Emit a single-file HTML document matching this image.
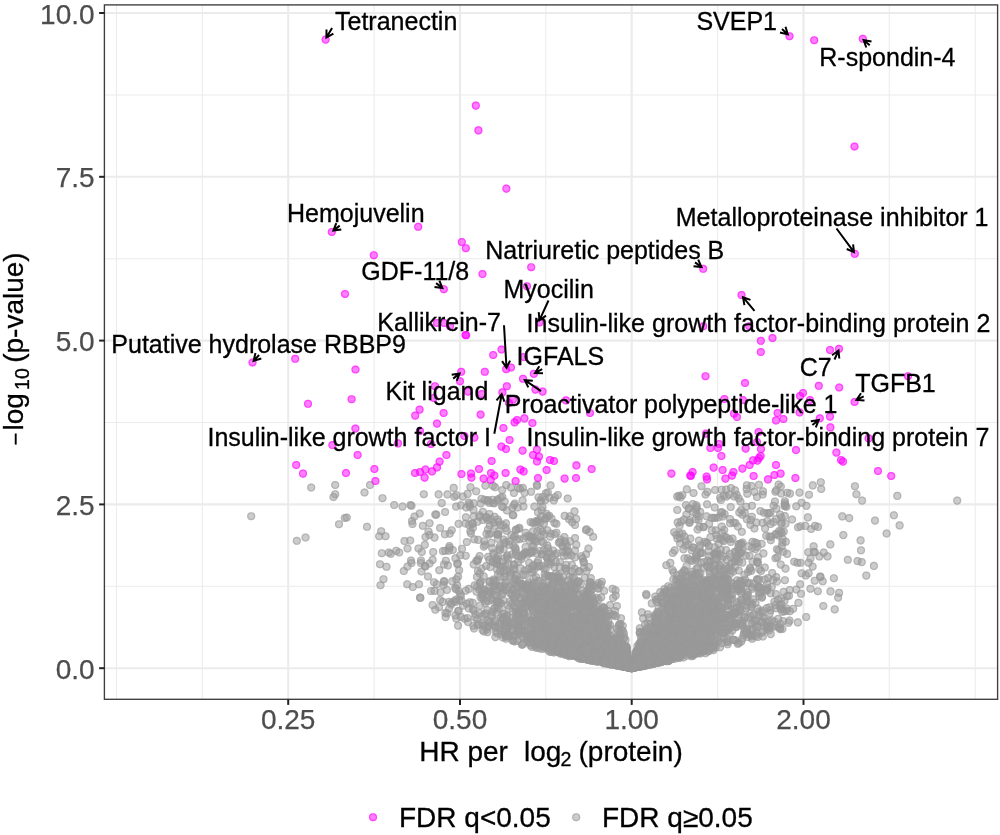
<!DOCTYPE html>
<html><head><meta charset="utf-8"><title>Volcano plot</title>
<style>
html,body{margin:0;padding:0;background:#fff;}
svg{display:block;font-family:"Liberation Sans",sans-serif;}
.tk{font-size:28px;fill:#4d4d4d;stroke:#4d4d4d;stroke-width:.25;}
.tt{font-size:28px;fill:#000;stroke:#000;stroke-width:.3;}
.lb{font-size:25px;fill:#000;stroke:#000;stroke-width:.3;}
.g{fill:#999999;stroke:#999999;}
.m{fill:#ff00ff;stroke:#ff00ff;}
.ar{stroke:#000;stroke-width:2;fill:none;stroke-linecap:butt;stroke-linejoin:miter;}
</style></head><body>
<svg width="1000" height="835" viewBox="0 0 1000 835">
<rect x="0" y="0" width="1000" height="835" fill="#fff"/>
<defs>
<g id="p"><circle r="4.05" fill-opacity=".5" stroke="none"/><circle r="3.45" fill="none" stroke-width="1.2" stroke-opacity=".5"/></g>
<clipPath id="cp"><rect x="104.4" y="4.9" width="893.2" height="694.4"/></clipPath></defs>
<g clip-path="url(#cp)">
<g stroke="#ebebeb" stroke-width="1.05">
<line x1="116.5" x2="116.5" y1="4.9" y2="699.3"/>
<line x1="202.3" x2="202.3" y1="4.9" y2="699.3"/>
<line x1="374.1" x2="374.1" y1="4.9" y2="699.3"/>
<line x1="545.8" x2="545.8" y1="4.9" y2="699.3"/>
<line x1="717.6" x2="717.6" y1="4.9" y2="699.3"/>
<line x1="889.3" x2="889.3" y1="4.9" y2="699.3"/>
<line x1="975.2" x2="975.2" y1="4.9" y2="699.3"/>
<line x1="104.4" x2="997.6" y1="586.3" y2="586.3"/>
<line x1="104.4" x2="997.6" y1="422.5" y2="422.5"/>
<line x1="104.4" x2="997.6" y1="258.7" y2="258.7"/>
<line x1="104.4" x2="997.6" y1="94.9" y2="94.9"/>
</g><g stroke="#ebebeb" stroke-width="2.1">
<line x1="288.2" x2="288.2" y1="4.9" y2="699.3"/>
<line x1="460.0" x2="460.0" y1="4.9" y2="699.3"/>
<line x1="631.7" x2="631.7" y1="4.9" y2="699.3"/>
<line x1="803.5" x2="803.5" y1="4.9" y2="699.3"/>
<line x1="104.4" x2="997.6" y1="668.2" y2="668.2"/>
<line x1="104.4" x2="997.6" y1="504.4" y2="504.4"/>
<line x1="104.4" x2="997.6" y1="340.6" y2="340.6"/>
<line x1="104.4" x2="997.6" y1="176.8" y2="176.8"/>
<line x1="104.4" x2="997.6" y1="13.0" y2="13.0"/>
</g>
<g class="g">
<use href="#p" x="541.6" y="554.0"/><use href="#p" x="623.4" y="661.5"/><use href="#p" x="673.7" y="655.6"/><use href="#p" x="541.3" y="612.6"/><use href="#p" x="662.8" y="621.5"/><use href="#p" x="715.1" y="628.8"/><use href="#p" x="657.7" y="660.5"/><use href="#p" x="694.6" y="652.6"/><use href="#p" x="574.8" y="642.5"/><use href="#p" x="612.8" y="653.0"/><use href="#p" x="697.8" y="647.6"/><use href="#p" x="612.1" y="650.4"/><use href="#p" x="578.9" y="618.3"/><use href="#p" x="700.6" y="598.6"/><use href="#p" x="541.6" y="631.7"/><use href="#p" x="720.3" y="638.6"/><use href="#p" x="545.7" y="518.3"/><use href="#p" x="532.7" y="597.1"/><use href="#p" x="541.6" y="510.2"/><use href="#p" x="598.6" y="643.5"/><use href="#p" x="747.2" y="601.7"/><use href="#p" x="579.5" y="634.5"/><use href="#p" x="558.1" y="581.5"/><use href="#p" x="614.4" y="639.8"/><use href="#p" x="659.7" y="647.4"/><use href="#p" x="558.3" y="641.4"/><use href="#p" x="603.4" y="661.1"/><use href="#p" x="637.9" y="663.6"/><use href="#p" x="547.5" y="516.5"/><use href="#p" x="680.0" y="538.1"/><use href="#p" x="646.1" y="663.9"/><use href="#p" x="539.9" y="618.3"/><use href="#p" x="531.2" y="617.1"/><use href="#p" x="616.7" y="655.8"/><use href="#p" x="676.4" y="534.9"/><use href="#p" x="599.1" y="660.8"/><use href="#p" x="696.4" y="639.0"/><use href="#p" x="636.6" y="656.5"/><use href="#p" x="724.9" y="577.4"/><use href="#p" x="555.1" y="554.8"/><use href="#p" x="638.0" y="666.1"/><use href="#p" x="554.1" y="600.4"/><use href="#p" x="484.0" y="589.4"/><use href="#p" x="462.8" y="496.6"/><use href="#p" x="723.0" y="591.7"/><use href="#p" x="597.4" y="642.4"/><use href="#p" x="726.1" y="583.7"/><use href="#p" x="516.7" y="586.2"/><use href="#p" x="624.5" y="666.1"/><use href="#p" x="495.2" y="626.2"/><use href="#p" x="557.4" y="598.2"/><use href="#p" x="559.6" y="649.0"/><use href="#p" x="419.0" y="584.3"/><use href="#p" x="605.6" y="643.2"/><use href="#p" x="641.5" y="664.0"/><use href="#p" x="575.4" y="588.7"/><use href="#p" x="714.9" y="571.5"/><use href="#p" x="702.0" y="629.5"/><use href="#p" x="517.1" y="640.8"/><use href="#p" x="688.6" y="623.4"/><use href="#p" x="553.2" y="593.4"/><use href="#p" x="719.6" y="607.5"/><use href="#p" x="704.0" y="628.5"/><use href="#p" x="439.1" y="607.2"/><use href="#p" x="702.9" y="650.3"/><use href="#p" x="672.1" y="654.8"/><use href="#p" x="720.9" y="512.4"/><use href="#p" x="592.5" y="624.3"/><use href="#p" x="643.5" y="631.8"/><use href="#p" x="814.9" y="525.9"/><use href="#p" x="601.6" y="655.3"/><use href="#p" x="740.3" y="610.2"/><use href="#p" x="691.9" y="639.0"/><use href="#p" x="489.1" y="621.2"/><use href="#p" x="843.3" y="535.1"/><use href="#p" x="580.0" y="615.6"/><use href="#p" x="744.5" y="605.3"/><use href="#p" x="645.6" y="663.2"/><use href="#p" x="652.9" y="636.2"/><use href="#p" x="609.1" y="661.5"/><use href="#p" x="657.6" y="638.6"/><use href="#p" x="690.1" y="560.0"/><use href="#p" x="613.4" y="650.5"/><use href="#p" x="737.7" y="643.8"/><use href="#p" x="463.0" y="605.7"/><use href="#p" x="681.6" y="624.4"/><use href="#p" x="674.0" y="596.2"/><use href="#p" x="542.7" y="583.3"/><use href="#p" x="470.9" y="533.3"/><use href="#p" x="574.9" y="616.4"/><use href="#p" x="708.5" y="592.0"/><use href="#p" x="536.6" y="521.4"/><use href="#p" x="681.2" y="630.7"/><use href="#p" x="687.3" y="613.8"/><use href="#p" x="641.5" y="665.6"/><use href="#p" x="666.3" y="659.2"/><use href="#p" x="550.2" y="648.6"/><use href="#p" x="647.5" y="659.6"/><use href="#p" x="573.3" y="637.4"/><use href="#p" x="572.2" y="522.3"/><use href="#p" x="644.1" y="660.5"/><use href="#p" x="624.9" y="653.1"/><use href="#p" x="714.0" y="643.1"/><use href="#p" x="661.5" y="661.9"/><use href="#p" x="722.0" y="623.6"/><use href="#p" x="421.5" y="571.5"/><use href="#p" x="707.5" y="582.1"/><use href="#p" x="684.3" y="634.2"/><use href="#p" x="701.6" y="611.4"/><use href="#p" x="686.7" y="630.5"/><use href="#p" x="521.9" y="644.7"/><use href="#p" x="698.8" y="516.5"/><use href="#p" x="668.6" y="660.8"/><use href="#p" x="545.4" y="624.3"/><use href="#p" x="624.0" y="657.2"/><use href="#p" x="578.6" y="618.6"/><use href="#p" x="474.2" y="539.3"/><use href="#p" x="660.3" y="651.5"/><use href="#p" x="534.0" y="624.5"/><use href="#p" x="676.7" y="621.1"/><use href="#p" x="717.2" y="554.1"/><use href="#p" x="479.7" y="573.4"/><use href="#p" x="633.7" y="665.9"/><use href="#p" x="663.4" y="651.6"/><use href="#p" x="781.3" y="517.6"/><use href="#p" x="652.2" y="660.3"/><use href="#p" x="715.4" y="605.1"/><use href="#p" x="677.9" y="642.7"/><use href="#p" x="714.2" y="586.8"/><use href="#p" x="684.5" y="558.3"/><use href="#p" x="693.2" y="653.7"/><use href="#p" x="707.6" y="580.4"/><use href="#p" x="672.9" y="652.1"/><use href="#p" x="641.2" y="663.8"/><use href="#p" x="645.0" y="633.1"/><use href="#p" x="583.6" y="628.0"/><use href="#p" x="591.3" y="620.9"/><use href="#p" x="655.1" y="643.9"/><use href="#p" x="589.5" y="610.6"/><use href="#p" x="494.4" y="608.3"/><use href="#p" x="780.8" y="486.5"/><use href="#p" x="681.3" y="604.2"/><use href="#p" x="646.1" y="657.5"/><use href="#p" x="552.6" y="596.5"/><use href="#p" x="856.4" y="494.2"/><use href="#p" x="823.3" y="606.0"/><use href="#p" x="531.4" y="606.3"/><use href="#p" x="680.1" y="628.6"/><use href="#p" x="765.4" y="590.1"/><use href="#p" x="677.1" y="579.3"/><use href="#p" x="779.7" y="606.0"/><use href="#p" x="758.9" y="592.9"/><use href="#p" x="630.4" y="667.0"/><use href="#p" x="607.5" y="660.7"/><use href="#p" x="618.0" y="636.0"/><use href="#p" x="576.5" y="631.5"/><use href="#p" x="772.0" y="620.2"/><use href="#p" x="685.9" y="541.3"/><use href="#p" x="657.2" y="647.6"/><use href="#p" x="685.9" y="631.2"/><use href="#p" x="686.7" y="636.8"/><use href="#p" x="572.2" y="616.7"/><use href="#p" x="684.3" y="625.1"/><use href="#p" x="465.8" y="590.7"/><use href="#p" x="718.9" y="640.9"/><use href="#p" x="494.3" y="503.3"/><use href="#p" x="654.5" y="660.4"/><use href="#p" x="683.7" y="592.1"/><use href="#p" x="608.5" y="661.4"/><use href="#p" x="557.8" y="591.1"/><use href="#p" x="629.5" y="663.3"/><use href="#p" x="625.5" y="663.4"/><use href="#p" x="532.6" y="633.9"/><use href="#p" x="550.6" y="553.6"/><use href="#p" x="686.2" y="621.6"/><use href="#p" x="670.3" y="562.9"/><use href="#p" x="684.7" y="650.3"/><use href="#p" x="505.6" y="566.0"/><use href="#p" x="721.8" y="526.6"/><use href="#p" x="598.0" y="647.8"/><use href="#p" x="642.1" y="661.6"/><use href="#p" x="533.8" y="611.1"/><use href="#p" x="611.5" y="655.1"/><use href="#p" x="641.0" y="644.2"/><use href="#p" x="619.5" y="665.0"/><use href="#p" x="665.9" y="638.2"/><use href="#p" x="613.2" y="660.7"/><use href="#p" x="620.1" y="639.2"/><use href="#p" x="857.5" y="561.1"/><use href="#p" x="663.1" y="646.3"/><use href="#p" x="676.0" y="608.8"/><use href="#p" x="647.9" y="661.9"/><use href="#p" x="654.9" y="653.1"/><use href="#p" x="696.7" y="647.7"/><use href="#p" x="532.2" y="572.4"/><use href="#p" x="596.8" y="597.7"/><use href="#p" x="589.6" y="612.3"/><use href="#p" x="645.3" y="658.5"/><use href="#p" x="710.1" y="562.1"/><use href="#p" x="513.4" y="546.2"/><use href="#p" x="656.5" y="615.7"/><use href="#p" x="683.1" y="651.8"/><use href="#p" x="626.4" y="662.2"/><use href="#p" x="808.3" y="552.2"/><use href="#p" x="692.0" y="642.1"/><use href="#p" x="481.5" y="568.6"/><use href="#p" x="496.6" y="561.4"/><use href="#p" x="670.8" y="634.8"/><use href="#p" x="529.2" y="598.2"/><use href="#p" x="629.7" y="667.3"/><use href="#p" x="571.8" y="622.5"/><use href="#p" x="604.9" y="653.2"/><use href="#p" x="692.6" y="641.9"/><use href="#p" x="553.8" y="500.4"/><use href="#p" x="775.4" y="491.7"/><use href="#p" x="632.5" y="667.5"/><use href="#p" x="686.2" y="631.9"/><use href="#p" x="519.7" y="609.5"/><use href="#p" x="576.4" y="604.4"/><use href="#p" x="648.1" y="663.0"/><use href="#p" x="741.8" y="531.8"/><use href="#p" x="597.5" y="646.9"/><use href="#p" x="577.8" y="652.9"/><use href="#p" x="678.1" y="625.9"/><use href="#p" x="604.4" y="661.8"/><use href="#p" x="586.8" y="655.9"/><use href="#p" x="584.6" y="653.5"/><use href="#p" x="563.1" y="610.2"/><use href="#p" x="566.3" y="570.5"/><use href="#p" x="536.0" y="577.0"/><use href="#p" x="563.7" y="647.2"/><use href="#p" x="778.7" y="627.4"/><use href="#p" x="562.7" y="612.5"/><use href="#p" x="606.5" y="658.5"/><use href="#p" x="672.3" y="630.4"/><use href="#p" x="616.8" y="660.4"/><use href="#p" x="580.6" y="656.8"/><use href="#p" x="747.6" y="592.5"/><use href="#p" x="636.7" y="665.9"/><use href="#p" x="640.6" y="663.7"/><use href="#p" x="532.2" y="608.8"/><use href="#p" x="432.6" y="559.9"/><use href="#p" x="579.2" y="624.0"/><use href="#p" x="551.7" y="636.4"/><use href="#p" x="631.5" y="668.1"/><use href="#p" x="468.7" y="502.6"/><use href="#p" x="659.3" y="649.2"/><use href="#p" x="644.9" y="665.0"/><use href="#p" x="559.9" y="615.2"/><use href="#p" x="547.7" y="588.6"/><use href="#p" x="556.1" y="591.8"/><use href="#p" x="634.8" y="664.3"/><use href="#p" x="683.9" y="617.3"/><use href="#p" x="553.8" y="648.5"/><use href="#p" x="472.9" y="527.8"/><use href="#p" x="645.4" y="665.7"/><use href="#p" x="670.0" y="623.5"/><use href="#p" x="543.7" y="627.4"/><use href="#p" x="660.0" y="628.9"/><use href="#p" x="546.4" y="513.7"/><use href="#p" x="637.8" y="666.2"/><use href="#p" x="581.3" y="556.2"/><use href="#p" x="692.2" y="605.8"/><use href="#p" x="521.3" y="624.9"/><use href="#p" x="643.9" y="656.6"/><use href="#p" x="733.6" y="622.2"/><use href="#p" x="540.4" y="550.7"/><use href="#p" x="557.9" y="651.7"/><use href="#p" x="296.8" y="540.8"/><use href="#p" x="589.7" y="606.5"/><use href="#p" x="672.0" y="596.2"/><use href="#p" x="614.5" y="663.3"/><use href="#p" x="527.2" y="637.9"/><use href="#p" x="584.7" y="656.2"/><use href="#p" x="797.8" y="622.4"/><use href="#p" x="580.2" y="627.9"/><use href="#p" x="651.9" y="644.6"/><use href="#p" x="547.4" y="575.8"/><use href="#p" x="633.2" y="666.9"/><use href="#p" x="511.6" y="593.4"/><use href="#p" x="489.1" y="534.6"/><use href="#p" x="598.5" y="645.9"/><use href="#p" x="654.5" y="616.8"/><use href="#p" x="732.4" y="630.4"/><use href="#p" x="608.2" y="644.1"/><use href="#p" x="643.4" y="659.5"/><use href="#p" x="605.2" y="661.6"/><use href="#p" x="562.0" y="653.8"/><use href="#p" x="631.7" y="668.2"/><use href="#p" x="578.7" y="581.2"/><use href="#p" x="814.9" y="552.2"/><use href="#p" x="567.2" y="647.3"/><use href="#p" x="586.9" y="627.6"/><use href="#p" x="598.8" y="635.8"/><use href="#p" x="671.3" y="620.4"/><use href="#p" x="674.8" y="645.1"/><use href="#p" x="618.3" y="665.2"/><use href="#p" x="604.5" y="621.3"/><use href="#p" x="531.6" y="590.4"/><use href="#p" x="672.1" y="640.5"/><use href="#p" x="652.1" y="651.8"/><use href="#p" x="626.5" y="663.5"/><use href="#p" x="553.1" y="607.7"/><use href="#p" x="658.7" y="632.0"/><use href="#p" x="539.5" y="642.9"/><use href="#p" x="548.7" y="616.0"/><use href="#p" x="586.9" y="644.4"/><use href="#p" x="698.5" y="651.9"/><use href="#p" x="565.7" y="613.1"/><use href="#p" x="714.3" y="619.6"/><use href="#p" x="576.3" y="627.7"/><use href="#p" x="457.8" y="563.4"/><use href="#p" x="633.7" y="661.0"/><use href="#p" x="714.1" y="554.2"/><use href="#p" x="630.8" y="666.1"/><use href="#p" x="625.6" y="664.5"/><use href="#p" x="622.4" y="662.3"/><use href="#p" x="542.4" y="531.5"/><use href="#p" x="419.7" y="513.5"/><use href="#p" x="743.6" y="634.9"/><use href="#p" x="672.8" y="652.8"/><use href="#p" x="713.5" y="607.0"/><use href="#p" x="449.0" y="601.7"/><use href="#p" x="772.2" y="627.4"/><use href="#p" x="623.6" y="638.8"/><use href="#p" x="621.5" y="664.6"/><use href="#p" x="484.2" y="614.4"/><use href="#p" x="796.3" y="589.5"/><use href="#p" x="769.4" y="536.5"/><use href="#p" x="662.9" y="653.3"/><use href="#p" x="529.9" y="642.8"/><use href="#p" x="626.3" y="660.9"/><use href="#p" x="530.5" y="620.8"/><use href="#p" x="541.2" y="628.4"/><use href="#p" x="691.5" y="629.7"/><use href="#p" x="626.2" y="665.8"/><use href="#p" x="562.6" y="649.0"/><use href="#p" x="561.1" y="593.7"/><use href="#p" x="559.2" y="618.8"/><use href="#p" x="506.4" y="623.8"/><use href="#p" x="711.0" y="612.3"/><use href="#p" x="820.5" y="576.9"/><use href="#p" x="451.3" y="604.6"/><use href="#p" x="610.4" y="664.3"/><use href="#p" x="636.7" y="664.0"/><use href="#p" x="658.8" y="641.5"/><use href="#p" x="685.5" y="643.8"/><use href="#p" x="550.9" y="533.5"/><use href="#p" x="776.2" y="534.2"/><use href="#p" x="674.8" y="632.2"/><use href="#p" x="638.4" y="657.7"/><use href="#p" x="683.0" y="617.5"/><use href="#p" x="646.2" y="649.1"/><use href="#p" x="668.4" y="610.0"/><use href="#p" x="582.6" y="653.1"/><use href="#p" x="713.8" y="629.1"/><use href="#p" x="541.1" y="541.5"/><use href="#p" x="662.6" y="654.9"/><use href="#p" x="610.3" y="661.7"/><use href="#p" x="642.1" y="657.0"/><use href="#p" x="692.7" y="577.7"/><use href="#p" x="599.1" y="623.6"/><use href="#p" x="481.5" y="498.7"/><use href="#p" x="541.1" y="588.0"/><use href="#p" x="668.3" y="649.0"/><use href="#p" x="526.6" y="536.3"/><use href="#p" x="650.6" y="654.9"/><use href="#p" x="593.7" y="652.1"/><use href="#p" x="639.0" y="661.7"/><use href="#p" x="534.5" y="587.6"/><use href="#p" x="623.7" y="664.0"/><use href="#p" x="747.1" y="629.2"/><use href="#p" x="813.8" y="551.8"/><use href="#p" x="629.7" y="666.1"/><use href="#p" x="638.6" y="661.2"/><use href="#p" x="495.4" y="637.1"/><use href="#p" x="684.9" y="605.0"/><use href="#p" x="691.6" y="627.7"/><use href="#p" x="745.1" y="611.0"/><use href="#p" x="541.7" y="610.3"/><use href="#p" x="629.7" y="661.2"/><use href="#p" x="576.6" y="594.1"/><use href="#p" x="696.0" y="584.5"/><use href="#p" x="653.7" y="663.8"/><use href="#p" x="700.4" y="573.0"/><use href="#p" x="489.4" y="592.0"/><use href="#p" x="550.6" y="485.4"/><use href="#p" x="568.2" y="612.6"/><use href="#p" x="637.6" y="666.6"/><use href="#p" x="557.8" y="645.0"/><use href="#p" x="689.7" y="604.6"/><use href="#p" x="619.9" y="639.0"/><use href="#p" x="679.4" y="640.6"/><use href="#p" x="590.0" y="659.3"/><use href="#p" x="676.8" y="586.7"/><use href="#p" x="607.5" y="643.0"/><use href="#p" x="493.5" y="522.6"/><use href="#p" x="544.8" y="605.8"/><use href="#p" x="714.4" y="644.7"/><use href="#p" x="704.0" y="590.3"/><use href="#p" x="571.2" y="619.4"/><use href="#p" x="670.7" y="648.6"/><use href="#p" x="785.5" y="568.6"/><use href="#p" x="616.9" y="645.1"/><use href="#p" x="631.4" y="668.1"/><use href="#p" x="714.6" y="553.9"/><use href="#p" x="628.8" y="666.4"/><use href="#p" x="566.6" y="648.4"/><use href="#p" x="635.7" y="661.3"/><use href="#p" x="596.9" y="616.0"/><use href="#p" x="727.7" y="603.4"/><use href="#p" x="548.8" y="627.8"/><use href="#p" x="613.0" y="643.8"/><use href="#p" x="693.7" y="631.0"/><use href="#p" x="672.7" y="635.3"/><use href="#p" x="703.5" y="526.7"/><use href="#p" x="552.8" y="633.1"/><use href="#p" x="736.3" y="623.1"/><use href="#p" x="621.5" y="644.4"/><use href="#p" x="619.6" y="663.5"/><use href="#p" x="572.5" y="654.0"/><use href="#p" x="651.3" y="662.7"/><use href="#p" x="460.9" y="505.3"/><use href="#p" x="632.1" y="668.0"/><use href="#p" x="563.6" y="614.7"/><use href="#p" x="557.2" y="593.9"/><use href="#p" x="494.8" y="585.8"/><use href="#p" x="631.6" y="668.0"/><use href="#p" x="615.3" y="659.6"/><use href="#p" x="751.9" y="586.9"/><use href="#p" x="672.6" y="626.8"/><use href="#p" x="636.3" y="666.6"/><use href="#p" x="582.6" y="656.2"/><use href="#p" x="608.2" y="636.7"/><use href="#p" x="612.9" y="652.0"/><use href="#p" x="580.9" y="654.7"/><use href="#p" x="613.5" y="663.5"/><use href="#p" x="620.7" y="656.2"/><use href="#p" x="613.2" y="656.0"/><use href="#p" x="747.3" y="583.2"/><use href="#p" x="664.1" y="634.5"/><use href="#p" x="671.1" y="597.6"/><use href="#p" x="615.0" y="658.3"/><use href="#p" x="578.4" y="628.2"/><use href="#p" x="532.6" y="634.5"/><use href="#p" x="775.6" y="534.1"/><use href="#p" x="640.6" y="659.1"/><use href="#p" x="622.3" y="658.8"/><use href="#p" x="613.4" y="614.5"/><use href="#p" x="595.7" y="619.5"/><use href="#p" x="673.3" y="603.3"/><use href="#p" x="534.6" y="629.4"/><use href="#p" x="622.5" y="662.6"/><use href="#p" x="593.3" y="602.2"/><use href="#p" x="618.7" y="625.8"/><use href="#p" x="624.9" y="663.3"/><use href="#p" x="645.1" y="659.3"/><use href="#p" x="502.8" y="566.6"/><use href="#p" x="799.5" y="492.6"/><use href="#p" x="574.0" y="577.6"/><use href="#p" x="641.7" y="655.0"/><use href="#p" x="602.6" y="652.9"/><use href="#p" x="633.1" y="667.8"/><use href="#p" x="557.3" y="647.3"/><use href="#p" x="622.2" y="647.7"/><use href="#p" x="344.8" y="518.0"/><use href="#p" x="610.0" y="635.3"/><use href="#p" x="727.0" y="630.5"/><use href="#p" x="873.9" y="565.9"/><use href="#p" x="686.0" y="505.1"/><use href="#p" x="638.6" y="663.7"/><use href="#p" x="690.8" y="624.3"/><use href="#p" x="557.4" y="642.5"/><use href="#p" x="651.8" y="603.4"/><use href="#p" x="556.8" y="601.0"/><use href="#p" x="626.6" y="665.8"/><use href="#p" x="543.5" y="618.8"/><use href="#p" x="585.9" y="651.5"/><use href="#p" x="808.6" y="562.8"/><use href="#p" x="707.0" y="543.0"/><use href="#p" x="735.9" y="551.7"/><use href="#p" x="627.9" y="665.9"/><use href="#p" x="682.4" y="623.1"/><use href="#p" x="423.8" y="494.2"/><use href="#p" x="460.3" y="555.3"/><use href="#p" x="767.5" y="627.5"/><use href="#p" x="590.9" y="632.6"/><use href="#p" x="599.2" y="656.4"/><use href="#p" x="672.0" y="647.2"/><use href="#p" x="590.5" y="659.1"/><use href="#p" x="620.1" y="657.7"/><use href="#p" x="642.9" y="660.8"/><use href="#p" x="639.2" y="652.2"/><use href="#p" x="606.7" y="660.6"/><use href="#p" x="575.0" y="550.5"/><use href="#p" x="640.1" y="659.3"/><use href="#p" x="588.1" y="639.2"/><use href="#p" x="669.7" y="652.4"/><use href="#p" x="504.0" y="613.5"/><use href="#p" x="724.6" y="536.7"/><use href="#p" x="560.8" y="539.5"/><use href="#p" x="580.5" y="611.1"/><use href="#p" x="591.3" y="612.0"/><use href="#p" x="671.7" y="647.8"/><use href="#p" x="707.6" y="601.7"/><use href="#p" x="644.3" y="657.2"/><use href="#p" x="580.5" y="631.7"/><use href="#p" x="607.7" y="644.3"/><use href="#p" x="591.8" y="637.1"/><use href="#p" x="536.4" y="538.6"/><use href="#p" x="649.8" y="662.4"/><use href="#p" x="517.3" y="630.3"/><use href="#p" x="714.4" y="645.2"/><use href="#p" x="592.0" y="642.4"/><use href="#p" x="559.2" y="641.5"/><use href="#p" x="547.9" y="639.2"/><use href="#p" x="655.7" y="661.7"/><use href="#p" x="520.1" y="488.7"/><use href="#p" x="637.4" y="664.1"/><use href="#p" x="594.7" y="642.5"/><use href="#p" x="634.9" y="658.9"/><use href="#p" x="657.7" y="652.3"/><use href="#p" x="625.3" y="655.3"/><use href="#p" x="622.9" y="662.6"/><use href="#p" x="700.4" y="610.2"/><use href="#p" x="637.9" y="664.3"/><use href="#p" x="716.6" y="622.9"/><use href="#p" x="615.6" y="657.0"/><use href="#p" x="705.8" y="632.4"/><use href="#p" x="634.2" y="667.4"/><use href="#p" x="541.3" y="516.3"/><use href="#p" x="554.4" y="616.9"/><use href="#p" x="800.1" y="584.3"/><use href="#p" x="648.9" y="654.2"/><use href="#p" x="490.3" y="567.1"/><use href="#p" x="723.8" y="586.6"/><use href="#p" x="644.1" y="651.0"/><use href="#p" x="677.1" y="604.4"/><use href="#p" x="545.2" y="500.1"/><use href="#p" x="305.5" y="537.5"/><use href="#p" x="819.5" y="556.4"/><use href="#p" x="691.8" y="625.8"/><use href="#p" x="838.1" y="597.6"/><use href="#p" x="623.5" y="661.9"/><use href="#p" x="705.6" y="630.2"/><use href="#p" x="693.3" y="587.7"/><use href="#p" x="582.8" y="651.8"/><use href="#p" x="615.7" y="658.0"/><use href="#p" x="566.0" y="568.7"/><use href="#p" x="692.9" y="504.0"/><use href="#p" x="700.7" y="553.0"/><use href="#p" x="685.6" y="600.1"/><use href="#p" x="628.5" y="667.4"/><use href="#p" x="594.0" y="656.7"/><use href="#p" x="697.0" y="621.2"/><use href="#p" x="511.6" y="636.5"/><use href="#p" x="676.5" y="625.9"/><use href="#p" x="592.2" y="599.0"/><use href="#p" x="679.0" y="651.3"/><use href="#p" x="553.0" y="593.5"/><use href="#p" x="499.5" y="587.1"/><use href="#p" x="636.7" y="664.3"/><use href="#p" x="693.6" y="596.2"/><use href="#p" x="568.3" y="639.1"/><use href="#p" x="631.5" y="668.2"/><use href="#p" x="579.0" y="658.4"/><use href="#p" x="727.0" y="641.6"/><use href="#p" x="674.8" y="658.8"/><use href="#p" x="595.3" y="623.7"/><use href="#p" x="544.5" y="592.8"/><use href="#p" x="591.3" y="643.5"/><use href="#p" x="703.4" y="650.7"/><use href="#p" x="457.2" y="564.1"/><use href="#p" x="766.2" y="535.8"/><use href="#p" x="677.1" y="620.5"/><use href="#p" x="544.9" y="647.5"/><use href="#p" x="570.3" y="605.1"/><use href="#p" x="516.5" y="626.0"/><use href="#p" x="616.9" y="649.6"/><use href="#p" x="627.4" y="664.3"/><use href="#p" x="678.1" y="637.6"/><use href="#p" x="663.7" y="659.3"/><use href="#p" x="597.6" y="645.0"/><use href="#p" x="513.7" y="537.5"/><use href="#p" x="444.0" y="581.8"/><use href="#p" x="513.0" y="640.3"/><use href="#p" x="667.6" y="633.4"/><use href="#p" x="721.5" y="489.7"/><use href="#p" x="581.4" y="658.9"/><use href="#p" x="466.8" y="603.8"/><use href="#p" x="549.5" y="608.0"/><use href="#p" x="610.0" y="625.0"/><use href="#p" x="728.4" y="598.2"/><use href="#p" x="701.3" y="637.6"/><use href="#p" x="747.0" y="600.5"/><use href="#p" x="722.3" y="623.7"/><use href="#p" x="637.0" y="666.6"/><use href="#p" x="620.3" y="639.0"/><use href="#p" x="677.7" y="522.4"/><use href="#p" x="570.8" y="602.3"/><use href="#p" x="559.1" y="600.8"/><use href="#p" x="551.4" y="590.6"/><use href="#p" x="536.8" y="626.2"/><use href="#p" x="557.8" y="495.1"/><use href="#p" x="569.5" y="648.0"/><use href="#p" x="579.6" y="632.2"/><use href="#p" x="485.4" y="485.6"/><use href="#p" x="548.3" y="603.0"/><use href="#p" x="601.8" y="581.7"/><use href="#p" x="476.2" y="491.3"/><use href="#p" x="679.1" y="614.8"/><use href="#p" x="663.7" y="641.6"/><use href="#p" x="710.2" y="589.3"/><use href="#p" x="687.9" y="592.3"/><use href="#p" x="651.2" y="648.2"/><use href="#p" x="762.7" y="494.5"/><use href="#p" x="563.5" y="585.7"/><use href="#p" x="585.1" y="655.5"/><use href="#p" x="590.7" y="627.4"/><use href="#p" x="678.9" y="615.6"/><use href="#p" x="543.1" y="633.6"/><use href="#p" x="457.0" y="585.3"/><use href="#p" x="666.0" y="661.1"/><use href="#p" x="630.7" y="666.8"/><use href="#p" x="677.7" y="616.4"/><use href="#p" x="555.2" y="598.7"/><use href="#p" x="443.6" y="585.1"/><use href="#p" x="586.4" y="623.5"/><use href="#p" x="609.7" y="647.9"/><use href="#p" x="586.3" y="635.7"/><use href="#p" x="728.2" y="579.8"/><use href="#p" x="522.6" y="500.4"/><use href="#p" x="572.5" y="605.3"/><use href="#p" x="579.8" y="654.9"/><use href="#p" x="680.4" y="641.3"/><use href="#p" x="675.2" y="628.3"/><use href="#p" x="600.1" y="633.6"/><use href="#p" x="592.4" y="645.8"/><use href="#p" x="738.4" y="617.5"/><use href="#p" x="706.3" y="542.9"/><use href="#p" x="558.2" y="577.5"/><use href="#p" x="749.6" y="634.9"/><use href="#p" x="702.5" y="607.0"/><use href="#p" x="367.0" y="526.8"/><use href="#p" x="672.5" y="607.5"/><use href="#p" x="572.0" y="601.1"/><use href="#p" x="617.4" y="664.1"/><use href="#p" x="800.5" y="562.8"/><use href="#p" x="634.7" y="665.3"/><use href="#p" x="742.5" y="622.2"/><use href="#p" x="469.1" y="524.9"/><use href="#p" x="600.7" y="637.9"/><use href="#p" x="667.2" y="655.6"/><use href="#p" x="593.9" y="629.1"/><use href="#p" x="542.8" y="554.5"/><use href="#p" x="626.9" y="652.5"/><use href="#p" x="509.8" y="635.4"/><use href="#p" x="590.6" y="649.6"/><use href="#p" x="528.3" y="590.4"/><use href="#p" x="727.3" y="588.3"/><use href="#p" x="703.7" y="527.1"/><use href="#p" x="723.9" y="569.7"/><use href="#p" x="620.7" y="663.4"/><use href="#p" x="703.7" y="646.3"/><use href="#p" x="539.6" y="566.1"/><use href="#p" x="678.4" y="629.8"/><use href="#p" x="576.3" y="625.9"/><use href="#p" x="514.2" y="564.5"/><use href="#p" x="651.1" y="657.2"/><use href="#p" x="654.8" y="635.4"/><use href="#p" x="549.3" y="576.2"/><use href="#p" x="632.7" y="666.0"/><use href="#p" x="650.6" y="626.7"/><use href="#p" x="637.9" y="666.1"/><use href="#p" x="584.9" y="595.2"/><use href="#p" x="624.1" y="658.5"/><use href="#p" x="487.4" y="632.2"/><use href="#p" x="668.4" y="623.7"/><use href="#p" x="606.6" y="654.8"/><use href="#p" x="645.5" y="632.7"/><use href="#p" x="659.2" y="641.8"/><use href="#p" x="576.3" y="544.7"/><use href="#p" x="584.7" y="653.1"/><use href="#p" x="669.8" y="625.3"/><use href="#p" x="671.5" y="638.7"/><use href="#p" x="717.8" y="625.6"/><use href="#p" x="531.0" y="637.2"/><use href="#p" x="668.6" y="619.7"/><use href="#p" x="563.8" y="633.2"/><use href="#p" x="708.5" y="590.0"/><use href="#p" x="594.5" y="633.6"/><use href="#p" x="589.2" y="596.4"/><use href="#p" x="637.3" y="659.0"/><use href="#p" x="524.0" y="614.1"/><use href="#p" x="577.4" y="634.6"/><use href="#p" x="553.5" y="646.4"/><use href="#p" x="686.6" y="630.8"/><use href="#p" x="596.5" y="656.7"/><use href="#p" x="519.4" y="527.9"/><use href="#p" x="637.1" y="665.6"/><use href="#p" x="653.0" y="649.2"/><use href="#p" x="553.9" y="637.6"/><use href="#p" x="567.2" y="585.4"/><use href="#p" x="588.4" y="548.6"/><use href="#p" x="546.4" y="648.0"/><use href="#p" x="470.5" y="487.2"/><use href="#p" x="661.5" y="633.3"/><use href="#p" x="682.4" y="533.6"/><use href="#p" x="706.8" y="647.3"/><use href="#p" x="647.8" y="660.2"/><use href="#p" x="611.7" y="645.7"/><use href="#p" x="512.2" y="554.3"/><use href="#p" x="649.1" y="649.4"/><use href="#p" x="667.3" y="639.9"/><use href="#p" x="531.7" y="623.9"/><use href="#p" x="451.1" y="603.0"/><use href="#p" x="661.4" y="645.8"/><use href="#p" x="708.2" y="584.5"/><use href="#p" x="591.6" y="616.8"/><use href="#p" x="603.1" y="662.7"/><use href="#p" x="488.1" y="556.8"/><use href="#p" x="671.2" y="628.4"/><use href="#p" x="626.3" y="665.1"/><use href="#p" x="578.3" y="617.6"/><use href="#p" x="660.3" y="592.0"/><use href="#p" x="567.5" y="591.4"/><use href="#p" x="660.6" y="661.9"/><use href="#p" x="627.6" y="659.5"/><use href="#p" x="606.4" y="652.7"/><use href="#p" x="683.1" y="593.4"/><use href="#p" x="483.8" y="546.6"/><use href="#p" x="672.6" y="639.6"/><use href="#p" x="706.0" y="598.1"/><use href="#p" x="830.3" y="544.4"/><use href="#p" x="650.1" y="656.3"/><use href="#p" x="620.6" y="660.2"/><use href="#p" x="566.9" y="644.5"/><use href="#p" x="638.6" y="663.8"/><use href="#p" x="602.4" y="659.1"/><use href="#p" x="477.2" y="625.0"/><use href="#p" x="596.7" y="648.9"/><use href="#p" x="634.2" y="665.6"/><use href="#p" x="687.5" y="630.0"/><use href="#p" x="482.9" y="511.9"/><use href="#p" x="434.5" y="590.9"/><use href="#p" x="689.4" y="622.8"/><use href="#p" x="583.7" y="657.4"/><use href="#p" x="515.4" y="602.3"/><use href="#p" x="625.5" y="665.9"/><use href="#p" x="628.1" y="667.6"/><use href="#p" x="628.0" y="656.5"/><use href="#p" x="501.0" y="603.4"/><use href="#p" x="751.7" y="636.5"/><use href="#p" x="595.1" y="611.6"/><use href="#p" x="577.4" y="633.2"/><use href="#p" x="540.9" y="623.2"/><use href="#p" x="724.6" y="514.0"/><use href="#p" x="618.8" y="661.5"/><use href="#p" x="581.5" y="636.5"/><use href="#p" x="600.2" y="611.2"/><use href="#p" x="507.7" y="636.4"/><use href="#p" x="548.5" y="650.6"/><use href="#p" x="645.9" y="630.7"/><use href="#p" x="682.8" y="646.4"/><use href="#p" x="519.2" y="539.2"/><use href="#p" x="709.2" y="590.5"/><use href="#p" x="568.7" y="601.1"/><use href="#p" x="646.8" y="661.8"/><use href="#p" x="694.9" y="591.3"/><use href="#p" x="755.6" y="626.8"/><use href="#p" x="690.3" y="538.6"/><use href="#p" x="602.5" y="652.9"/><use href="#p" x="619.6" y="664.4"/><use href="#p" x="503.3" y="629.2"/><use href="#p" x="689.1" y="599.7"/><use href="#p" x="615.9" y="616.2"/><use href="#p" x="615.6" y="660.8"/><use href="#p" x="650.9" y="652.2"/><use href="#p" x="702.6" y="630.7"/><use href="#p" x="579.2" y="649.6"/><use href="#p" x="493.5" y="579.6"/><use href="#p" x="564.1" y="610.0"/><use href="#p" x="643.9" y="650.5"/><use href="#p" x="735.5" y="523.0"/><use href="#p" x="553.6" y="615.4"/><use href="#p" x="667.6" y="623.4"/><use href="#p" x="493.2" y="561.9"/><use href="#p" x="527.5" y="621.4"/><use href="#p" x="425.5" y="537.0"/><use href="#p" x="627.6" y="666.5"/><use href="#p" x="636.9" y="666.1"/><use href="#p" x="611.1" y="644.9"/><use href="#p" x="684.7" y="637.1"/><use href="#p" x="653.1" y="662.6"/><use href="#p" x="658.1" y="620.3"/><use href="#p" x="687.1" y="595.9"/><use href="#p" x="669.1" y="639.5"/><use href="#p" x="557.8" y="589.3"/><use href="#p" x="635.2" y="658.7"/><use href="#p" x="668.6" y="627.3"/><use href="#p" x="643.1" y="665.5"/><use href="#p" x="780.7" y="608.9"/><use href="#p" x="565.1" y="610.5"/><use href="#p" x="681.2" y="521.6"/><use href="#p" x="654.4" y="642.5"/><use href="#p" x="480.6" y="597.6"/><use href="#p" x="706.9" y="580.8"/><use href="#p" x="656.0" y="635.9"/><use href="#p" x="603.5" y="662.6"/><use href="#p" x="530.6" y="522.0"/><use href="#p" x="675.0" y="600.5"/><use href="#p" x="649.6" y="651.8"/><use href="#p" x="617.4" y="664.2"/><use href="#p" x="567.6" y="550.7"/><use href="#p" x="751.5" y="486.1"/><use href="#p" x="486.5" y="533.8"/><use href="#p" x="626.1" y="647.8"/><use href="#p" x="549.8" y="596.0"/><use href="#p" x="709.8" y="570.4"/><use href="#p" x="570.8" y="607.0"/><use href="#p" x="696.8" y="593.8"/><use href="#p" x="648.7" y="644.4"/><use href="#p" x="686.1" y="594.1"/><use href="#p" x="691.6" y="648.6"/><use href="#p" x="492.1" y="615.8"/><use href="#p" x="618.1" y="643.6"/><use href="#p" x="665.1" y="644.0"/><use href="#p" x="766.8" y="608.1"/><use href="#p" x="504.2" y="577.2"/><use href="#p" x="713.2" y="608.0"/><use href="#p" x="527.5" y="554.8"/><use href="#p" x="522.9" y="554.9"/><use href="#p" x="643.5" y="663.8"/><use href="#p" x="669.0" y="643.8"/><use href="#p" x="570.7" y="612.8"/><use href="#p" x="711.1" y="614.8"/><use href="#p" x="633.0" y="665.5"/><use href="#p" x="789.7" y="590.0"/><use href="#p" x="723.6" y="541.2"/><use href="#p" x="622.5" y="665.5"/><use href="#p" x="875.0" y="520.6"/><use href="#p" x="569.2" y="632.1"/><use href="#p" x="514.8" y="503.5"/><use href="#p" x="537.4" y="530.8"/><use href="#p" x="566.3" y="627.1"/><use href="#p" x="663.2" y="630.0"/><use href="#p" x="636.0" y="666.0"/><use href="#p" x="522.3" y="619.9"/><use href="#p" x="691.3" y="653.5"/><use href="#p" x="677.3" y="616.6"/><use href="#p" x="636.7" y="661.5"/><use href="#p" x="621.0" y="657.2"/><use href="#p" x="700.3" y="621.0"/><use href="#p" x="665.5" y="591.4"/><use href="#p" x="598.1" y="635.3"/><use href="#p" x="565.4" y="551.9"/><use href="#p" x="630.5" y="668.0"/><use href="#p" x="730.6" y="557.2"/><use href="#p" x="561.9" y="647.1"/><use href="#p" x="577.1" y="626.3"/><use href="#p" x="613.6" y="659.1"/><use href="#p" x="390.8" y="553.8"/><use href="#p" x="623.5" y="665.1"/><use href="#p" x="633.9" y="666.1"/><use href="#p" x="644.2" y="664.7"/><use href="#p" x="641.2" y="659.8"/><use href="#p" x="541.9" y="590.4"/><use href="#p" x="591.1" y="622.7"/><use href="#p" x="701.8" y="613.0"/><use href="#p" x="680.0" y="655.6"/><use href="#p" x="590.4" y="619.1"/><use href="#p" x="563.2" y="577.0"/><use href="#p" x="708.3" y="606.9"/><use href="#p" x="477.5" y="560.9"/><use href="#p" x="589.6" y="531.9"/><use href="#p" x="593.5" y="653.7"/><use href="#p" x="530.3" y="643.0"/><use href="#p" x="711.8" y="588.8"/><use href="#p" x="543.8" y="605.1"/><use href="#p" x="662.0" y="635.2"/><use href="#p" x="622.4" y="643.8"/><use href="#p" x="566.8" y="652.0"/><use href="#p" x="757.2" y="562.3"/><use href="#p" x="583.5" y="561.8"/><use href="#p" x="588.3" y="627.2"/><use href="#p" x="563.6" y="605.3"/><use href="#p" x="586.8" y="651.9"/><use href="#p" x="653.1" y="645.1"/><use href="#p" x="632.2" y="666.9"/><use href="#p" x="686.5" y="616.1"/><use href="#p" x="733.7" y="583.7"/><use href="#p" x="640.0" y="665.4"/><use href="#p" x="518.1" y="628.7"/><use href="#p" x="569.7" y="632.9"/><use href="#p" x="762.0" y="610.5"/><use href="#p" x="752.1" y="604.2"/><use href="#p" x="592.0" y="643.5"/><use href="#p" x="699.3" y="652.9"/><use href="#p" x="642.3" y="655.5"/><use href="#p" x="668.8" y="641.8"/><use href="#p" x="468.9" y="608.5"/><use href="#p" x="661.4" y="626.5"/><use href="#p" x="557.0" y="597.2"/><use href="#p" x="782.6" y="538.9"/><use href="#p" x="606.1" y="637.1"/><use href="#p" x="516.9" y="613.5"/><use href="#p" x="692.7" y="635.4"/><use href="#p" x="603.5" y="658.1"/><use href="#p" x="516.3" y="612.6"/><use href="#p" x="598.8" y="660.6"/><use href="#p" x="693.6" y="611.6"/><use href="#p" x="673.3" y="625.8"/><use href="#p" x="587.1" y="590.4"/><use href="#p" x="525.6" y="532.8"/><use href="#p" x="608.7" y="639.9"/><use href="#p" x="681.8" y="642.3"/><use href="#p" x="709.8" y="634.5"/><use href="#p" x="639.9" y="663.8"/><use href="#p" x="780.1" y="514.6"/><use href="#p" x="774.3" y="601.7"/><use href="#p" x="586.1" y="652.9"/><use href="#p" x="706.0" y="585.9"/><use href="#p" x="729.8" y="553.8"/><use href="#p" x="625.0" y="661.7"/><use href="#p" x="653.6" y="651.9"/><use href="#p" x="730.8" y="586.2"/><use href="#p" x="536.9" y="484.8"/><use href="#p" x="691.4" y="614.1"/><use href="#p" x="519.6" y="609.6"/><use href="#p" x="488.9" y="594.3"/><use href="#p" x="612.5" y="653.0"/><use href="#p" x="645.4" y="664.3"/><use href="#p" x="637.2" y="663.4"/><use href="#p" x="691.2" y="598.6"/><use href="#p" x="728.0" y="600.1"/><use href="#p" x="717.0" y="575.8"/><use href="#p" x="537.5" y="620.0"/><use href="#p" x="662.2" y="639.5"/><use href="#p" x="637.4" y="646.1"/><use href="#p" x="632.7" y="668.0"/><use href="#p" x="681.7" y="652.9"/><use href="#p" x="752.5" y="541.8"/><use href="#p" x="630.5" y="667.9"/><use href="#p" x="642.2" y="665.5"/><use href="#p" x="727.3" y="588.5"/><use href="#p" x="477.0" y="586.6"/><use href="#p" x="598.5" y="613.7"/><use href="#p" x="610.0" y="664.2"/><use href="#p" x="675.2" y="596.1"/><use href="#p" x="678.1" y="622.6"/><use href="#p" x="489.7" y="581.6"/><use href="#p" x="670.8" y="627.1"/><use href="#p" x="657.8" y="616.8"/><use href="#p" x="579.9" y="609.2"/><use href="#p" x="682.7" y="573.4"/><use href="#p" x="627.4" y="665.5"/><use href="#p" x="604.8" y="647.4"/><use href="#p" x="559.2" y="581.2"/><use href="#p" x="694.6" y="619.2"/><use href="#p" x="669.8" y="638.0"/><use href="#p" x="659.5" y="649.3"/><use href="#p" x="609.1" y="654.7"/><use href="#p" x="597.8" y="659.7"/><use href="#p" x="459.2" y="599.9"/><use href="#p" x="449.8" y="533.6"/><use href="#p" x="693.0" y="636.3"/><use href="#p" x="658.1" y="655.3"/><use href="#p" x="679.1" y="597.7"/><use href="#p" x="473.6" y="610.6"/><use href="#p" x="579.5" y="571.4"/><use href="#p" x="532.7" y="590.7"/><use href="#p" x="659.4" y="638.3"/><use href="#p" x="787.1" y="492.7"/><use href="#p" x="630.4" y="665.1"/><use href="#p" x="517.7" y="614.1"/><use href="#p" x="741.0" y="543.6"/><use href="#p" x="750.2" y="567.8"/><use href="#p" x="693.0" y="653.2"/><use href="#p" x="656.0" y="622.2"/><use href="#p" x="589.6" y="649.7"/><use href="#p" x="528.5" y="598.7"/><use href="#p" x="637.6" y="664.2"/><use href="#p" x="606.4" y="648.2"/><use href="#p" x="736.7" y="626.8"/><use href="#p" x="580.9" y="630.9"/><use href="#p" x="651.9" y="635.4"/><use href="#p" x="658.7" y="653.0"/><use href="#p" x="767.6" y="587.7"/><use href="#p" x="640.6" y="660.4"/><use href="#p" x="553.9" y="652.4"/><use href="#p" x="477.9" y="571.1"/><use href="#p" x="555.7" y="561.9"/><use href="#p" x="680.7" y="639.2"/><use href="#p" x="762.0" y="597.6"/><use href="#p" x="489.5" y="586.6"/><use href="#p" x="649.4" y="657.6"/><use href="#p" x="633.4" y="665.1"/><use href="#p" x="497.3" y="563.6"/><use href="#p" x="730.4" y="627.4"/><use href="#p" x="680.5" y="606.9"/><use href="#p" x="575.8" y="653.5"/><use href="#p" x="643.9" y="659.9"/><use href="#p" x="752.5" y="623.1"/><use href="#p" x="625.5" y="640.1"/><use href="#p" x="607.5" y="663.0"/><use href="#p" x="563.4" y="619.5"/><use href="#p" x="600.4" y="657.9"/><use href="#p" x="717.1" y="551.4"/><use href="#p" x="626.9" y="648.8"/><use href="#p" x="510.0" y="601.7"/><use href="#p" x="498.2" y="592.5"/><use href="#p" x="572.9" y="645.4"/><use href="#p" x="496.7" y="601.3"/><use href="#p" x="467.5" y="618.0"/><use href="#p" x="506.0" y="541.9"/><use href="#p" x="649.0" y="660.6"/><use href="#p" x="592.5" y="585.3"/><use href="#p" x="569.4" y="596.5"/><use href="#p" x="567.2" y="615.0"/><use href="#p" x="645.1" y="624.3"/><use href="#p" x="572.0" y="644.8"/><use href="#p" x="604.1" y="590.9"/><use href="#p" x="562.6" y="644.6"/><use href="#p" x="339.0" y="524.2"/><use href="#p" x="649.0" y="655.2"/><use href="#p" x="624.5" y="666.9"/><use href="#p" x="646.2" y="662.2"/><use href="#p" x="622.0" y="662.6"/><use href="#p" x="720.2" y="606.7"/><use href="#p" x="699.1" y="621.8"/><use href="#p" x="664.9" y="636.2"/><use href="#p" x="708.8" y="617.5"/><use href="#p" x="598.6" y="588.5"/><use href="#p" x="692.4" y="592.0"/><use href="#p" x="585.1" y="634.9"/><use href="#p" x="545.0" y="616.0"/><use href="#p" x="690.4" y="619.5"/><use href="#p" x="364.5" y="492.5"/><use href="#p" x="596.9" y="585.5"/><use href="#p" x="746.9" y="485.2"/><use href="#p" x="660.3" y="647.0"/><use href="#p" x="688.1" y="644.4"/><use href="#p" x="560.5" y="652.2"/><use href="#p" x="727.1" y="631.0"/><use href="#p" x="476.5" y="591.7"/><use href="#p" x="646.7" y="657.6"/><use href="#p" x="529.1" y="636.4"/><use href="#p" x="561.6" y="596.8"/><use href="#p" x="655.2" y="623.0"/><use href="#p" x="602.5" y="647.8"/><use href="#p" x="579.3" y="655.8"/><use href="#p" x="538.0" y="609.2"/><use href="#p" x="583.2" y="615.0"/><use href="#p" x="721.6" y="584.7"/><use href="#p" x="624.3" y="660.2"/><use href="#p" x="580.7" y="598.8"/><use href="#p" x="712.7" y="598.9"/><use href="#p" x="491.3" y="542.8"/><use href="#p" x="518.2" y="487.9"/><use href="#p" x="695.1" y="574.9"/><use href="#p" x="539.9" y="589.2"/><use href="#p" x="599.2" y="660.7"/><use href="#p" x="562.9" y="552.0"/><use href="#p" x="762.6" y="522.8"/><use href="#p" x="594.1" y="649.9"/><use href="#p" x="584.7" y="627.1"/><use href="#p" x="574.6" y="652.2"/><use href="#p" x="502.9" y="637.5"/><use href="#p" x="698.8" y="647.3"/><use href="#p" x="605.6" y="655.8"/><use href="#p" x="646.4" y="629.1"/><use href="#p" x="658.1" y="633.3"/><use href="#p" x="686.3" y="610.5"/><use href="#p" x="589.8" y="643.8"/><use href="#p" x="682.0" y="624.6"/><use href="#p" x="549.4" y="637.3"/><use href="#p" x="575.9" y="631.0"/><use href="#p" x="661.6" y="650.8"/><use href="#p" x="662.6" y="655.1"/><use href="#p" x="630.3" y="664.3"/><use href="#p" x="630.7" y="666.0"/><use href="#p" x="697.6" y="529.5"/><use href="#p" x="560.6" y="634.4"/><use href="#p" x="585.4" y="622.6"/><use href="#p" x="715.7" y="553.6"/><use href="#p" x="597.6" y="660.9"/><use href="#p" x="646.3" y="658.0"/><use href="#p" x="709.3" y="611.8"/><use href="#p" x="622.9" y="645.7"/><use href="#p" x="535.7" y="602.3"/><use href="#p" x="550.1" y="602.3"/><use href="#p" x="576.2" y="518.9"/><use href="#p" x="730.7" y="619.4"/><use href="#p" x="726.4" y="615.1"/><use href="#p" x="630.2" y="665.1"/><use href="#p" x="496.9" y="595.2"/><use href="#p" x="616.1" y="656.2"/><use href="#p" x="713.4" y="603.2"/><use href="#p" x="714.4" y="564.7"/><use href="#p" x="660.6" y="647.0"/><use href="#p" x="643.3" y="664.0"/><use href="#p" x="506.4" y="581.0"/><use href="#p" x="719.1" y="630.5"/><use href="#p" x="565.1" y="653.8"/><use href="#p" x="499.8" y="624.3"/><use href="#p" x="592.1" y="643.4"/><use href="#p" x="602.7" y="647.6"/><use href="#p" x="768.6" y="627.6"/><use href="#p" x="704.4" y="634.2"/><use href="#p" x="568.3" y="597.1"/><use href="#p" x="613.4" y="651.1"/><use href="#p" x="701.0" y="562.9"/><use href="#p" x="610.2" y="651.4"/><use href="#p" x="783.3" y="551.8"/><use href="#p" x="648.9" y="656.7"/><use href="#p" x="630.6" y="666.2"/><use href="#p" x="590.8" y="623.1"/><use href="#p" x="624.1" y="666.3"/><use href="#p" x="510.7" y="622.4"/><use href="#p" x="738.4" y="589.9"/><use href="#p" x="606.3" y="661.8"/><use href="#p" x="563.2" y="650.6"/><use href="#p" x="604.7" y="652.5"/><use href="#p" x="510.7" y="618.2"/><use href="#p" x="700.3" y="552.4"/><use href="#p" x="549.2" y="614.1"/><use href="#p" x="490.9" y="592.5"/><use href="#p" x="644.2" y="664.8"/><use href="#p" x="691.8" y="647.0"/><use href="#p" x="629.9" y="667.1"/><use href="#p" x="597.4" y="638.2"/><use href="#p" x="746.2" y="596.6"/><use href="#p" x="646.8" y="653.2"/><use href="#p" x="646.0" y="663.1"/><use href="#p" x="720.1" y="497.8"/><use href="#p" x="600.3" y="638.0"/><use href="#p" x="556.5" y="606.6"/><use href="#p" x="567.1" y="592.4"/><use href="#p" x="619.4" y="661.2"/><use href="#p" x="560.6" y="599.7"/><use href="#p" x="600.8" y="627.9"/><use href="#p" x="714.1" y="578.1"/><use href="#p" x="584.6" y="612.6"/><use href="#p" x="499.8" y="550.0"/><use href="#p" x="583.5" y="643.6"/><use href="#p" x="613.8" y="658.4"/><use href="#p" x="529.1" y="641.8"/><use href="#p" x="568.4" y="634.9"/><use href="#p" x="591.2" y="590.3"/><use href="#p" x="658.5" y="648.5"/><use href="#p" x="737.0" y="624.5"/><use href="#p" x="761.8" y="596.8"/><use href="#p" x="573.4" y="602.0"/><use href="#p" x="679.6" y="616.7"/><use href="#p" x="727.2" y="592.1"/><use href="#p" x="673.3" y="635.4"/><use href="#p" x="517.4" y="620.0"/><use href="#p" x="703.7" y="567.8"/><use href="#p" x="648.7" y="663.4"/><use href="#p" x="680.7" y="636.8"/><use href="#p" x="603.7" y="650.4"/><use href="#p" x="547.8" y="492.5"/><use href="#p" x="380.0" y="564.2"/><use href="#p" x="575.6" y="627.3"/><use href="#p" x="602.9" y="608.1"/><use href="#p" x="751.0" y="635.0"/><use href="#p" x="381.2" y="531.2"/><use href="#p" x="613.7" y="649.8"/><use href="#p" x="746.6" y="489.1"/><use href="#p" x="636.7" y="653.7"/><use href="#p" x="512.0" y="585.3"/><use href="#p" x="615.9" y="652.2"/><use href="#p" x="637.0" y="661.8"/><use href="#p" x="649.1" y="662.0"/><use href="#p" x="455.8" y="589.1"/><use href="#p" x="691.2" y="631.4"/><use href="#p" x="479.7" y="516.9"/><use href="#p" x="645.8" y="652.2"/><use href="#p" x="644.3" y="651.9"/><use href="#p" x="588.2" y="625.3"/><use href="#p" x="581.3" y="658.7"/><use href="#p" x="602.7" y="634.3"/><use href="#p" x="656.3" y="641.3"/><use href="#p" x="722.0" y="622.9"/><use href="#p" x="737.1" y="580.4"/><use href="#p" x="472.5" y="523.2"/><use href="#p" x="684.6" y="641.6"/><use href="#p" x="557.1" y="642.3"/><use href="#p" x="568.5" y="618.0"/><use href="#p" x="744.8" y="512.9"/><use href="#p" x="655.5" y="634.8"/><use href="#p" x="700.1" y="629.9"/><use href="#p" x="617.7" y="647.9"/><use href="#p" x="651.6" y="662.8"/><use href="#p" x="638.1" y="665.0"/><use href="#p" x="514.6" y="578.7"/><use href="#p" x="548.0" y="602.3"/><use href="#p" x="671.7" y="601.5"/><use href="#p" x="587.5" y="603.6"/><use href="#p" x="512.6" y="640.7"/><use href="#p" x="495.8" y="631.5"/><use href="#p" x="523.5" y="614.2"/><use href="#p" x="590.0" y="619.8"/><use href="#p" x="684.1" y="632.0"/><use href="#p" x="689.7" y="613.5"/><use href="#p" x="584.1" y="613.7"/><use href="#p" x="620.5" y="657.0"/><use href="#p" x="720.2" y="576.3"/><use href="#p" x="547.0" y="587.9"/><use href="#p" x="504.4" y="543.4"/><use href="#p" x="516.1" y="611.2"/><use href="#p" x="671.1" y="602.7"/><use href="#p" x="599.8" y="647.2"/><use href="#p" x="486.1" y="516.9"/><use href="#p" x="609.4" y="662.7"/><use href="#p" x="770.4" y="512.8"/><use href="#p" x="675.2" y="639.1"/><use href="#p" x="653.7" y="658.9"/><use href="#p" x="767.1" y="590.7"/><use href="#p" x="655.6" y="635.6"/><use href="#p" x="506.2" y="485.1"/><use href="#p" x="705.3" y="583.4"/><use href="#p" x="726.9" y="593.5"/><use href="#p" x="702.0" y="650.4"/><use href="#p" x="531.6" y="552.9"/><use href="#p" x="668.2" y="642.3"/><use href="#p" x="544.7" y="574.2"/><use href="#p" x="633.8" y="667.2"/><use href="#p" x="672.8" y="651.1"/><use href="#p" x="499.8" y="546.3"/><use href="#p" x="686.6" y="626.1"/><use href="#p" x="680.9" y="647.4"/><use href="#p" x="662.3" y="602.2"/><use href="#p" x="564.9" y="628.4"/><use href="#p" x="692.9" y="632.2"/><use href="#p" x="713.5" y="568.4"/><use href="#p" x="698.2" y="594.9"/><use href="#p" x="736.1" y="640.6"/><use href="#p" x="674.3" y="609.2"/><use href="#p" x="335.2" y="485.0"/><use href="#p" x="586.7" y="592.9"/><use href="#p" x="598.1" y="661.9"/><use href="#p" x="598.9" y="648.0"/><use href="#p" x="727.1" y="586.6"/><use href="#p" x="698.2" y="642.7"/><use href="#p" x="588.6" y="589.7"/><use href="#p" x="460.2" y="594.1"/><use href="#p" x="507.2" y="615.7"/><use href="#p" x="574.7" y="568.8"/><use href="#p" x="610.6" y="648.3"/><use href="#p" x="396.2" y="550.8"/><use href="#p" x="607.1" y="652.6"/><use href="#p" x="742.4" y="514.7"/><use href="#p" x="776.2" y="577.0"/><use href="#p" x="484.9" y="625.7"/><use href="#p" x="682.5" y="650.3"/><use href="#p" x="568.7" y="649.7"/><use href="#p" x="671.5" y="644.6"/><use href="#p" x="655.4" y="648.6"/><use href="#p" x="590.1" y="653.3"/><use href="#p" x="633.7" y="663.1"/><use href="#p" x="661.4" y="639.8"/><use href="#p" x="562.8" y="646.4"/><use href="#p" x="581.9" y="603.6"/><use href="#p" x="625.6" y="667.0"/><use href="#p" x="684.1" y="647.2"/><use href="#p" x="587.7" y="641.8"/><use href="#p" x="335.2" y="494.2"/><use href="#p" x="683.9" y="649.5"/><use href="#p" x="696.6" y="653.4"/><use href="#p" x="769.5" y="620.9"/><use href="#p" x="752.2" y="588.8"/><use href="#p" x="746.9" y="633.7"/><use href="#p" x="632.0" y="667.7"/><use href="#p" x="780.7" y="564.6"/><use href="#p" x="621.3" y="666.3"/><use href="#p" x="683.5" y="606.9"/><use href="#p" x="665.2" y="638.0"/><use href="#p" x="771.2" y="536.8"/><use href="#p" x="445.3" y="550.8"/><use href="#p" x="743.9" y="586.7"/><use href="#p" x="690.7" y="582.5"/><use href="#p" x="557.1" y="629.6"/><use href="#p" x="617.0" y="645.6"/><use href="#p" x="636.9" y="657.9"/><use href="#p" x="588.1" y="615.4"/><use href="#p" x="784.8" y="503.4"/><use href="#p" x="672.3" y="636.7"/><use href="#p" x="541.7" y="619.1"/><use href="#p" x="506.4" y="616.0"/><use href="#p" x="676.5" y="651.8"/><use href="#p" x="604.6" y="660.3"/><use href="#p" x="708.9" y="545.9"/><use href="#p" x="646.3" y="657.8"/><use href="#p" x="617.8" y="631.9"/><use href="#p" x="654.0" y="645.2"/><use href="#p" x="653.7" y="660.9"/><use href="#p" x="718.3" y="620.3"/><use href="#p" x="483.4" y="598.5"/><use href="#p" x="537.7" y="616.1"/><use href="#p" x="563.3" y="631.2"/><use href="#p" x="638.4" y="664.1"/><use href="#p" x="692.7" y="547.4"/><use href="#p" x="569.9" y="576.4"/><use href="#p" x="414.5" y="516.5"/><use href="#p" x="634.1" y="662.9"/><use href="#p" x="506.0" y="589.6"/><use href="#p" x="630.6" y="665.1"/><use href="#p" x="735.2" y="623.5"/><use href="#p" x="514.0" y="505.1"/><use href="#p" x="581.8" y="651.2"/><use href="#p" x="683.7" y="592.1"/><use href="#p" x="723.0" y="595.2"/><use href="#p" x="620.5" y="661.2"/><use href="#p" x="428.0" y="576.5"/><use href="#p" x="674.8" y="648.7"/><use href="#p" x="620.7" y="661.8"/><use href="#p" x="613.5" y="664.6"/><use href="#p" x="574.8" y="640.5"/><use href="#p" x="739.1" y="544.3"/><use href="#p" x="553.5" y="601.5"/><use href="#p" x="715.0" y="615.8"/><use href="#p" x="558.6" y="599.6"/><use href="#p" x="516.0" y="552.5"/><use href="#p" x="449.1" y="608.7"/><use href="#p" x="647.3" y="659.5"/><use href="#p" x="613.0" y="658.9"/><use href="#p" x="617.2" y="665.6"/><use href="#p" x="729.5" y="567.2"/><use href="#p" x="628.4" y="667.2"/><use href="#p" x="649.9" y="654.9"/><use href="#p" x="647.2" y="662.4"/><use href="#p" x="693.2" y="624.3"/><use href="#p" x="670.5" y="607.0"/><use href="#p" x="726.4" y="568.6"/><use href="#p" x="595.4" y="638.2"/><use href="#p" x="739.3" y="611.0"/><use href="#p" x="813.6" y="546.3"/><use href="#p" x="718.1" y="627.2"/><use href="#p" x="786.7" y="608.5"/><use href="#p" x="627.4" y="661.9"/><use href="#p" x="654.9" y="662.3"/><use href="#p" x="658.9" y="658.6"/><use href="#p" x="618.1" y="653.4"/><use href="#p" x="692.1" y="578.7"/><use href="#p" x="611.1" y="649.2"/><use href="#p" x="648.7" y="656.6"/><use href="#p" x="608.7" y="661.0"/><use href="#p" x="444.1" y="581.0"/><use href="#p" x="705.2" y="619.2"/><use href="#p" x="700.4" y="593.8"/><use href="#p" x="696.4" y="568.7"/><use href="#p" x="740.5" y="589.5"/><use href="#p" x="526.0" y="552.2"/><use href="#p" x="531.5" y="620.3"/><use href="#p" x="598.0" y="647.7"/><use href="#p" x="700.3" y="635.5"/><use href="#p" x="616.5" y="660.3"/><use href="#p" x="563.6" y="642.0"/><use href="#p" x="699.0" y="577.4"/><use href="#p" x="540.1" y="644.1"/><use href="#p" x="680.6" y="613.4"/><use href="#p" x="637.3" y="666.7"/><use href="#p" x="576.5" y="620.9"/><use href="#p" x="756.5" y="522.6"/><use href="#p" x="495.1" y="627.6"/><use href="#p" x="632.0" y="667.9"/><use href="#p" x="572.5" y="577.3"/><use href="#p" x="697.0" y="573.1"/><use href="#p" x="628.4" y="667.5"/><use href="#p" x="604.3" y="659.3"/><use href="#p" x="667.5" y="604.5"/><use href="#p" x="630.3" y="666.6"/><use href="#p" x="663.1" y="652.7"/><use href="#p" x="581.4" y="644.6"/><use href="#p" x="670.4" y="630.7"/><use href="#p" x="662.1" y="627.4"/><use href="#p" x="635.2" y="664.7"/><use href="#p" x="537.0" y="486.0"/><use href="#p" x="741.3" y="641.6"/><use href="#p" x="538.6" y="596.6"/><use href="#p" x="548.4" y="634.4"/><use href="#p" x="716.1" y="622.5"/><use href="#p" x="686.3" y="576.2"/><use href="#p" x="756.8" y="543.4"/><use href="#p" x="737.4" y="588.9"/><use href="#p" x="658.2" y="661.1"/><use href="#p" x="683.3" y="645.3"/><use href="#p" x="587.4" y="656.7"/><use href="#p" x="609.4" y="648.1"/><use href="#p" x="458.8" y="591.1"/><use href="#p" x="755.1" y="542.6"/><use href="#p" x="611.2" y="643.9"/><use href="#p" x="484.6" y="499.9"/><use href="#p" x="535.1" y="625.7"/><use href="#p" x="604.5" y="658.6"/><use href="#p" x="555.3" y="623.8"/><use href="#p" x="624.2" y="662.0"/><use href="#p" x="706.9" y="600.5"/><use href="#p" x="721.9" y="643.1"/><use href="#p" x="597.6" y="635.7"/><use href="#p" x="782.3" y="542.5"/><use href="#p" x="694.7" y="650.4"/><use href="#p" x="411.5" y="563.0"/><use href="#p" x="635.1" y="666.4"/><use href="#p" x="571.6" y="632.7"/><use href="#p" x="728.2" y="627.6"/><use href="#p" x="553.1" y="550.5"/><use href="#p" x="676.1" y="579.9"/><use href="#p" x="581.5" y="642.0"/><use href="#p" x="536.5" y="647.9"/><use href="#p" x="522.5" y="636.3"/><use href="#p" x="586.4" y="598.0"/><use href="#p" x="552.8" y="599.4"/><use href="#p" x="589.5" y="642.9"/><use href="#p" x="622.4" y="662.4"/><use href="#p" x="957.2" y="500.6"/><use href="#p" x="645.8" y="662.6"/><use href="#p" x="589.0" y="605.3"/><use href="#p" x="646.5" y="662.1"/><use href="#p" x="616.6" y="658.2"/><use href="#p" x="660.9" y="648.4"/><use href="#p" x="660.7" y="644.1"/><use href="#p" x="565.0" y="630.1"/><use href="#p" x="579.6" y="643.1"/><use href="#p" x="609.5" y="651.9"/><use href="#p" x="560.6" y="582.8"/><use href="#p" x="571.8" y="592.5"/><use href="#p" x="596.3" y="657.8"/><use href="#p" x="527.1" y="606.8"/><use href="#p" x="638.2" y="666.7"/><use href="#p" x="512.2" y="603.4"/><use href="#p" x="629.1" y="665.6"/><use href="#p" x="710.0" y="561.6"/><use href="#p" x="734.2" y="625.0"/><use href="#p" x="570.1" y="648.3"/><use href="#p" x="668.7" y="656.0"/><use href="#p" x="725.1" y="578.8"/><use href="#p" x="699.0" y="639.5"/><use href="#p" x="611.3" y="661.0"/><use href="#p" x="646.9" y="657.5"/><use href="#p" x="623.2" y="659.0"/><use href="#p" x="498.7" y="521.8"/><use href="#p" x="648.8" y="659.1"/><use href="#p" x="801.6" y="573.3"/><use href="#p" x="814.7" y="580.7"/><use href="#p" x="524.7" y="608.2"/><use href="#p" x="668.9" y="648.2"/><use href="#p" x="680.8" y="650.8"/><use href="#p" x="593.9" y="633.0"/><use href="#p" x="691.3" y="635.3"/><use href="#p" x="685.4" y="634.8"/><use href="#p" x="548.4" y="602.2"/><use href="#p" x="776.4" y="490.1"/><use href="#p" x="473.4" y="509.8"/><use href="#p" x="624.0" y="664.7"/><use href="#p" x="562.3" y="545.7"/><use href="#p" x="586.2" y="646.0"/><use href="#p" x="633.3" y="666.4"/><use href="#p" x="544.1" y="614.1"/><use href="#p" x="616.9" y="606.1"/><use href="#p" x="634.1" y="666.9"/><use href="#p" x="741.0" y="588.7"/><use href="#p" x="751.5" y="623.8"/><use href="#p" x="545.3" y="576.7"/><use href="#p" x="638.1" y="664.7"/><use href="#p" x="404.5" y="541.0"/><use href="#p" x="806.4" y="505.8"/><use href="#p" x="686.7" y="637.7"/><use href="#p" x="606.7" y="633.6"/><use href="#p" x="568.4" y="636.8"/><use href="#p" x="572.9" y="619.9"/><use href="#p" x="548.7" y="601.8"/><use href="#p" x="641.5" y="663.8"/><use href="#p" x="536.9" y="553.5"/><use href="#p" x="434.5" y="537.6"/><use href="#p" x="554.3" y="649.3"/><use href="#p" x="531.8" y="598.8"/><use href="#p" x="584.8" y="628.7"/><use href="#p" x="777.3" y="557.2"/><use href="#p" x="566.5" y="624.5"/><use href="#p" x="649.9" y="635.6"/><use href="#p" x="685.5" y="595.0"/><use href="#p" x="690.9" y="624.1"/><use href="#p" x="572.1" y="629.4"/><use href="#p" x="527.1" y="601.4"/><use href="#p" x="604.5" y="649.8"/><use href="#p" x="616.2" y="655.5"/><use href="#p" x="556.9" y="602.5"/><use href="#p" x="668.3" y="659.3"/><use href="#p" x="421.8" y="552.0"/><use href="#p" x="559.5" y="566.9"/><use href="#p" x="626.3" y="666.6"/><use href="#p" x="552.6" y="629.7"/><use href="#p" x="646.3" y="647.4"/><use href="#p" x="706.8" y="648.2"/><use href="#p" x="693.0" y="655.7"/><use href="#p" x="630.0" y="664.9"/><use href="#p" x="653.1" y="662.1"/><use href="#p" x="656.1" y="637.5"/><use href="#p" x="555.3" y="646.8"/><use href="#p" x="621.1" y="663.8"/><use href="#p" x="553.1" y="603.5"/><use href="#p" x="532.9" y="537.4"/><use href="#p" x="514.1" y="568.8"/><use href="#p" x="752.2" y="548.1"/><use href="#p" x="604.2" y="640.2"/><use href="#p" x="678.9" y="657.9"/><use href="#p" x="649.2" y="664.1"/><use href="#p" x="575.8" y="632.2"/><use href="#p" x="731.0" y="589.4"/><use href="#p" x="601.3" y="644.6"/><use href="#p" x="682.2" y="641.4"/><use href="#p" x="817.8" y="591.2"/><use href="#p" x="731.4" y="609.8"/><use href="#p" x="679.8" y="581.2"/><use href="#p" x="605.1" y="660.0"/><use href="#p" x="613.5" y="660.7"/><use href="#p" x="601.6" y="655.3"/><use href="#p" x="659.5" y="658.7"/><use href="#p" x="760.4" y="592.9"/><use href="#p" x="683.4" y="599.7"/><use href="#p" x="707.3" y="566.5"/><use href="#p" x="609.3" y="664.0"/><use href="#p" x="700.2" y="511.8"/><use href="#p" x="544.8" y="612.9"/><use href="#p" x="757.3" y="627.1"/><use href="#p" x="672.8" y="553.0"/><use href="#p" x="602.1" y="653.7"/><use href="#p" x="589.5" y="583.3"/><use href="#p" x="585.4" y="646.4"/><use href="#p" x="622.8" y="665.8"/><use href="#p" x="567.7" y="498.5"/><use href="#p" x="412.5" y="524.0"/><use href="#p" x="554.2" y="566.9"/><use href="#p" x="521.1" y="600.0"/><use href="#p" x="555.8" y="646.3"/><use href="#p" x="582.3" y="625.3"/><use href="#p" x="569.4" y="623.5"/><use href="#p" x="647.0" y="648.3"/><use href="#p" x="589.3" y="643.9"/><use href="#p" x="708.5" y="644.5"/><use href="#p" x="562.2" y="651.8"/><use href="#p" x="670.6" y="636.9"/><use href="#p" x="622.9" y="657.9"/><use href="#p" x="601.6" y="644.3"/><use href="#p" x="666.1" y="630.1"/><use href="#p" x="589.2" y="586.0"/><use href="#p" x="581.2" y="627.5"/><use href="#p" x="539.0" y="599.5"/><use href="#p" x="616.1" y="653.8"/><use href="#p" x="601.3" y="649.4"/><use href="#p" x="649.2" y="649.7"/><use href="#p" x="600.2" y="635.3"/><use href="#p" x="703.1" y="602.9"/><use href="#p" x="655.5" y="639.4"/><use href="#p" x="686.9" y="607.3"/><use href="#p" x="674.3" y="652.5"/><use href="#p" x="641.3" y="655.3"/><use href="#p" x="623.0" y="645.3"/><use href="#p" x="562.6" y="630.5"/><use href="#p" x="517.4" y="581.1"/><use href="#p" x="648.8" y="641.6"/><use href="#p" x="628.6" y="667.0"/><use href="#p" x="674.8" y="632.0"/><use href="#p" x="655.9" y="628.3"/><use href="#p" x="499.8" y="565.8"/><use href="#p" x="646.4" y="655.3"/><use href="#p" x="724.9" y="623.0"/><use href="#p" x="531.1" y="603.4"/><use href="#p" x="764.1" y="618.2"/><use href="#p" x="706.6" y="516.3"/><use href="#p" x="601.5" y="655.5"/><use href="#p" x="649.8" y="662.0"/><use href="#p" x="723.1" y="556.4"/><use href="#p" x="584.1" y="606.5"/><use href="#p" x="679.7" y="533.6"/><use href="#p" x="588.5" y="645.4"/><use href="#p" x="502.2" y="490.1"/><use href="#p" x="696.8" y="652.1"/><use href="#p" x="727.2" y="579.1"/><use href="#p" x="635.1" y="656.8"/><use href="#p" x="649.1" y="661.3"/><use href="#p" x="667.5" y="652.9"/><use href="#p" x="591.9" y="649.4"/><use href="#p" x="634.0" y="665.0"/><use href="#p" x="692.5" y="632.8"/><use href="#p" x="507.3" y="634.2"/><use href="#p" x="518.3" y="620.6"/><use href="#p" x="587.9" y="626.8"/><use href="#p" x="713.2" y="625.6"/><use href="#p" x="573.3" y="633.6"/><use href="#p" x="532.0" y="591.1"/><use href="#p" x="691.8" y="575.1"/><use href="#p" x="581.2" y="603.1"/><use href="#p" x="386.5" y="566.8"/><use href="#p" x="512.7" y="514.9"/><use href="#p" x="558.3" y="625.6"/><use href="#p" x="566.4" y="600.2"/><use href="#p" x="650.7" y="649.6"/><use href="#p" x="595.0" y="633.7"/><use href="#p" x="676.3" y="611.3"/><use href="#p" x="696.2" y="509.6"/><use href="#p" x="689.1" y="592.4"/><use href="#p" x="741.4" y="544.4"/><use href="#p" x="566.2" y="606.9"/><use href="#p" x="549.9" y="595.4"/><use href="#p" x="575.3" y="655.7"/><use href="#p" x="573.5" y="646.2"/><use href="#p" x="680.0" y="629.1"/><use href="#p" x="767.2" y="521.0"/><use href="#p" x="736.8" y="612.3"/><use href="#p" x="637.6" y="665.5"/><use href="#p" x="576.5" y="643.0"/><use href="#p" x="605.1" y="649.4"/><use href="#p" x="681.6" y="619.6"/><use href="#p" x="556.4" y="620.0"/><use href="#p" x="642.3" y="662.6"/><use href="#p" x="603.8" y="647.6"/><use href="#p" x="608.7" y="654.4"/><use href="#p" x="567.3" y="647.9"/><use href="#p" x="609.3" y="644.7"/><use href="#p" x="251.2" y="516.2"/><use href="#p" x="721.5" y="611.5"/><use href="#p" x="585.7" y="608.9"/><use href="#p" x="591.8" y="642.4"/><use href="#p" x="385.5" y="536.2"/><use href="#p" x="445.4" y="612.9"/><use href="#p" x="671.0" y="657.9"/><use href="#p" x="633.3" y="666.6"/><use href="#p" x="591.2" y="610.9"/><use href="#p" x="584.6" y="603.8"/><use href="#p" x="594.4" y="603.9"/><use href="#p" x="602.8" y="616.6"/><use href="#p" x="574.1" y="592.6"/><use href="#p" x="632.0" y="668.1"/><use href="#p" x="680.1" y="603.3"/><use href="#p" x="783.0" y="621.1"/><use href="#p" x="513.7" y="597.9"/><use href="#p" x="576.6" y="647.1"/><use href="#p" x="537.1" y="601.0"/><use href="#p" x="648.8" y="653.2"/><use href="#p" x="541.9" y="605.0"/><use href="#p" x="676.5" y="608.1"/><use href="#p" x="695.8" y="648.3"/><use href="#p" x="654.7" y="659.2"/><use href="#p" x="599.8" y="636.9"/><use href="#p" x="576.7" y="636.4"/><use href="#p" x="512.1" y="595.4"/><use href="#p" x="579.8" y="648.1"/><use href="#p" x="673.1" y="657.9"/><use href="#p" x="822.7" y="581.3"/><use href="#p" x="552.7" y="582.7"/><use href="#p" x="468.0" y="622.1"/><use href="#p" x="652.1" y="654.1"/><use href="#p" x="630.0" y="665.2"/><use href="#p" x="440.1" y="600.0"/><use href="#p" x="654.3" y="659.3"/><use href="#p" x="659.6" y="613.4"/><use href="#p" x="644.4" y="657.5"/><use href="#p" x="691.3" y="590.4"/><use href="#p" x="805.4" y="525.9"/><use href="#p" x="707.4" y="491.9"/><use href="#p" x="627.2" y="665.3"/><use href="#p" x="549.3" y="576.5"/><use href="#p" x="635.3" y="663.8"/><use href="#p" x="604.1" y="622.1"/><use href="#p" x="579.6" y="594.8"/><use href="#p" x="564.9" y="541.4"/><use href="#p" x="644.4" y="662.0"/><use href="#p" x="839.1" y="592.9"/><use href="#p" x="681.7" y="617.9"/><use href="#p" x="607.8" y="659.9"/><use href="#p" x="654.1" y="653.2"/><use href="#p" x="528.8" y="568.6"/><use href="#p" x="633.6" y="667.2"/><use href="#p" x="482.1" y="595.1"/><use href="#p" x="717.0" y="538.8"/><use href="#p" x="582.4" y="611.7"/><use href="#p" x="601.8" y="654.0"/><use href="#p" x="639.6" y="661.6"/><use href="#p" x="688.0" y="633.0"/><use href="#p" x="638.2" y="661.1"/><use href="#p" x="458.1" y="576.6"/><use href="#p" x="711.7" y="638.3"/><use href="#p" x="651.8" y="646.8"/><use href="#p" x="567.3" y="638.4"/><use href="#p" x="618.2" y="664.7"/><use href="#p" x="661.4" y="626.9"/><use href="#p" x="380.5" y="585.2"/><use href="#p" x="664.9" y="643.4"/><use href="#p" x="474.7" y="585.3"/><use href="#p" x="460.9" y="616.9"/><use href="#p" x="719.9" y="565.5"/><use href="#p" x="669.8" y="620.7"/><use href="#p" x="671.3" y="646.6"/><use href="#p" x="691.9" y="608.8"/><use href="#p" x="539.3" y="625.0"/><use href="#p" x="668.4" y="646.1"/><use href="#p" x="629.3" y="667.6"/><use href="#p" x="611.4" y="663.4"/><use href="#p" x="683.9" y="616.2"/><use href="#p" x="725.7" y="615.4"/><use href="#p" x="586.3" y="623.3"/><use href="#p" x="523.1" y="584.8"/><use href="#p" x="465.6" y="523.5"/><use href="#p" x="682.3" y="639.4"/><use href="#p" x="632.5" y="668.0"/><use href="#p" x="657.3" y="654.5"/><use href="#p" x="589.4" y="643.5"/><use href="#p" x="370.0" y="485.0"/><use href="#p" x="588.4" y="655.6"/><use href="#p" x="721.0" y="500.0"/><use href="#p" x="503.6" y="614.2"/><use href="#p" x="562.2" y="645.7"/><use href="#p" x="580.8" y="622.0"/><use href="#p" x="579.6" y="648.7"/><use href="#p" x="666.1" y="607.6"/><use href="#p" x="685.6" y="645.6"/><use href="#p" x="651.4" y="658.0"/><use href="#p" x="566.1" y="591.8"/><use href="#p" x="738.5" y="554.1"/><use href="#p" x="524.3" y="607.3"/><use href="#p" x="615.6" y="656.7"/><use href="#p" x="547.9" y="646.2"/><use href="#p" x="531.7" y="637.8"/><use href="#p" x="583.2" y="593.6"/><use href="#p" x="605.5" y="655.0"/><use href="#p" x="579.3" y="647.2"/><use href="#p" x="575.1" y="590.0"/><use href="#p" x="571.8" y="591.2"/><use href="#p" x="548.6" y="611.1"/><use href="#p" x="412.0" y="521.0"/><use href="#p" x="500.8" y="634.3"/><use href="#p" x="627.7" y="664.6"/><use href="#p" x="571.4" y="606.0"/><use href="#p" x="723.8" y="638.9"/><use href="#p" x="607.4" y="663.6"/><use href="#p" x="728.6" y="591.3"/><use href="#p" x="620.4" y="624.1"/><use href="#p" x="520.8" y="568.4"/><use href="#p" x="667.3" y="660.8"/><use href="#p" x="626.4" y="656.9"/><use href="#p" x="624.4" y="666.1"/><use href="#p" x="741.5" y="552.3"/><use href="#p" x="643.2" y="664.6"/><use href="#p" x="695.4" y="646.0"/><use href="#p" x="641.5" y="659.0"/><use href="#p" x="669.3" y="629.2"/><use href="#p" x="584.0" y="567.8"/><use href="#p" x="786.4" y="506.7"/><use href="#p" x="487.9" y="529.5"/><use href="#p" x="628.9" y="666.8"/><use href="#p" x="622.4" y="660.3"/><use href="#p" x="502.3" y="496.8"/><use href="#p" x="489.3" y="502.9"/><use href="#p" x="655.1" y="651.5"/><use href="#p" x="631.3" y="667.2"/><use href="#p" x="684.6" y="588.4"/><use href="#p" x="563.6" y="600.8"/><use href="#p" x="750.3" y="616.1"/><use href="#p" x="639.7" y="665.7"/><use href="#p" x="552.7" y="585.5"/><use href="#p" x="566.6" y="623.4"/><use href="#p" x="627.1" y="666.9"/><use href="#p" x="834.7" y="609.4"/><use href="#p" x="648.6" y="657.6"/><use href="#p" x="682.0" y="633.1"/><use href="#p" x="537.5" y="599.9"/><use href="#p" x="724.4" y="589.6"/><use href="#p" x="446.9" y="589.9"/><use href="#p" x="589.3" y="657.1"/><use href="#p" x="621.8" y="666.5"/><use href="#p" x="545.8" y="639.8"/><use href="#p" x="690.9" y="654.6"/><use href="#p" x="721.7" y="618.2"/><use href="#p" x="494.8" y="608.1"/><use href="#p" x="617.7" y="663.9"/><use href="#p" x="504.7" y="501.5"/><use href="#p" x="641.1" y="666.5"/><use href="#p" x="661.7" y="623.8"/><use href="#p" x="635.9" y="663.3"/><use href="#p" x="780.9" y="531.0"/><use href="#p" x="605.6" y="661.5"/><use href="#p" x="630.5" y="667.2"/><use href="#p" x="754.6" y="491.9"/><use href="#p" x="619.0" y="652.1"/><use href="#p" x="590.0" y="637.4"/><use href="#p" x="692.0" y="654.6"/><use href="#p" x="681.7" y="595.3"/><use href="#p" x="673.3" y="579.5"/><use href="#p" x="696.1" y="558.8"/><use href="#p" x="582.6" y="651.4"/><use href="#p" x="705.6" y="602.8"/><use href="#p" x="633.7" y="665.9"/><use href="#p" x="346.8" y="517.5"/><use href="#p" x="645.1" y="654.3"/><use href="#p" x="701.1" y="620.3"/><use href="#p" x="582.2" y="616.4"/><use href="#p" x="683.3" y="629.6"/><use href="#p" x="519.7" y="592.5"/><use href="#p" x="730.1" y="519.1"/><use href="#p" x="609.8" y="641.5"/><use href="#p" x="633.3" y="667.5"/><use href="#p" x="613.7" y="664.3"/><use href="#p" x="704.6" y="642.5"/><use href="#p" x="683.1" y="595.9"/><use href="#p" x="591.3" y="651.7"/><use href="#p" x="620.3" y="641.7"/><use href="#p" x="624.9" y="658.8"/><use href="#p" x="627.2" y="667.0"/><use href="#p" x="664.3" y="593.7"/><use href="#p" x="588.4" y="656.7"/><use href="#p" x="538.1" y="634.4"/><use href="#p" x="617.0" y="662.2"/><use href="#p" x="553.9" y="639.9"/><use href="#p" x="630.0" y="667.1"/><use href="#p" x="637.6" y="666.7"/><use href="#p" x="656.0" y="618.8"/><use href="#p" x="761.9" y="612.6"/><use href="#p" x="532.4" y="639.8"/><use href="#p" x="592.3" y="644.9"/><use href="#p" x="514.5" y="598.8"/><use href="#p" x="628.9" y="667.5"/><use href="#p" x="606.9" y="654.6"/><use href="#p" x="637.6" y="663.6"/><use href="#p" x="649.1" y="632.3"/><use href="#p" x="688.8" y="508.7"/><use href="#p" x="641.3" y="663.5"/><use href="#p" x="631.9" y="668.0"/><use href="#p" x="569.9" y="654.7"/><use href="#p" x="549.6" y="629.0"/><use href="#p" x="623.7" y="648.6"/><use href="#p" x="591.8" y="659.5"/><use href="#p" x="532.7" y="522.9"/><use href="#p" x="686.4" y="627.0"/><use href="#p" x="689.0" y="600.7"/><use href="#p" x="574.3" y="628.4"/><use href="#p" x="619.3" y="659.4"/><use href="#p" x="622.8" y="664.7"/><use href="#p" x="525.3" y="587.7"/><use href="#p" x="606.3" y="652.8"/><use href="#p" x="648.3" y="663.5"/><use href="#p" x="568.2" y="580.6"/><use href="#p" x="695.0" y="629.9"/><use href="#p" x="585.8" y="598.8"/><use href="#p" x="543.5" y="587.3"/><use href="#p" x="660.1" y="661.6"/><use href="#p" x="687.5" y="620.6"/><use href="#p" x="663.9" y="651.5"/><use href="#p" x="591.2" y="655.9"/><use href="#p" x="583.7" y="631.3"/><use href="#p" x="551.7" y="633.4"/><use href="#p" x="481.0" y="581.3"/><use href="#p" x="677.0" y="621.6"/><use href="#p" x="640.4" y="662.3"/><use href="#p" x="549.6" y="632.5"/><use href="#p" x="747.9" y="637.0"/><use href="#p" x="698.0" y="649.5"/><use href="#p" x="670.6" y="642.3"/><use href="#p" x="780.2" y="629.2"/><use href="#p" x="610.2" y="653.8"/><use href="#p" x="603.1" y="646.3"/><use href="#p" x="715.7" y="530.3"/><use href="#p" x="693.2" y="646.1"/><use href="#p" x="571.7" y="597.8"/><use href="#p" x="687.0" y="655.6"/><use href="#p" x="717.4" y="602.2"/><use href="#p" x="655.7" y="662.5"/><use href="#p" x="785.8" y="541.7"/><use href="#p" x="668.8" y="599.5"/><use href="#p" x="515.8" y="555.1"/><use href="#p" x="628.6" y="665.7"/><use href="#p" x="562.2" y="620.6"/><use href="#p" x="609.9" y="654.9"/><use href="#p" x="632.6" y="667.8"/><use href="#p" x="561.7" y="646.7"/><use href="#p" x="668.9" y="652.7"/><use href="#p" x="538.0" y="512.3"/><use href="#p" x="655.1" y="653.3"/><use href="#p" x="493.2" y="585.6"/><use href="#p" x="718.5" y="598.8"/><use href="#p" x="655.7" y="641.2"/><use href="#p" x="702.4" y="620.5"/><use href="#p" x="861.0" y="550.3"/><use href="#p" x="553.9" y="618.2"/><use href="#p" x="551.3" y="612.9"/><use href="#p" x="823.7" y="552.6"/><use href="#p" x="461.6" y="600.9"/><use href="#p" x="609.3" y="655.0"/><use href="#p" x="596.7" y="647.8"/><use href="#p" x="669.3" y="654.9"/><use href="#p" x="719.5" y="619.3"/><use href="#p" x="449.5" y="547.9"/><use href="#p" x="649.1" y="657.5"/><use href="#p" x="638.9" y="664.3"/><use href="#p" x="545.7" y="569.1"/><use href="#p" x="597.7" y="647.9"/><use href="#p" x="588.0" y="607.6"/><use href="#p" x="458.3" y="610.7"/><use href="#p" x="632.7" y="667.1"/><use href="#p" x="537.6" y="566.6"/><use href="#p" x="554.4" y="609.5"/><use href="#p" x="522.5" y="587.4"/><use href="#p" x="712.6" y="645.9"/><use href="#p" x="618.0" y="663.4"/><use href="#p" x="569.0" y="656.2"/><use href="#p" x="587.6" y="659.1"/><use href="#p" x="550.0" y="607.8"/><use href="#p" x="559.1" y="629.7"/><use href="#p" x="753.3" y="615.2"/><use href="#p" x="617.2" y="657.1"/><use href="#p" x="692.9" y="511.9"/><use href="#p" x="604.0" y="629.0"/><use href="#p" x="536.8" y="609.0"/><use href="#p" x="507.5" y="555.3"/><use href="#p" x="640.5" y="662.0"/><use href="#p" x="596.4" y="609.9"/><use href="#p" x="721.1" y="596.4"/><use href="#p" x="626.9" y="664.6"/><use href="#p" x="706.6" y="633.6"/><use href="#p" x="738.7" y="550.0"/><use href="#p" x="583.5" y="625.2"/><use href="#p" x="562.2" y="580.5"/><use href="#p" x="531.5" y="604.0"/><use href="#p" x="688.8" y="593.5"/><use href="#p" x="596.4" y="619.2"/><use href="#p" x="565.1" y="599.7"/><use href="#p" x="410.2" y="540.5"/><use href="#p" x="710.6" y="605.8"/><use href="#p" x="625.0" y="666.9"/><use href="#p" x="775.5" y="558.2"/><use href="#p" x="576.2" y="619.8"/><use href="#p" x="492.9" y="503.0"/><use href="#p" x="537.2" y="646.8"/><use href="#p" x="678.3" y="626.7"/><use href="#p" x="756.1" y="620.2"/><use href="#p" x="633.6" y="662.6"/><use href="#p" x="551.8" y="597.4"/><use href="#p" x="682.1" y="624.6"/><use href="#p" x="708.1" y="641.6"/><use href="#p" x="540.8" y="616.3"/><use href="#p" x="604.0" y="658.3"/><use href="#p" x="639.7" y="660.3"/><use href="#p" x="613.5" y="645.3"/><use href="#p" x="684.5" y="571.1"/><use href="#p" x="512.3" y="507.7"/><use href="#p" x="620.6" y="654.1"/><use href="#p" x="593.9" y="609.0"/><use href="#p" x="598.5" y="636.5"/><use href="#p" x="663.2" y="655.8"/><use href="#p" x="556.4" y="523.8"/><use href="#p" x="676.2" y="621.0"/><use href="#p" x="570.8" y="634.2"/><use href="#p" x="595.1" y="655.5"/><use href="#p" x="606.7" y="643.2"/><use href="#p" x="703.4" y="624.1"/><use href="#p" x="614.9" y="656.8"/><use href="#p" x="576.5" y="604.9"/><use href="#p" x="569.2" y="652.0"/><use href="#p" x="547.3" y="545.3"/><use href="#p" x="683.3" y="604.4"/><use href="#p" x="726.4" y="496.6"/><use href="#p" x="545.5" y="609.1"/><use href="#p" x="724.3" y="578.2"/><use href="#p" x="518.8" y="634.8"/><use href="#p" x="625.2" y="661.8"/><use href="#p" x="725.6" y="598.3"/><use href="#p" x="697.5" y="613.5"/><use href="#p" x="668.0" y="616.4"/><use href="#p" x="698.9" y="540.5"/><use href="#p" x="792.1" y="519.5"/><use href="#p" x="633.0" y="664.1"/><use href="#p" x="646.2" y="646.2"/><use href="#p" x="522.8" y="487.9"/><use href="#p" x="678.8" y="621.8"/><use href="#p" x="517.4" y="593.7"/><use href="#p" x="562.1" y="617.9"/><use href="#p" x="702.8" y="607.9"/><use href="#p" x="660.4" y="650.9"/><use href="#p" x="523.4" y="506.5"/><use href="#p" x="616.9" y="628.5"/><use href="#p" x="604.8" y="643.1"/><use href="#p" x="681.8" y="649.7"/><use href="#p" x="577.1" y="628.2"/><use href="#p" x="596.2" y="641.5"/><use href="#p" x="664.5" y="652.0"/><use href="#p" x="700.7" y="638.6"/><use href="#p" x="746.5" y="594.7"/><use href="#p" x="672.1" y="598.7"/><use href="#p" x="644.7" y="656.5"/><use href="#p" x="625.8" y="662.5"/><use href="#p" x="592.9" y="656.6"/><use href="#p" x="620.1" y="655.3"/><use href="#p" x="711.7" y="636.4"/><use href="#p" x="766.9" y="589.6"/><use href="#p" x="770.8" y="540.2"/><use href="#p" x="574.6" y="634.1"/><use href="#p" x="676.6" y="618.1"/><use href="#p" x="588.9" y="634.0"/><use href="#p" x="588.2" y="625.9"/><use href="#p" x="723.6" y="629.3"/><use href="#p" x="660.8" y="635.3"/><use href="#p" x="590.5" y="657.1"/><use href="#p" x="642.4" y="665.5"/><use href="#p" x="540.7" y="640.0"/><use href="#p" x="584.3" y="633.2"/><use href="#p" x="646.9" y="659.5"/><use href="#p" x="527.1" y="639.7"/><use href="#p" x="600.3" y="636.2"/><use href="#p" x="716.2" y="633.9"/><use href="#p" x="540.5" y="500.3"/><use href="#p" x="538.5" y="497.3"/><use href="#p" x="689.4" y="609.4"/><use href="#p" x="619.4" y="624.2"/><use href="#p" x="741.2" y="510.0"/><use href="#p" x="643.0" y="663.0"/><use href="#p" x="607.9" y="653.1"/><use href="#p" x="658.1" y="640.4"/><use href="#p" x="600.5" y="655.8"/><use href="#p" x="663.8" y="640.3"/><use href="#p" x="755.3" y="549.2"/><use href="#p" x="568.6" y="608.2"/><use href="#p" x="613.8" y="663.0"/><use href="#p" x="660.6" y="600.2"/><use href="#p" x="643.1" y="618.3"/><use href="#p" x="597.9" y="640.6"/><use href="#p" x="665.8" y="610.9"/><use href="#p" x="637.3" y="662.4"/><use href="#p" x="502.7" y="593.2"/><use href="#p" x="436.8" y="584.3"/><use href="#p" x="678.2" y="626.3"/><use href="#p" x="554.4" y="523.0"/><use href="#p" x="671.1" y="659.2"/><use href="#p" x="526.4" y="636.6"/><use href="#p" x="752.0" y="505.7"/><use href="#p" x="614.8" y="660.6"/><use href="#p" x="708.7" y="551.1"/><use href="#p" x="498.7" y="601.9"/><use href="#p" x="534.8" y="627.3"/><use href="#p" x="609.1" y="643.5"/><use href="#p" x="640.9" y="665.7"/><use href="#p" x="551.3" y="562.4"/><use href="#p" x="565.2" y="625.5"/><use href="#p" x="543.9" y="601.4"/><use href="#p" x="493.4" y="580.9"/><use href="#p" x="718.4" y="568.3"/><use href="#p" x="606.0" y="663.3"/><use href="#p" x="604.9" y="644.6"/><use href="#p" x="665.4" y="627.1"/><use href="#p" x="784.9" y="501.2"/><use href="#p" x="677.4" y="606.2"/><use href="#p" x="510.0" y="593.3"/><use href="#p" x="679.6" y="636.6"/><use href="#p" x="686.5" y="639.6"/><use href="#p" x="491.1" y="598.7"/><use href="#p" x="504.2" y="625.2"/><use href="#p" x="594.0" y="655.6"/><use href="#p" x="705.1" y="583.1"/><use href="#p" x="711.8" y="530.4"/><use href="#p" x="570.9" y="649.8"/><use href="#p" x="570.7" y="621.9"/><use href="#p" x="621.0" y="657.5"/><use href="#p" x="685.1" y="575.4"/><use href="#p" x="521.3" y="613.9"/><use href="#p" x="624.3" y="666.4"/><use href="#p" x="595.9" y="661.5"/><use href="#p" x="583.7" y="641.3"/><use href="#p" x="584.5" y="656.5"/><use href="#p" x="558.8" y="542.7"/><use href="#p" x="622.8" y="662.3"/><use href="#p" x="544.6" y="593.4"/><use href="#p" x="702.6" y="584.7"/><use href="#p" x="557.1" y="622.0"/><use href="#p" x="544.7" y="639.0"/><use href="#p" x="595.3" y="657.1"/><use href="#p" x="595.8" y="625.9"/><use href="#p" x="680.5" y="639.3"/><use href="#p" x="717.5" y="591.7"/><use href="#p" x="531.7" y="637.7"/><use href="#p" x="734.8" y="561.5"/><use href="#p" x="646.3" y="660.8"/><use href="#p" x="505.7" y="635.7"/><use href="#p" x="737.0" y="555.7"/><use href="#p" x="492.7" y="562.1"/><use href="#p" x="578.7" y="571.2"/><use href="#p" x="639.1" y="666.7"/><use href="#p" x="547.8" y="594.3"/><use href="#p" x="654.4" y="637.8"/><use href="#p" x="655.2" y="653.2"/><use href="#p" x="714.5" y="547.3"/><use href="#p" x="636.1" y="658.2"/><use href="#p" x="696.2" y="591.7"/><use href="#p" x="675.5" y="640.7"/><use href="#p" x="711.3" y="646.2"/><use href="#p" x="609.7" y="663.2"/><use href="#p" x="639.9" y="664.2"/><use href="#p" x="616.1" y="658.8"/><use href="#p" x="691.8" y="628.6"/><use href="#p" x="613.4" y="653.4"/><use href="#p" x="589.9" y="641.4"/><use href="#p" x="593.5" y="637.2"/><use href="#p" x="668.5" y="641.9"/><use href="#p" x="668.9" y="654.5"/><use href="#p" x="580.8" y="642.3"/><use href="#p" x="586.5" y="634.2"/><use href="#p" x="614.6" y="654.0"/><use href="#p" x="469.8" y="506.6"/><use href="#p" x="528.0" y="591.4"/><use href="#p" x="762.7" y="616.7"/><use href="#p" x="487.3" y="500.9"/><use href="#p" x="614.1" y="656.2"/><use href="#p" x="718.8" y="601.7"/><use href="#p" x="584.7" y="656.0"/><use href="#p" x="440.1" y="528.0"/><use href="#p" x="740.6" y="624.4"/><use href="#p" x="640.5" y="661.3"/><use href="#p" x="696.3" y="606.2"/><use href="#p" x="645.6" y="663.7"/><use href="#p" x="636.0" y="666.9"/><use href="#p" x="653.2" y="634.1"/><use href="#p" x="554.1" y="605.9"/><use href="#p" x="677.2" y="496.6"/><use href="#p" x="566.0" y="603.2"/><use href="#p" x="652.4" y="662.4"/><use href="#p" x="429.5" y="563.5"/><use href="#p" x="580.4" y="618.3"/><use href="#p" x="611.1" y="640.3"/><use href="#p" x="789.5" y="620.6"/><use href="#p" x="489.3" y="581.6"/><use href="#p" x="624.0" y="659.0"/><use href="#p" x="667.7" y="610.4"/><use href="#p" x="624.2" y="660.5"/><use href="#p" x="626.7" y="655.8"/><use href="#p" x="640.9" y="664.2"/><use href="#p" x="564.8" y="568.5"/><use href="#p" x="590.0" y="582.1"/><use href="#p" x="574.7" y="655.1"/><use href="#p" x="641.7" y="664.7"/><use href="#p" x="628.2" y="664.3"/><use href="#p" x="700.6" y="621.1"/><use href="#p" x="669.1" y="649.9"/><use href="#p" x="503.4" y="600.2"/><use href="#p" x="642.8" y="663.1"/><use href="#p" x="539.4" y="619.1"/><use href="#p" x="657.4" y="641.4"/><use href="#p" x="684.7" y="606.9"/><use href="#p" x="479.6" y="556.1"/><use href="#p" x="556.9" y="553.4"/><use href="#p" x="690.6" y="602.9"/><use href="#p" x="633.2" y="667.1"/><use href="#p" x="453.7" y="487.9"/><use href="#p" x="537.3" y="633.6"/><use href="#p" x="652.0" y="648.6"/><use href="#p" x="505.1" y="573.2"/><use href="#p" x="724.5" y="618.7"/><use href="#p" x="616.4" y="658.7"/><use href="#p" x="696.3" y="505.4"/><use href="#p" x="632.6" y="667.9"/><use href="#p" x="542.8" y="608.5"/><use href="#p" x="658.8" y="654.4"/><use href="#p" x="590.4" y="660.2"/><use href="#p" x="717.3" y="580.0"/><use href="#p" x="642.3" y="660.4"/><use href="#p" x="787.1" y="596.1"/><use href="#p" x="583.9" y="620.7"/><use href="#p" x="706.3" y="631.7"/><use href="#p" x="533.8" y="564.9"/><use href="#p" x="686.5" y="640.2"/><use href="#p" x="698.1" y="600.0"/><use href="#p" x="477.0" y="576.9"/><use href="#p" x="624.8" y="646.7"/><use href="#p" x="579.3" y="631.5"/><use href="#p" x="646.2" y="594.0"/><use href="#p" x="787.1" y="553.9"/><use href="#p" x="526.0" y="597.7"/><use href="#p" x="631.1" y="666.5"/><use href="#p" x="649.6" y="640.9"/><use href="#p" x="625.9" y="662.1"/><use href="#p" x="452.2" y="581.4"/><use href="#p" x="666.0" y="640.0"/><use href="#p" x="642.9" y="657.5"/><use href="#p" x="545.9" y="493.2"/><use href="#p" x="666.0" y="657.3"/><use href="#p" x="627.0" y="666.2"/><use href="#p" x="627.3" y="666.3"/><use href="#p" x="681.8" y="573.2"/><use href="#p" x="557.7" y="637.8"/><use href="#p" x="639.3" y="647.8"/><use href="#p" x="677.2" y="613.7"/><use href="#p" x="767.1" y="629.0"/><use href="#p" x="515.0" y="584.1"/><use href="#p" x="551.8" y="627.0"/><use href="#p" x="601.1" y="639.2"/><use href="#p" x="566.1" y="598.6"/><use href="#p" x="592.3" y="656.5"/><use href="#p" x="705.7" y="636.6"/><use href="#p" x="607.4" y="628.9"/><use href="#p" x="569.7" y="655.5"/><use href="#p" x="509.3" y="544.8"/><use href="#p" x="618.2" y="657.7"/><use href="#p" x="512.6" y="611.2"/><use href="#p" x="705.4" y="609.3"/><use href="#p" x="633.3" y="665.1"/><use href="#p" x="686.8" y="581.6"/><use href="#p" x="617.5" y="655.8"/><use href="#p" x="571.8" y="636.3"/><use href="#p" x="564.4" y="537.1"/><use href="#p" x="582.3" y="622.0"/><use href="#p" x="680.3" y="636.4"/><use href="#p" x="716.4" y="613.5"/><use href="#p" x="646.4" y="653.7"/><use href="#p" x="718.1" y="621.4"/><use href="#p" x="503.2" y="507.1"/><use href="#p" x="624.3" y="663.5"/><use href="#p" x="548.4" y="552.8"/><use href="#p" x="575.0" y="525.0"/><use href="#p" x="763.0" y="491.3"/><use href="#p" x="587.7" y="659.7"/><use href="#p" x="637.5" y="664.7"/><use href="#p" x="605.3" y="635.3"/><use href="#p" x="776.1" y="519.1"/><use href="#p" x="552.1" y="576.0"/><use href="#p" x="543.2" y="632.7"/><use href="#p" x="647.8" y="657.2"/><use href="#p" x="608.1" y="646.5"/><use href="#p" x="610.6" y="635.8"/><use href="#p" x="559.6" y="645.0"/><use href="#p" x="521.6" y="600.5"/><use href="#p" x="689.6" y="645.1"/><use href="#p" x="615.5" y="590.4"/><use href="#p" x="633.6" y="667.5"/><use href="#p" x="725.0" y="606.8"/><use href="#p" x="589.1" y="638.5"/><use href="#p" x="683.3" y="657.4"/><use href="#p" x="667.7" y="604.1"/><use href="#p" x="670.4" y="631.9"/><use href="#p" x="604.2" y="659.2"/><use href="#p" x="629.9" y="666.2"/><use href="#p" x="676.2" y="630.8"/><use href="#p" x="480.0" y="583.0"/><use href="#p" x="565.0" y="601.8"/><use href="#p" x="631.9" y="667.8"/><use href="#p" x="751.4" y="630.6"/><use href="#p" x="442.9" y="551.1"/><use href="#p" x="600.5" y="658.8"/><use href="#p" x="689.3" y="590.9"/><use href="#p" x="649.2" y="657.7"/><use href="#p" x="742.4" y="638.4"/><use href="#p" x="590.0" y="608.3"/><use href="#p" x="722.3" y="590.3"/><use href="#p" x="706.3" y="599.6"/><use href="#p" x="541.3" y="632.2"/><use href="#p" x="661.8" y="628.6"/><use href="#p" x="621.5" y="664.0"/><use href="#p" x="685.8" y="635.7"/><use href="#p" x="589.4" y="647.2"/><use href="#p" x="546.7" y="557.1"/><use href="#p" x="617.0" y="659.8"/><use href="#p" x="631.1" y="667.6"/><use href="#p" x="673.7" y="631.0"/><use href="#p" x="678.5" y="645.6"/><use href="#p" x="536.7" y="612.8"/><use href="#p" x="722.1" y="586.8"/><use href="#p" x="467.6" y="493.9"/><use href="#p" x="576.0" y="653.9"/><use href="#p" x="557.0" y="640.1"/><use href="#p" x="695.5" y="595.3"/><use href="#p" x="706.4" y="637.1"/><use href="#p" x="645.5" y="657.0"/><use href="#p" x="714.6" y="619.7"/><use href="#p" x="657.9" y="598.7"/><use href="#p" x="669.7" y="613.5"/><use href="#p" x="554.1" y="599.6"/><use href="#p" x="610.8" y="655.1"/><use href="#p" x="683.3" y="652.1"/><use href="#p" x="808.6" y="573.3"/><use href="#p" x="537.4" y="618.6"/><use href="#p" x="486.4" y="517.9"/><use href="#p" x="697.1" y="557.4"/><use href="#p" x="548.3" y="581.7"/><use href="#p" x="630.8" y="667.8"/><use href="#p" x="565.4" y="586.7"/><use href="#p" x="593.2" y="536.8"/><use href="#p" x="547.5" y="620.9"/><use href="#p" x="543.9" y="627.1"/><use href="#p" x="737.6" y="584.0"/><use href="#p" x="561.6" y="645.7"/><use href="#p" x="760.4" y="511.0"/><use href="#p" x="632.5" y="667.6"/><use href="#p" x="704.9" y="638.0"/><use href="#p" x="524.1" y="553.4"/><use href="#p" x="578.7" y="653.7"/><use href="#p" x="497.5" y="606.4"/><use href="#p" x="623.5" y="665.2"/><use href="#p" x="584.8" y="654.9"/><use href="#p" x="576.0" y="622.1"/><use href="#p" x="698.6" y="519.8"/><use href="#p" x="635.6" y="665.3"/><use href="#p" x="640.7" y="665.2"/><use href="#p" x="627.6" y="665.8"/><use href="#p" x="648.6" y="662.4"/><use href="#p" x="709.0" y="587.5"/><use href="#p" x="567.6" y="654.4"/><use href="#p" x="584.2" y="648.3"/><use href="#p" x="555.5" y="607.5"/><use href="#p" x="671.5" y="604.3"/><use href="#p" x="582.7" y="590.7"/><use href="#p" x="537.1" y="600.8"/><use href="#p" x="714.2" y="583.3"/><use href="#p" x="559.8" y="649.2"/><use href="#p" x="536.9" y="644.3"/><use href="#p" x="631.7" y="668.2"/><use href="#p" x="647.1" y="664.3"/><use href="#p" x="709.4" y="627.1"/><use href="#p" x="573.5" y="584.4"/><use href="#p" x="744.4" y="617.4"/><use href="#p" x="596.8" y="636.3"/><use href="#p" x="617.7" y="661.5"/><use href="#p" x="784.9" y="516.1"/><use href="#p" x="494.5" y="585.8"/><use href="#p" x="584.9" y="617.2"/><use href="#p" x="677.9" y="641.2"/><use href="#p" x="687.3" y="613.4"/><use href="#p" x="582.4" y="648.0"/><use href="#p" x="617.5" y="661.4"/><use href="#p" x="620.5" y="665.2"/><use href="#p" x="651.0" y="655.2"/><use href="#p" x="608.6" y="657.1"/><use href="#p" x="637.8" y="662.5"/><use href="#p" x="438.6" y="494.4"/><use href="#p" x="668.1" y="657.7"/><use href="#p" x="564.9" y="627.1"/><use href="#p" x="579.1" y="653.3"/><use href="#p" x="742.4" y="550.7"/><use href="#p" x="784.3" y="611.3"/><use href="#p" x="612.3" y="660.1"/><use href="#p" x="575.3" y="647.5"/><use href="#p" x="673.3" y="634.1"/><use href="#p" x="712.6" y="588.6"/><use href="#p" x="728.1" y="616.5"/><use href="#p" x="619.7" y="660.8"/><use href="#p" x="710.4" y="609.5"/><use href="#p" x="565.7" y="588.0"/><use href="#p" x="560.0" y="647.4"/><use href="#p" x="573.7" y="620.5"/><use href="#p" x="560.6" y="624.4"/><use href="#p" x="536.1" y="635.7"/><use href="#p" x="496.7" y="601.5"/><use href="#p" x="562.6" y="625.4"/><use href="#p" x="488.2" y="500.1"/><use href="#p" x="394.2" y="505.0"/><use href="#p" x="751.2" y="570.9"/><use href="#p" x="534.4" y="506.5"/><use href="#p" x="642.5" y="659.1"/><use href="#p" x="723.8" y="592.0"/><use href="#p" x="723.7" y="632.1"/><use href="#p" x="615.1" y="646.6"/><use href="#p" x="599.0" y="635.2"/><use href="#p" x="588.2" y="637.1"/><use href="#p" x="775.7" y="625.8"/><use href="#p" x="670.3" y="656.5"/><use href="#p" x="508.6" y="609.0"/><use href="#p" x="540.7" y="615.8"/><use href="#p" x="552.2" y="612.3"/><use href="#p" x="659.3" y="657.8"/><use href="#p" x="622.0" y="660.8"/><use href="#p" x="674.4" y="624.4"/><use href="#p" x="553.8" y="583.1"/><use href="#p" x="638.9" y="667.0"/><use href="#p" x="783.6" y="591.8"/><use href="#p" x="666.9" y="643.6"/><use href="#p" x="587.2" y="643.9"/><use href="#p" x="710.5" y="633.4"/><use href="#p" x="459.1" y="570.2"/><use href="#p" x="420.4" y="597.9"/><use href="#p" x="576.6" y="619.9"/><use href="#p" x="668.8" y="646.0"/><use href="#p" x="861.7" y="562.1"/><use href="#p" x="673.8" y="650.4"/><use href="#p" x="647.3" y="657.7"/><use href="#p" x="745.9" y="631.4"/><use href="#p" x="666.9" y="650.9"/><use href="#p" x="786.5" y="610.7"/><use href="#p" x="500.3" y="630.5"/><use href="#p" x="747.9" y="618.0"/><use href="#p" x="638.9" y="659.7"/><use href="#p" x="533.3" y="594.2"/><use href="#p" x="712.7" y="625.6"/><use href="#p" x="547.8" y="606.6"/><use href="#p" x="510.8" y="573.8"/><use href="#p" x="619.2" y="659.0"/><use href="#p" x="586.1" y="554.2"/><use href="#p" x="695.9" y="575.2"/><use href="#p" x="691.4" y="574.2"/><use href="#p" x="681.8" y="638.9"/><use href="#p" x="756.6" y="633.5"/><use href="#p" x="632.3" y="667.1"/><use href="#p" x="628.0" y="664.8"/><use href="#p" x="439.3" y="570.2"/><use href="#p" x="617.8" y="643.5"/><use href="#p" x="637.5" y="653.7"/><use href="#p" x="532.6" y="621.1"/><use href="#p" x="758.8" y="586.8"/><use href="#p" x="684.1" y="624.8"/><use href="#p" x="720.0" y="647.3"/><use href="#p" x="702.4" y="585.6"/><use href="#p" x="600.5" y="652.3"/><use href="#p" x="564.0" y="649.5"/><use href="#p" x="578.6" y="619.8"/><use href="#p" x="893.9" y="515.3"/><use href="#p" x="661.9" y="650.3"/><use href="#p" x="683.4" y="549.3"/><use href="#p" x="613.0" y="659.7"/><use href="#p" x="686.7" y="622.3"/><use href="#p" x="661.2" y="655.4"/><use href="#p" x="625.6" y="661.3"/><use href="#p" x="590.6" y="644.5"/><use href="#p" x="502.2" y="587.7"/><use href="#p" x="536.9" y="633.5"/><use href="#p" x="519.5" y="580.6"/><use href="#p" x="696.7" y="507.3"/><use href="#p" x="703.8" y="591.2"/><use href="#p" x="562.0" y="611.5"/><use href="#p" x="507.0" y="629.2"/><use href="#p" x="574.3" y="655.5"/><use href="#p" x="719.6" y="612.5"/><use href="#p" x="748.0" y="595.1"/><use href="#p" x="642.5" y="666.2"/><use href="#p" x="617.4" y="665.4"/><use href="#p" x="691.9" y="650.8"/><use href="#p" x="611.0" y="663.5"/><use href="#p" x="581.3" y="632.8"/><use href="#p" x="646.2" y="657.1"/><use href="#p" x="666.0" y="660.4"/><use href="#p" x="597.8" y="649.5"/><use href="#p" x="682.9" y="613.5"/><use href="#p" x="727.9" y="605.8"/><use href="#p" x="619.5" y="645.6"/><use href="#p" x="660.8" y="648.0"/><use href="#p" x="577.9" y="647.3"/><use href="#p" x="674.7" y="642.3"/><use href="#p" x="652.2" y="659.5"/><use href="#p" x="658.8" y="655.7"/><use href="#p" x="670.4" y="611.9"/><use href="#p" x="672.9" y="608.1"/><use href="#p" x="598.3" y="634.6"/><use href="#p" x="529.6" y="540.5"/><use href="#p" x="589.9" y="641.7"/><use href="#p" x="674.5" y="616.3"/><use href="#p" x="568.4" y="607.1"/><use href="#p" x="663.6" y="647.7"/><use href="#p" x="624.0" y="651.4"/><use href="#p" x="611.8" y="646.3"/><use href="#p" x="601.4" y="654.0"/><use href="#p" x="658.0" y="656.3"/><use href="#p" x="656.4" y="655.3"/><use href="#p" x="709.2" y="523.7"/><use href="#p" x="549.9" y="585.3"/><use href="#p" x="668.2" y="598.4"/><use href="#p" x="571.4" y="652.4"/><use href="#p" x="681.3" y="655.9"/><use href="#p" x="641.7" y="665.4"/><use href="#p" x="529.1" y="562.8"/><use href="#p" x="649.7" y="660.6"/><use href="#p" x="636.7" y="666.5"/><use href="#p" x="531.1" y="629.0"/><use href="#p" x="513.3" y="515.3"/><use href="#p" x="486.2" y="601.0"/><use href="#p" x="689.7" y="603.5"/><use href="#p" x="646.2" y="643.1"/><use href="#p" x="696.4" y="554.7"/><use href="#p" x="584.4" y="656.2"/><use href="#p" x="594.3" y="658.6"/><use href="#p" x="716.3" y="593.4"/><use href="#p" x="641.6" y="666.0"/><use href="#p" x="547.6" y="562.4"/><use href="#p" x="682.8" y="579.8"/><use href="#p" x="547.2" y="628.3"/><use href="#p" x="679.0" y="657.6"/><use href="#p" x="611.8" y="657.7"/><use href="#p" x="724.9" y="596.6"/><use href="#p" x="588.9" y="567.1"/><use href="#p" x="503.6" y="539.6"/><use href="#p" x="517.3" y="615.2"/><use href="#p" x="619.4" y="663.9"/><use href="#p" x="726.6" y="537.6"/><use href="#p" x="522.7" y="603.6"/><use href="#p" x="582.7" y="558.4"/><use href="#p" x="586.6" y="618.2"/><use href="#p" x="695.0" y="647.3"/><use href="#p" x="721.8" y="596.8"/><use href="#p" x="504.2" y="590.3"/><use href="#p" x="537.8" y="642.5"/><use href="#p" x="485.7" y="613.3"/><use href="#p" x="500.1" y="623.8"/><use href="#p" x="636.8" y="666.7"/><use href="#p" x="722.4" y="609.7"/><use href="#p" x="637.8" y="654.5"/><use href="#p" x="571.0" y="590.2"/><use href="#p" x="432.6" y="605.1"/><use href="#p" x="412.8" y="587.0"/><use href="#p" x="539.9" y="642.8"/><use href="#p" x="662.0" y="638.1"/><use href="#p" x="673.4" y="649.7"/><use href="#p" x="717.8" y="632.2"/><use href="#p" x="560.0" y="562.0"/><use href="#p" x="644.9" y="661.7"/><use href="#p" x="656.9" y="662.9"/><use href="#p" x="622.9" y="657.0"/><use href="#p" x="614.9" y="652.5"/><use href="#p" x="575.0" y="538.0"/><use href="#p" x="708.1" y="614.1"/><use href="#p" x="528.5" y="582.5"/><use href="#p" x="810.5" y="558.5"/><use href="#p" x="522.1" y="631.3"/><use href="#p" x="537.1" y="520.7"/><use href="#p" x="634.3" y="666.4"/><use href="#p" x="615.9" y="665.1"/><use href="#p" x="503.9" y="570.4"/><use href="#p" x="625.4" y="665.8"/><use href="#p" x="574.2" y="605.7"/><use href="#p" x="656.3" y="650.4"/><use href="#p" x="623.8" y="633.5"/><use href="#p" x="695.9" y="629.2"/><use href="#p" x="621.0" y="618.2"/><use href="#p" x="581.8" y="606.8"/><use href="#p" x="633.4" y="665.5"/><use href="#p" x="594.9" y="659.2"/><use href="#p" x="580.4" y="634.5"/><use href="#p" x="627.1" y="665.5"/><use href="#p" x="633.8" y="666.8"/><use href="#p" x="696.0" y="646.2"/><use href="#p" x="592.9" y="647.6"/><use href="#p" x="821.2" y="489.0"/><use href="#p" x="702.4" y="622.7"/><use href="#p" x="696.5" y="595.8"/><use href="#p" x="574.0" y="652.5"/><use href="#p" x="689.6" y="631.5"/><use href="#p" x="681.1" y="583.0"/><use href="#p" x="504.2" y="585.8"/><use href="#p" x="722.2" y="532.9"/><use href="#p" x="585.4" y="650.1"/><use href="#p" x="558.3" y="613.0"/><use href="#p" x="685.0" y="616.6"/><use href="#p" x="648.8" y="652.7"/><use href="#p" x="719.8" y="587.1"/><use href="#p" x="708.3" y="605.4"/><use href="#p" x="820.8" y="482.2"/><use href="#p" x="686.6" y="607.5"/><use href="#p" x="598.6" y="643.0"/><use href="#p" x="778.1" y="599.6"/><use href="#p" x="500.2" y="524.7"/><use href="#p" x="637.7" y="665.5"/><use href="#p" x="685.8" y="616.8"/><use href="#p" x="636.1" y="664.7"/><use href="#p" x="714.1" y="627.3"/><use href="#p" x="698.9" y="594.0"/><use href="#p" x="663.0" y="635.3"/><use href="#p" x="503.0" y="617.5"/><use href="#p" x="698.2" y="618.6"/><use href="#p" x="597.0" y="637.4"/><use href="#p" x="778.6" y="550.3"/><use href="#p" x="672.2" y="657.4"/><use href="#p" x="530.8" y="602.7"/><use href="#p" x="746.8" y="519.2"/><use href="#p" x="752.6" y="561.6"/><use href="#p" x="650.2" y="643.3"/><use href="#p" x="614.2" y="663.6"/><use href="#p" x="680.6" y="632.8"/><use href="#p" x="684.2" y="600.1"/><use href="#p" x="770.1" y="626.7"/><use href="#p" x="635.2" y="666.8"/><use href="#p" x="597.4" y="659.0"/><use href="#p" x="750.4" y="524.8"/><use href="#p" x="605.7" y="648.6"/><use href="#p" x="497.4" y="609.7"/><use href="#p" x="567.0" y="626.0"/><use href="#p" x="568.9" y="629.4"/><use href="#p" x="539.5" y="640.5"/><use href="#p" x="627.9" y="666.8"/><use href="#p" x="719.5" y="631.4"/><use href="#p" x="598.7" y="612.9"/><use href="#p" x="525.5" y="574.9"/><use href="#p" x="615.5" y="660.8"/><use href="#p" x="645.5" y="643.7"/><use href="#p" x="655.2" y="614.7"/><use href="#p" x="685.2" y="614.5"/><use href="#p" x="514.7" y="641.5"/><use href="#p" x="585.5" y="599.7"/><use href="#p" x="602.0" y="620.3"/><use href="#p" x="494.1" y="622.3"/><use href="#p" x="617.5" y="654.1"/><use href="#p" x="659.9" y="652.4"/><use href="#p" x="682.5" y="607.7"/><use href="#p" x="612.4" y="647.5"/><use href="#p" x="766.4" y="625.2"/><use href="#p" x="646.9" y="658.7"/><use href="#p" x="700.5" y="630.6"/><use href="#p" x="633.2" y="666.9"/><use href="#p" x="590.0" y="627.0"/><use href="#p" x="639.1" y="664.5"/><use href="#p" x="594.3" y="656.1"/><use href="#p" x="696.7" y="629.3"/><use href="#p" x="643.8" y="656.6"/><use href="#p" x="379.2" y="536.2"/><use href="#p" x="572.6" y="618.1"/><use href="#p" x="561.3" y="590.5"/><use href="#p" x="629.5" y="662.2"/><use href="#p" x="478.8" y="624.3"/><use href="#p" x="696.2" y="622.2"/><use href="#p" x="613.6" y="650.5"/><use href="#p" x="596.8" y="657.2"/><use href="#p" x="631.2" y="668.0"/><use href="#p" x="713.0" y="613.9"/><use href="#p" x="564.5" y="597.7"/><use href="#p" x="658.8" y="642.8"/><use href="#p" x="663.2" y="645.3"/><use href="#p" x="489.4" y="514.1"/><use href="#p" x="515.7" y="574.9"/><use href="#p" x="677.2" y="586.5"/><use href="#p" x="521.4" y="559.2"/><use href="#p" x="629.5" y="666.6"/><use href="#p" x="680.1" y="543.4"/><use href="#p" x="502.4" y="618.6"/><use href="#p" x="610.0" y="605.0"/><use href="#p" x="574.5" y="622.9"/><use href="#p" x="656.5" y="634.7"/><use href="#p" x="500.8" y="617.6"/><use href="#p" x="513.9" y="493.0"/><use href="#p" x="618.4" y="656.4"/><use href="#p" x="614.5" y="662.8"/><use href="#p" x="503.1" y="525.2"/><use href="#p" x="643.2" y="650.3"/><use href="#p" x="486.1" y="566.0"/><use href="#p" x="713.7" y="620.0"/><use href="#p" x="498.0" y="538.8"/><use href="#p" x="649.0" y="663.9"/><use href="#p" x="610.9" y="659.9"/><use href="#p" x="597.7" y="655.3"/><use href="#p" x="478.2" y="539.9"/><use href="#p" x="662.0" y="602.6"/><use href="#p" x="626.3" y="647.4"/><use href="#p" x="548.2" y="602.2"/><use href="#p" x="646.4" y="660.2"/><use href="#p" x="383.5" y="579.2"/><use href="#p" x="612.9" y="639.0"/><use href="#p" x="618.1" y="652.2"/><use href="#p" x="595.1" y="624.7"/><use href="#p" x="566.7" y="599.0"/><use href="#p" x="766.9" y="584.1"/><use href="#p" x="776.1" y="608.3"/><use href="#p" x="568.6" y="642.9"/><use href="#p" x="570.0" y="516.4"/><use href="#p" x="489.8" y="525.3"/><use href="#p" x="604.5" y="645.7"/><use href="#p" x="643.3" y="660.7"/><use href="#p" x="685.7" y="619.5"/><use href="#p" x="719.9" y="554.3"/><use href="#p" x="701.3" y="623.1"/><use href="#p" x="663.6" y="634.5"/><use href="#p" x="773.2" y="579.9"/><use href="#p" x="482.2" y="597.5"/><use href="#p" x="576.9" y="625.7"/><use href="#p" x="714.3" y="605.5"/><use href="#p" x="686.5" y="621.1"/><use href="#p" x="611.5" y="664.4"/><use href="#p" x="632.0" y="667.8"/><use href="#p" x="571.7" y="610.1"/><use href="#p" x="661.8" y="652.8"/><use href="#p" x="592.9" y="630.0"/><use href="#p" x="569.8" y="630.4"/><use href="#p" x="596.1" y="628.4"/><use href="#p" x="596.1" y="624.9"/><use href="#p" x="639.6" y="666.4"/><use href="#p" x="551.5" y="518.5"/><use href="#p" x="584.6" y="658.8"/><use href="#p" x="586.7" y="529.2"/><use href="#p" x="508.3" y="563.7"/><use href="#p" x="531.4" y="569.3"/><use href="#p" x="714.4" y="560.2"/><use href="#p" x="536.0" y="541.6"/><use href="#p" x="625.3" y="664.8"/><use href="#p" x="708.7" y="597.1"/><use href="#p" x="638.1" y="662.5"/><use href="#p" x="691.1" y="636.0"/><use href="#p" x="705.5" y="494.5"/><use href="#p" x="588.5" y="659.5"/><use href="#p" x="610.3" y="656.7"/><use href="#p" x="650.8" y="648.8"/><use href="#p" x="517.1" y="575.8"/><use href="#p" x="591.3" y="657.5"/><use href="#p" x="522.4" y="593.1"/><use href="#p" x="708.8" y="626.1"/><use href="#p" x="818.0" y="526.9"/><use href="#p" x="663.2" y="631.6"/><use href="#p" x="610.0" y="651.0"/><use href="#p" x="584.6" y="623.0"/><use href="#p" x="696.0" y="628.6"/><use href="#p" x="611.1" y="663.2"/><use href="#p" x="705.5" y="641.9"/><use href="#p" x="632.3" y="667.4"/><use href="#p" x="699.9" y="607.0"/><use href="#p" x="631.8" y="668.1"/><use href="#p" x="562.6" y="602.9"/><use href="#p" x="542.8" y="637.8"/><use href="#p" x="654.9" y="661.9"/><use href="#p" x="485.1" y="603.1"/><use href="#p" x="687.5" y="623.8"/><use href="#p" x="612.6" y="588.9"/><use href="#p" x="666.3" y="565.2"/><use href="#p" x="590.6" y="599.5"/><use href="#p" x="513.3" y="582.0"/><use href="#p" x="403.8" y="571.0"/><use href="#p" x="590.8" y="651.5"/><use href="#p" x="648.4" y="647.8"/><use href="#p" x="482.8" y="520.0"/><use href="#p" x="690.3" y="623.6"/><use href="#p" x="745.1" y="579.6"/><use href="#p" x="779.8" y="628.3"/><use href="#p" x="707.1" y="504.3"/><use href="#p" x="684.0" y="611.7"/><use href="#p" x="566.9" y="636.0"/><use href="#p" x="586.3" y="640.7"/><use href="#p" x="643.5" y="654.7"/><use href="#p" x="575.5" y="654.5"/><use href="#p" x="667.7" y="645.7"/><use href="#p" x="738.8" y="570.5"/><use href="#p" x="688.8" y="508.4"/><use href="#p" x="601.6" y="626.2"/><use href="#p" x="424.8" y="544.8"/><use href="#p" x="693.7" y="547.7"/><use href="#p" x="632.1" y="667.9"/><use href="#p" x="485.2" y="544.8"/><use href="#p" x="693.7" y="587.0"/><use href="#p" x="529.8" y="621.4"/><use href="#p" x="751.3" y="606.5"/><use href="#p" x="677.6" y="614.7"/><use href="#p" x="580.3" y="635.1"/><use href="#p" x="588.7" y="593.3"/><use href="#p" x="592.5" y="628.9"/><use href="#p" x="558.8" y="592.0"/><use href="#p" x="572.4" y="630.7"/><use href="#p" x="596.4" y="618.8"/><use href="#p" x="435.3" y="609.7"/><use href="#p" x="653.0" y="655.6"/><use href="#p" x="598.5" y="599.4"/><use href="#p" x="574.6" y="651.1"/><use href="#p" x="585.3" y="605.8"/><use href="#p" x="623.5" y="663.0"/><use href="#p" x="691.4" y="622.4"/><use href="#p" x="722.1" y="512.3"/><use href="#p" x="537.4" y="562.9"/><use href="#p" x="630.3" y="664.6"/><use href="#p" x="651.5" y="654.0"/><use href="#p" x="707.1" y="565.7"/><use href="#p" x="731.2" y="563.6"/><use href="#p" x="598.7" y="639.6"/><use href="#p" x="655.6" y="652.1"/><use href="#p" x="701.2" y="616.8"/><use href="#p" x="682.1" y="627.3"/><use href="#p" x="535.7" y="644.6"/><use href="#p" x="614.8" y="640.8"/><use href="#p" x="675.2" y="631.8"/><use href="#p" x="541.9" y="623.1"/><use href="#p" x="566.3" y="595.6"/><use href="#p" x="562.4" y="596.1"/><use href="#p" x="730.1" y="523.3"/><use href="#p" x="511.4" y="535.0"/><use href="#p" x="644.9" y="656.6"/><use href="#p" x="537.6" y="591.4"/><use href="#p" x="642.7" y="636.6"/><use href="#p" x="549.0" y="645.6"/><use href="#p" x="649.4" y="657.0"/><use href="#p" x="757.8" y="625.2"/><use href="#p" x="589.5" y="657.6"/><use href="#p" x="641.5" y="643.8"/><use href="#p" x="657.7" y="625.0"/><use href="#p" x="638.6" y="666.5"/><use href="#p" x="742.5" y="623.7"/><use href="#p" x="661.4" y="646.1"/><use href="#p" x="543.8" y="599.4"/><use href="#p" x="702.7" y="644.6"/><use href="#p" x="691.6" y="656.3"/><use href="#p" x="897.3" y="495.9"/><use href="#p" x="627.8" y="666.2"/><use href="#p" x="779.0" y="531.1"/><use href="#p" x="538.5" y="642.1"/><use href="#p" x="540.2" y="522.4"/><use href="#p" x="592.8" y="654.9"/><use href="#p" x="561.2" y="650.6"/><use href="#p" x="533.5" y="550.9"/><use href="#p" x="627.2" y="667.4"/><use href="#p" x="592.3" y="647.9"/><use href="#p" x="630.3" y="663.9"/><use href="#p" x="566.2" y="641.9"/><use href="#p" x="594.4" y="659.0"/><use href="#p" x="630.6" y="667.6"/><use href="#p" x="671.1" y="598.0"/><use href="#p" x="581.6" y="605.2"/><use href="#p" x="533.0" y="607.9"/><use href="#p" x="585.0" y="638.5"/><use href="#p" x="629.0" y="667.7"/><use href="#p" x="723.9" y="632.8"/><use href="#p" x="626.6" y="661.0"/><use href="#p" x="731.9" y="594.9"/><use href="#p" x="731.1" y="488.0"/><use href="#p" x="617.0" y="661.7"/><use href="#p" x="700.1" y="593.1"/><use href="#p" x="751.8" y="516.7"/><use href="#p" x="584.9" y="616.1"/><use href="#p" x="651.1" y="654.2"/><use href="#p" x="622.7" y="666.2"/><use href="#p" x="730.0" y="573.9"/><use href="#p" x="499.9" y="586.0"/><use href="#p" x="540.9" y="607.6"/><use href="#p" x="683.3" y="612.5"/><use href="#p" x="582.2" y="622.9"/><use href="#p" x="749.5" y="555.8"/><use href="#p" x="468.8" y="588.9"/><use href="#p" x="729.7" y="634.0"/><use href="#p" x="582.2" y="639.7"/><use href="#p" x="588.2" y="648.4"/><use href="#p" x="662.7" y="648.8"/><use href="#p" x="534.7" y="646.0"/><use href="#p" x="541.3" y="613.0"/><use href="#p" x="570.7" y="584.5"/><use href="#p" x="577.8" y="610.1"/><use href="#p" x="572.3" y="629.7"/><use href="#p" x="563.4" y="603.1"/><use href="#p" x="574.7" y="582.8"/><use href="#p" x="621.5" y="657.4"/><use href="#p" x="465.9" y="517.3"/><use href="#p" x="539.3" y="520.0"/><use href="#p" x="551.0" y="630.4"/><use href="#p" x="664.3" y="650.9"/><use href="#p" x="611.3" y="659.1"/><use href="#p" x="608.0" y="655.3"/><use href="#p" x="645.3" y="665.6"/><use href="#p" x="496.5" y="580.8"/><use href="#p" x="596.8" y="656.8"/><use href="#p" x="731.3" y="615.4"/><use href="#p" x="447.9" y="565.4"/><use href="#p" x="650.3" y="652.9"/><use href="#p" x="669.1" y="648.5"/><use href="#p" x="563.9" y="641.5"/><use href="#p" x="721.4" y="614.0"/><use href="#p" x="593.0" y="658.5"/><use href="#p" x="534.1" y="540.2"/><use href="#p" x="572.2" y="629.8"/><use href="#p" x="689.1" y="623.1"/><use href="#p" x="410.5" y="505.0"/><use href="#p" x="645.1" y="659.2"/><use href="#p" x="534.0" y="569.8"/><use href="#p" x="607.5" y="616.1"/><use href="#p" x="554.7" y="639.3"/><use href="#p" x="743.1" y="626.0"/><use href="#p" x="608.7" y="654.2"/><use href="#p" x="755.5" y="602.8"/><use href="#p" x="683.3" y="631.3"/><use href="#p" x="597.8" y="613.1"/><use href="#p" x="589.8" y="627.8"/><use href="#p" x="731.8" y="614.5"/><use href="#p" x="673.2" y="637.9"/><use href="#p" x="651.8" y="657.0"/><use href="#p" x="616.6" y="657.2"/><use href="#p" x="599.2" y="640.1"/><use href="#p" x="715.5" y="554.3"/><use href="#p" x="518.6" y="633.5"/><use href="#p" x="557.9" y="635.5"/><use href="#p" x="781.2" y="604.0"/><use href="#p" x="522.1" y="631.0"/><use href="#p" x="544.6" y="640.4"/><use href="#p" x="469.8" y="602.2"/><use href="#p" x="667.5" y="638.5"/><use href="#p" x="523.6" y="574.6"/><use href="#p" x="640.7" y="661.3"/><use href="#p" x="618.5" y="666.0"/><use href="#p" x="622.7" y="651.7"/><use href="#p" x="630.1" y="664.8"/><use href="#p" x="630.4" y="667.5"/><use href="#p" x="695.3" y="616.8"/><use href="#p" x="635.8" y="667.0"/><use href="#p" x="591.9" y="655.0"/><use href="#p" x="606.1" y="617.0"/><use href="#p" x="527.5" y="584.4"/><use href="#p" x="862.1" y="500.6"/><use href="#p" x="508.7" y="625.8"/><use href="#p" x="639.6" y="666.1"/><use href="#p" x="716.7" y="609.7"/><use href="#p" x="663.1" y="629.8"/><use href="#p" x="657.6" y="627.8"/><use href="#p" x="644.7" y="657.2"/><use href="#p" x="655.0" y="639.6"/><use href="#p" x="509.0" y="626.4"/><use href="#p" x="613.0" y="663.7"/><use href="#p" x="544.5" y="637.8"/><use href="#p" x="533.6" y="546.1"/><use href="#p" x="682.3" y="654.9"/><use href="#p" x="515.7" y="579.2"/><use href="#p" x="624.0" y="660.8"/><use href="#p" x="575.1" y="648.0"/><use href="#p" x="703.5" y="602.9"/><use href="#p" x="735.1" y="490.4"/><use href="#p" x="539.3" y="634.0"/><use href="#p" x="573.4" y="621.1"/><use href="#p" x="599.1" y="624.1"/><use href="#p" x="609.4" y="663.0"/><use href="#p" x="445.6" y="617.1"/><use href="#p" x="652.4" y="658.4"/><use href="#p" x="685.1" y="594.6"/><use href="#p" x="570.4" y="583.9"/><use href="#p" x="617.2" y="658.1"/><use href="#p" x="456.3" y="618.6"/><use href="#p" x="583.8" y="597.7"/><use href="#p" x="655.0" y="629.4"/><use href="#p" x="638.1" y="660.6"/><use href="#p" x="683.9" y="614.7"/><use href="#p" x="560.8" y="581.8"/><use href="#p" x="694.2" y="639.4"/><use href="#p" x="600.2" y="657.2"/><use href="#p" x="639.9" y="666.1"/><use href="#p" x="493.4" y="553.0"/><use href="#p" x="675.2" y="590.3"/><use href="#p" x="696.0" y="631.3"/><use href="#p" x="524.5" y="613.6"/><use href="#p" x="549.9" y="648.5"/><use href="#p" x="692.7" y="586.0"/><use href="#p" x="552.0" y="643.8"/><use href="#p" x="676.2" y="602.6"/><use href="#p" x="532.5" y="585.6"/><use href="#p" x="754.4" y="528.5"/><use href="#p" x="496.3" y="589.1"/><use href="#p" x="543.3" y="627.2"/><use href="#p" x="473.7" y="516.4"/><use href="#p" x="657.3" y="612.0"/><use href="#p" x="714.9" y="620.5"/><use href="#p" x="700.2" y="653.4"/><use href="#p" x="655.2" y="633.3"/><use href="#p" x="649.3" y="655.1"/><use href="#p" x="726.4" y="574.7"/><use href="#p" x="707.1" y="593.2"/><use href="#p" x="524.8" y="630.5"/><use href="#p" x="646.5" y="665.0"/><use href="#p" x="570.2" y="638.1"/><use href="#p" x="681.7" y="587.9"/><use href="#p" x="610.4" y="644.2"/><use href="#p" x="628.5" y="662.4"/><use href="#p" x="624.3" y="637.3"/><use href="#p" x="686.3" y="642.7"/><use href="#p" x="592.2" y="644.1"/><use href="#p" x="601.4" y="648.0"/><use href="#p" x="735.6" y="558.5"/><use href="#p" x="599.0" y="616.8"/><use href="#p" x="633.1" y="667.7"/><use href="#p" x="686.8" y="489.3"/><use href="#p" x="637.4" y="664.2"/><use href="#p" x="601.7" y="656.3"/><use href="#p" x="523.0" y="622.4"/><use href="#p" x="592.0" y="626.3"/><use href="#p" x="592.7" y="604.6"/><use href="#p" x="590.0" y="649.1"/><use href="#p" x="512.7" y="589.8"/><use href="#p" x="636.1" y="665.3"/><use href="#p" x="602.3" y="609.4"/><use href="#p" x="674.9" y="621.7"/><use href="#p" x="484.4" y="590.3"/><use href="#p" x="684.1" y="618.6"/><use href="#p" x="442.8" y="601.9"/><use href="#p" x="606.9" y="661.7"/><use href="#p" x="481.9" y="590.4"/><use href="#p" x="545.5" y="519.1"/><use href="#p" x="729.1" y="539.3"/><use href="#p" x="662.9" y="630.8"/><use href="#p" x="726.2" y="489.6"/><use href="#p" x="673.9" y="651.6"/><use href="#p" x="722.3" y="591.6"/><use href="#p" x="630.4" y="667.5"/><use href="#p" x="611.8" y="644.7"/><use href="#p" x="663.6" y="634.3"/><use href="#p" x="621.8" y="663.5"/><use href="#p" x="645.0" y="661.5"/><use href="#p" x="542.4" y="507.0"/><use href="#p" x="620.0" y="664.9"/><use href="#p" x="691.9" y="571.9"/><use href="#p" x="746.2" y="506.7"/><use href="#p" x="709.7" y="573.4"/><use href="#p" x="527.4" y="623.2"/><use href="#p" x="606.0" y="663.1"/><use href="#p" x="586.2" y="636.4"/><use href="#p" x="713.9" y="583.3"/><use href="#p" x="497.1" y="569.6"/><use href="#p" x="667.1" y="626.7"/><use href="#p" x="651.6" y="664.3"/><use href="#p" x="651.4" y="644.6"/><use href="#p" x="641.9" y="661.5"/><use href="#p" x="663.7" y="635.0"/><use href="#p" x="652.8" y="638.6"/><use href="#p" x="684.7" y="607.5"/><use href="#p" x="540.6" y="536.6"/><use href="#p" x="545.6" y="588.9"/><use href="#p" x="617.8" y="652.9"/><use href="#p" x="621.4" y="647.4"/><use href="#p" x="687.2" y="596.4"/><use href="#p" x="674.4" y="644.8"/><use href="#p" x="539.4" y="596.7"/><use href="#p" x="613.9" y="654.2"/><use href="#p" x="671.8" y="598.4"/><use href="#p" x="506.8" y="631.7"/><use href="#p" x="722.7" y="516.4"/><use href="#p" x="505.3" y="627.1"/><use href="#p" x="726.6" y="566.2"/><use href="#p" x="677.5" y="538.6"/><use href="#p" x="638.2" y="664.5"/><use href="#p" x="660.5" y="645.5"/><use href="#p" x="519.6" y="615.7"/><use href="#p" x="771.7" y="587.1"/><use href="#p" x="546.0" y="646.3"/><use href="#p" x="751.4" y="607.3"/><use href="#p" x="633.7" y="665.6"/><use href="#p" x="686.2" y="602.7"/><use href="#p" x="604.6" y="611.3"/><use href="#p" x="623.4" y="665.3"/><use href="#p" x="625.5" y="647.2"/><use href="#p" x="730.9" y="582.5"/><use href="#p" x="418.5" y="548.5"/><use href="#p" x="561.8" y="628.0"/><use href="#p" x="598.2" y="624.2"/><use href="#p" x="699.1" y="645.7"/><use href="#p" x="580.4" y="653.1"/><use href="#p" x="599.7" y="635.5"/><use href="#p" x="635.3" y="667.0"/><use href="#p" x="577.4" y="632.9"/><use href="#p" x="654.8" y="646.2"/><use href="#p" x="687.6" y="604.8"/><use href="#p" x="634.3" y="667.6"/><use href="#p" x="566.7" y="632.3"/><use href="#p" x="566.4" y="603.4"/><use href="#p" x="657.2" y="651.1"/><use href="#p" x="731.6" y="625.1"/><use href="#p" x="672.5" y="615.2"/><use href="#p" x="642.0" y="664.6"/><use href="#p" x="677.3" y="510.0"/><use href="#p" x="619.8" y="665.6"/><use href="#p" x="673.5" y="595.6"/><use href="#p" x="667.1" y="653.0"/><use href="#p" x="678.9" y="626.7"/><use href="#p" x="541.6" y="613.1"/><use href="#p" x="592.4" y="626.1"/><use href="#p" x="811.1" y="529.0"/><use href="#p" x="722.1" y="580.0"/><use href="#p" x="528.0" y="615.5"/><use href="#p" x="544.0" y="534.6"/><use href="#p" x="551.3" y="596.6"/><use href="#p" x="723.8" y="633.2"/><use href="#p" x="671.8" y="657.8"/><use href="#p" x="630.5" y="667.4"/><use href="#p" x="638.8" y="666.5"/><use href="#p" x="630.5" y="668.0"/><use href="#p" x="662.5" y="633.1"/><use href="#p" x="663.5" y="645.4"/><use href="#p" x="599.0" y="655.3"/><use href="#p" x="522.9" y="608.1"/><use href="#p" x="670.7" y="587.6"/><use href="#p" x="603.1" y="650.7"/><use href="#p" x="661.3" y="596.4"/><use href="#p" x="662.1" y="657.4"/><use href="#p" x="623.2" y="660.2"/><use href="#p" x="669.4" y="625.2"/><use href="#p" x="746.5" y="629.3"/><use href="#p" x="649.3" y="664.6"/><use href="#p" x="656.3" y="656.1"/><use href="#p" x="655.5" y="638.7"/><use href="#p" x="629.4" y="666.4"/><use href="#p" x="678.1" y="632.8"/><use href="#p" x="682.5" y="612.4"/><use href="#p" x="757.8" y="636.9"/><use href="#p" x="548.3" y="560.8"/><use href="#p" x="756.9" y="579.4"/><use href="#p" x="529.2" y="536.0"/><use href="#p" x="593.4" y="651.9"/><use href="#p" x="668.7" y="626.0"/><use href="#p" x="615.5" y="664.5"/><use href="#p" x="653.2" y="663.9"/><use href="#p" x="608.4" y="649.9"/><use href="#p" x="658.5" y="612.3"/><use href="#p" x="663.2" y="660.3"/><use href="#p" x="499.4" y="608.2"/><use href="#p" x="447.5" y="494.4"/><use href="#p" x="552.1" y="603.9"/><use href="#p" x="639.6" y="643.1"/><use href="#p" x="551.9" y="632.9"/><use href="#p" x="591.3" y="660.8"/><use href="#p" x="704.2" y="587.8"/><use href="#p" x="833.9" y="578.2"/><use href="#p" x="638.9" y="650.9"/><use href="#p" x="639.9" y="633.2"/><use href="#p" x="717.5" y="579.4"/><use href="#p" x="757.5" y="579.6"/><use href="#p" x="599.0" y="660.0"/><use href="#p" x="643.8" y="665.7"/><use href="#p" x="609.6" y="658.3"/><use href="#p" x="540.9" y="501.7"/><use href="#p" x="618.9" y="637.7"/><use href="#p" x="717.9" y="609.0"/><use href="#p" x="573.7" y="586.4"/><use href="#p" x="633.7" y="666.6"/><use href="#p" x="494.7" y="585.5"/><use href="#p" x="715.1" y="490.0"/><use href="#p" x="683.7" y="613.0"/><use href="#p" x="594.7" y="646.0"/><use href="#p" x="740.4" y="501.6"/><use href="#p" x="411.5" y="505.8"/><use href="#p" x="604.8" y="623.7"/><use href="#p" x="560.5" y="629.8"/><use href="#p" x="589.2" y="654.3"/><use href="#p" x="757.2" y="587.7"/><use href="#p" x="706.4" y="623.0"/><use href="#p" x="789.9" y="611.2"/><use href="#p" x="526.2" y="552.6"/><use href="#p" x="718.0" y="604.4"/><use href="#p" x="579.2" y="637.0"/><use href="#p" x="730.7" y="507.0"/><use href="#p" x="672.2" y="652.9"/><use href="#p" x="738.6" y="604.2"/><use href="#p" x="562.9" y="596.3"/><use href="#p" x="688.5" y="644.4"/><use href="#p" x="610.1" y="646.2"/><use href="#p" x="693.2" y="620.4"/><use href="#p" x="666.8" y="659.2"/><use href="#p" x="544.4" y="627.4"/><use href="#p" x="625.8" y="664.5"/><use href="#p" x="702.8" y="593.9"/><use href="#p" x="653.1" y="663.2"/><use href="#p" x="700.0" y="602.1"/><use href="#p" x="676.5" y="638.5"/><use href="#p" x="642.5" y="656.3"/><use href="#p" x="759.2" y="611.6"/><use href="#p" x="646.0" y="656.9"/><use href="#p" x="697.5" y="650.8"/><use href="#p" x="765.1" y="528.5"/><use href="#p" x="613.5" y="615.4"/><use href="#p" x="597.2" y="642.1"/><use href="#p" x="561.0" y="637.6"/><use href="#p" x="489.3" y="559.8"/><use href="#p" x="657.2" y="658.6"/><use href="#p" x="705.2" y="626.5"/><use href="#p" x="679.6" y="598.8"/><use href="#p" x="660.4" y="630.2"/><use href="#p" x="682.4" y="615.3"/><use href="#p" x="556.5" y="599.1"/><use href="#p" x="599.9" y="651.2"/><use href="#p" x="613.5" y="646.8"/><use href="#p" x="573.3" y="632.1"/><use href="#p" x="607.9" y="651.3"/><use href="#p" x="569.9" y="541.4"/><use href="#p" x="655.6" y="659.3"/><use href="#p" x="532.8" y="584.4"/><use href="#p" x="504.3" y="633.1"/><use href="#p" x="590.8" y="638.0"/><use href="#p" x="381.8" y="553.2"/><use href="#p" x="681.7" y="627.0"/><use href="#p" x="604.6" y="640.4"/><use href="#p" x="628.9" y="667.2"/><use href="#p" x="810.5" y="588.7"/><use href="#p" x="674.7" y="614.4"/><use href="#p" x="679.8" y="592.0"/><use href="#p" x="703.6" y="579.7"/><use href="#p" x="610.2" y="647.7"/><use href="#p" x="587.6" y="653.9"/><use href="#p" x="650.1" y="645.7"/><use href="#p" x="550.1" y="536.7"/><use href="#p" x="584.3" y="638.9"/><use href="#p" x="631.8" y="668.2"/><use href="#p" x="581.4" y="634.4"/><use href="#p" x="709.9" y="614.7"/><use href="#p" x="548.7" y="632.5"/><use href="#p" x="718.6" y="543.9"/><use href="#p" x="517.5" y="507.5"/><use href="#p" x="557.5" y="652.0"/><use href="#p" x="586.2" y="630.3"/><use href="#p" x="624.1" y="666.4"/><use href="#p" x="650.4" y="652.5"/><use href="#p" x="685.7" y="590.3"/><use href="#p" x="568.5" y="655.0"/><use href="#p" x="638.8" y="661.2"/><use href="#p" x="521.5" y="556.6"/><use href="#p" x="585.4" y="616.7"/><use href="#p" x="382.5" y="498.2"/><use href="#p" x="531.1" y="491.8"/><use href="#p" x="641.9" y="657.9"/><use href="#p" x="687.9" y="558.3"/><use href="#p" x="623.1" y="658.2"/><use href="#p" x="646.0" y="658.3"/><use href="#p" x="549.4" y="497.6"/><use href="#p" x="638.3" y="663.3"/><use href="#p" x="776.9" y="549.2"/><use href="#p" x="689.7" y="609.7"/><use href="#p" x="615.0" y="655.9"/><use href="#p" x="671.0" y="646.5"/><use href="#p" x="547.1" y="635.4"/><use href="#p" x="642.1" y="653.0"/><use href="#p" x="609.3" y="647.2"/><use href="#p" x="617.6" y="662.4"/><use href="#p" x="511.1" y="625.4"/><use href="#p" x="769.0" y="630.5"/><use href="#p" x="744.4" y="629.5"/><use href="#p" x="636.5" y="663.0"/><use href="#p" x="781.8" y="546.4"/><use href="#p" x="642.0" y="646.4"/><use href="#p" x="774.5" y="621.8"/><use href="#p" x="651.9" y="633.1"/><use href="#p" x="745.3" y="617.6"/><use href="#p" x="567.3" y="650.2"/><use href="#p" x="688.2" y="639.4"/><use href="#p" x="830.5" y="591.4"/><use href="#p" x="633.3" y="667.4"/><use href="#p" x="675.4" y="637.7"/><use href="#p" x="542.4" y="634.0"/><use href="#p" x="711.6" y="626.8"/><use href="#p" x="576.3" y="625.8"/><use href="#p" x="496.1" y="612.7"/><use href="#p" x="666.3" y="641.8"/><use href="#p" x="620.0" y="663.7"/><use href="#p" x="541.7" y="565.9"/><use href="#p" x="736.9" y="611.8"/><use href="#p" x="666.3" y="592.0"/><use href="#p" x="640.3" y="660.6"/><use href="#p" x="647.7" y="658.0"/><use href="#p" x="594.3" y="643.2"/><use href="#p" x="618.1" y="649.2"/><use href="#p" x="580.9" y="583.8"/><use href="#p" x="477.4" y="521.8"/><use href="#p" x="759.3" y="569.2"/><use href="#p" x="407.2" y="584.3"/><use href="#p" x="591.6" y="642.7"/><use href="#p" x="694.6" y="654.1"/><use href="#p" x="722.9" y="586.8"/><use href="#p" x="673.9" y="629.4"/><use href="#p" x="671.3" y="647.4"/><use href="#p" x="621.0" y="659.9"/><use href="#p" x="639.3" y="661.9"/><use href="#p" x="483.2" y="625.4"/><use href="#p" x="567.1" y="607.7"/><use href="#p" x="730.3" y="595.6"/><use href="#p" x="619.2" y="652.5"/><use href="#p" x="502.0" y="506.4"/><use href="#p" x="493.1" y="600.5"/><use href="#p" x="693.5" y="493.0"/><use href="#p" x="634.6" y="665.6"/><use href="#p" x="709.5" y="650.6"/><use href="#p" x="640.7" y="659.7"/><use href="#p" x="575.9" y="599.5"/><use href="#p" x="681.8" y="654.2"/><use href="#p" x="712.4" y="623.1"/><use href="#p" x="611.8" y="647.5"/><use href="#p" x="532.5" y="546.7"/><use href="#p" x="705.9" y="614.9"/><use href="#p" x="703.7" y="562.1"/><use href="#p" x="671.4" y="642.5"/><use href="#p" x="655.3" y="596.5"/><use href="#p" x="589.2" y="644.0"/><use href="#p" x="662.4" y="631.7"/><use href="#p" x="712.5" y="648.4"/><use href="#p" x="702.8" y="581.6"/><use href="#p" x="654.5" y="639.0"/><use href="#p" x="592.1" y="660.4"/><use href="#p" x="734.8" y="551.8"/><use href="#p" x="712.0" y="646.3"/><use href="#p" x="631.7" y="668.2"/><use href="#p" x="683.6" y="620.2"/><use href="#p" x="563.3" y="546.9"/><use href="#p" x="767.0" y="622.1"/><use href="#p" x="645.7" y="639.8"/><use href="#p" x="633.5" y="667.1"/><use href="#p" x="617.6" y="662.9"/><use href="#p" x="565.4" y="625.3"/><use href="#p" x="590.8" y="578.1"/><use href="#p" x="677.9" y="603.1"/><use href="#p" x="629.3" y="661.4"/><use href="#p" x="641.0" y="658.8"/><use href="#p" x="653.6" y="659.9"/><use href="#p" x="604.0" y="661.1"/><use href="#p" x="587.3" y="656.7"/><use href="#p" x="663.9" y="630.0"/><use href="#p" x="667.0" y="656.4"/><use href="#p" x="582.8" y="615.5"/><use href="#p" x="644.9" y="657.8"/><use href="#p" x="637.7" y="663.4"/><use href="#p" x="609.0" y="651.3"/><use href="#p" x="666.3" y="597.1"/><use href="#p" x="668.6" y="645.4"/><use href="#p" x="702.2" y="552.9"/><use href="#p" x="591.9" y="648.7"/><use href="#p" x="680.3" y="612.2"/><use href="#p" x="711.8" y="591.4"/><use href="#p" x="496.7" y="563.4"/><use href="#p" x="759.7" y="587.3"/><use href="#p" x="606.1" y="658.4"/><use href="#p" x="685.2" y="611.4"/><use href="#p" x="617.4" y="658.0"/><use href="#p" x="646.1" y="659.7"/><use href="#p" x="672.7" y="611.7"/><use href="#p" x="673.1" y="651.9"/><use href="#p" x="577.4" y="638.7"/><use href="#p" x="666.3" y="650.4"/><use href="#p" x="764.8" y="567.5"/><use href="#p" x="490.9" y="615.1"/><use href="#p" x="662.0" y="622.4"/><use href="#p" x="749.9" y="601.9"/><use href="#p" x="618.5" y="657.4"/><use href="#p" x="785.5" y="523.7"/><use href="#p" x="625.9" y="662.3"/><use href="#p" x="575.9" y="644.6"/><use href="#p" x="557.5" y="596.3"/><use href="#p" x="639.6" y="664.4"/><use href="#p" x="637.3" y="662.3"/><use href="#p" x="634.5" y="665.5"/><use href="#p" x="681.1" y="619.9"/><use href="#p" x="661.4" y="649.3"/><use href="#p" x="635.0" y="665.7"/><use href="#p" x="686.4" y="645.7"/><use href="#p" x="555.6" y="629.9"/><use href="#p" x="634.8" y="660.3"/><use href="#p" x="671.6" y="644.6"/><use href="#p" x="556.4" y="614.1"/><use href="#p" x="627.0" y="659.8"/><use href="#p" x="899.6" y="525.4"/><use href="#p" x="680.8" y="582.5"/><use href="#p" x="596.2" y="651.4"/><use href="#p" x="781.8" y="608.4"/><use href="#p" x="662.8" y="646.1"/><use href="#p" x="754.4" y="621.6"/><use href="#p" x="683.0" y="614.5"/><use href="#p" x="728.1" y="597.7"/><use href="#p" x="598.3" y="658.9"/><use href="#p" x="613.7" y="660.2"/><use href="#p" x="602.2" y="661.7"/><use href="#p" x="660.1" y="652.1"/><use href="#p" x="655.8" y="663.1"/><use href="#p" x="567.5" y="645.2"/><use href="#p" x="708.1" y="598.2"/><use href="#p" x="761.6" y="543.8"/><use href="#p" x="668.6" y="660.7"/><use href="#p" x="473.7" y="564.4"/><use href="#p" x="668.6" y="654.9"/><use href="#p" x="682.9" y="651.3"/><use href="#p" x="668.4" y="597.2"/><use href="#p" x="513.2" y="569.8"/><use href="#p" x="548.0" y="548.3"/><use href="#p" x="710.9" y="597.1"/><use href="#p" x="570.3" y="634.4"/><use href="#p" x="577.5" y="631.4"/><use href="#p" x="502.6" y="562.1"/><use href="#p" x="639.8" y="628.3"/><use href="#p" x="622.4" y="649.4"/><use href="#p" x="518.2" y="561.7"/><use href="#p" x="635.3" y="659.6"/><use href="#p" x="594.9" y="654.4"/><use href="#p" x="623.5" y="665.7"/><use href="#p" x="546.5" y="616.8"/><use href="#p" x="687.2" y="622.0"/><use href="#p" x="600.3" y="637.5"/><use href="#p" x="623.4" y="664.4"/><use href="#p" x="683.6" y="588.3"/><use href="#p" x="631.0" y="667.9"/><use href="#p" x="630.9" y="667.9"/><use href="#p" x="482.3" y="593.5"/><use href="#p" x="478.1" y="559.4"/><use href="#p" x="691.8" y="647.4"/><use href="#p" x="551.8" y="651.8"/><use href="#p" x="689.7" y="520.0"/><use href="#p" x="656.8" y="663.0"/><use href="#p" x="677.1" y="648.8"/><use href="#p" x="588.6" y="652.0"/><use href="#p" x="705.6" y="586.8"/><use href="#p" x="664.6" y="614.4"/><use href="#p" x="563.2" y="627.6"/><use href="#p" x="506.5" y="570.3"/><use href="#p" x="768.0" y="578.0"/><use href="#p" x="781.4" y="598.5"/><use href="#p" x="624.6" y="665.9"/><use href="#p" x="641.0" y="666.1"/><use href="#p" x="440.5" y="592.3"/><use href="#p" x="572.8" y="594.8"/><use href="#p" x="711.8" y="600.6"/><use href="#p" x="736.1" y="607.7"/><use href="#p" x="554.5" y="635.4"/><use href="#p" x="599.1" y="645.2"/><use href="#p" x="682.4" y="632.1"/><use href="#p" x="525.6" y="587.3"/><use href="#p" x="622.6" y="665.8"/><use href="#p" x="541.2" y="595.2"/><use href="#p" x="662.0" y="647.4"/><use href="#p" x="598.0" y="611.5"/><use href="#p" x="540.5" y="529.5"/><use href="#p" x="707.9" y="651.5"/><use href="#p" x="674.9" y="622.1"/><use href="#p" x="533.4" y="617.8"/><use href="#p" x="750.7" y="520.1"/><use href="#p" x="527.1" y="585.0"/><use href="#p" x="635.5" y="665.0"/><use href="#p" x="591.2" y="645.3"/><use href="#p" x="583.5" y="620.4"/><use href="#p" x="701.7" y="598.0"/><use href="#p" x="456.2" y="579.3"/><use href="#p" x="633.8" y="667.4"/><use href="#p" x="691.8" y="550.4"/><use href="#p" x="581.9" y="615.9"/><use href="#p" x="553.2" y="614.1"/><use href="#p" x="472.9" y="609.4"/><use href="#p" x="558.8" y="574.5"/><use href="#p" x="591.3" y="619.9"/><use href="#p" x="639.2" y="666.6"/><use href="#p" x="487.0" y="629.4"/><use href="#p" x="527.8" y="635.8"/><use href="#p" x="781.6" y="522.5"/><use href="#p" x="516.5" y="539.5"/><use href="#p" x="651.1" y="656.4"/><use href="#p" x="701.3" y="641.2"/><use href="#p" x="688.9" y="624.5"/><use href="#p" x="552.0" y="642.4"/><use href="#p" x="523.4" y="643.2"/><use href="#p" x="720.7" y="549.7"/><use href="#p" x="701.3" y="594.0"/><use href="#p" x="657.9" y="649.0"/><use href="#p" x="647.9" y="614.2"/><use href="#p" x="660.7" y="652.4"/><use href="#p" x="657.4" y="660.2"/><use href="#p" x="583.8" y="609.4"/><use href="#p" x="606.9" y="616.3"/><use href="#p" x="682.3" y="495.2"/><use href="#p" x="492.1" y="548.3"/><use href="#p" x="693.8" y="614.3"/><use href="#p" x="674.2" y="656.5"/><use href="#p" x="629.5" y="666.4"/><use href="#p" x="704.5" y="541.8"/><use href="#p" x="794.2" y="561.7"/><use href="#p" x="641.7" y="665.2"/><use href="#p" x="488.4" y="601.2"/><use href="#p" x="738.2" y="588.5"/><use href="#p" x="690.7" y="652.4"/><use href="#p" x="638.8" y="661.8"/><use href="#p" x="543.9" y="620.5"/><use href="#p" x="673.2" y="615.4"/><use href="#p" x="425.0" y="566.0"/><use href="#p" x="683.8" y="586.3"/><use href="#p" x="480.0" y="584.3"/><use href="#p" x="628.8" y="666.5"/><use href="#p" x="636.7" y="651.8"/><use href="#p" x="524.6" y="624.4"/><use href="#p" x="700.7" y="637.8"/><use href="#p" x="527.5" y="599.3"/><use href="#p" x="562.1" y="649.7"/><use href="#p" x="719.7" y="589.4"/><use href="#p" x="580.2" y="608.4"/><use href="#p" x="801.6" y="502.7"/><use href="#p" x="783.8" y="531.6"/><use href="#p" x="672.0" y="597.7"/><use href="#p" x="627.2" y="665.8"/><use href="#p" x="622.4" y="663.2"/><use href="#p" x="632.7" y="667.9"/><use href="#p" x="780.4" y="624.1"/><use href="#p" x="589.8" y="633.6"/><use href="#p" x="614.2" y="657.5"/><use href="#p" x="644.6" y="657.6"/><use href="#p" x="618.4" y="657.2"/><use href="#p" x="618.7" y="663.0"/><use href="#p" x="538.6" y="632.0"/><use href="#p" x="691.6" y="649.5"/><use href="#p" x="701.6" y="610.5"/><use href="#p" x="507.2" y="620.8"/><use href="#p" x="664.6" y="622.0"/><use href="#p" x="546.4" y="624.6"/><use href="#p" x="574.9" y="599.3"/><use href="#p" x="757.6" y="608.6"/><use href="#p" x="569.1" y="624.9"/><use href="#p" x="633.9" y="667.8"/><use href="#p" x="748.0" y="572.0"/><use href="#p" x="663.5" y="608.7"/><use href="#p" x="607.9" y="644.7"/><use href="#p" x="593.7" y="602.0"/><use href="#p" x="886.6" y="533.5"/><use href="#p" x="721.6" y="616.3"/><use href="#p" x="619.3" y="665.1"/><use href="#p" x="454.4" y="496.7"/><use href="#p" x="745.8" y="555.6"/><use href="#p" x="506.0" y="523.4"/><use href="#p" x="716.4" y="558.8"/><use href="#p" x="585.3" y="639.2"/><use href="#p" x="639.6" y="658.2"/><use href="#p" x="647.3" y="648.8"/><use href="#p" x="623.0" y="660.6"/><use href="#p" x="614.4" y="640.9"/><use href="#p" x="641.2" y="640.7"/><use href="#p" x="784.5" y="600.7"/><use href="#p" x="664.0" y="638.5"/><use href="#p" x="451.7" y="530.2"/><use href="#p" x="584.8" y="577.7"/><use href="#p" x="487.2" y="610.0"/><use href="#p" x="597.7" y="639.5"/><use href="#p" x="567.3" y="555.5"/><use href="#p" x="635.1" y="667.1"/><use href="#p" x="626.0" y="664.4"/><use href="#p" x="761.0" y="571.0"/><use href="#p" x="639.8" y="643.7"/><use href="#p" x="658.8" y="617.6"/><use href="#p" x="558.5" y="645.9"/><use href="#p" x="636.7" y="666.9"/><use href="#p" x="436.3" y="514.6"/><use href="#p" x="641.4" y="662.5"/><use href="#p" x="559.4" y="635.2"/><use href="#p" x="713.5" y="647.3"/><use href="#p" x="672.8" y="597.6"/><use href="#p" x="608.2" y="654.1"/><use href="#p" x="579.6" y="603.7"/><use href="#p" x="624.7" y="664.2"/><use href="#p" x="630.0" y="667.1"/><use href="#p" x="487.8" y="620.6"/><use href="#p" x="734.8" y="561.4"/><use href="#p" x="627.3" y="663.6"/><use href="#p" x="538.6" y="619.8"/><use href="#p" x="630.4" y="667.9"/><use href="#p" x="666.1" y="645.1"/><use href="#p" x="677.6" y="598.3"/><use href="#p" x="713.1" y="629.0"/><use href="#p" x="613.1" y="597.9"/><use href="#p" x="535.1" y="622.0"/><use href="#p" x="716.4" y="602.9"/><use href="#p" x="623.1" y="631.4"/><use href="#p" x="695.8" y="519.3"/><use href="#p" x="545.2" y="628.4"/><use href="#p" x="796.3" y="506.3"/><use href="#p" x="715.7" y="647.4"/><use href="#p" x="674.6" y="646.5"/><use href="#p" x="619.4" y="658.7"/><use href="#p" x="707.4" y="620.9"/><use href="#p" x="645.8" y="644.8"/><use href="#p" x="687.2" y="628.7"/><use href="#p" x="592.1" y="660.1"/><use href="#p" x="623.3" y="661.7"/><use href="#p" x="607.5" y="660.7"/><use href="#p" x="666.1" y="653.9"/><use href="#p" x="585.9" y="658.7"/><use href="#p" x="622.5" y="647.8"/><use href="#p" x="696.0" y="649.7"/><use href="#p" x="655.1" y="655.8"/><use href="#p" x="521.6" y="583.8"/><use href="#p" x="567.2" y="645.7"/><use href="#p" x="656.2" y="643.3"/><use href="#p" x="499.5" y="602.6"/><use href="#p" x="635.8" y="665.9"/><use href="#p" x="630.1" y="667.2"/><use href="#p" x="630.0" y="666.7"/><use href="#p" x="711.7" y="601.5"/><use href="#p" x="798.4" y="602.8"/><use href="#p" x="572.0" y="639.0"/><use href="#p" x="652.8" y="656.9"/><use href="#p" x="691.6" y="633.8"/><use href="#p" x="679.0" y="495.9"/><use href="#p" x="631.1" y="668.0"/><use href="#p" x="680.0" y="638.1"/><use href="#p" x="757.3" y="547.0"/><use href="#p" x="695.5" y="560.1"/><use href="#p" x="707.4" y="602.1"/><use href="#p" x="660.9" y="642.4"/><use href="#p" x="632.9" y="667.4"/><use href="#p" x="653.9" y="638.6"/><use href="#p" x="713.6" y="610.4"/><use href="#p" x="728.1" y="629.1"/><use href="#p" x="519.8" y="627.4"/><use href="#p" x="726.8" y="559.8"/><use href="#p" x="542.2" y="625.8"/><use href="#p" x="672.8" y="617.9"/><use href="#p" x="687.0" y="602.6"/><use href="#p" x="637.9" y="662.5"/><use href="#p" x="640.1" y="647.0"/><use href="#p" x="738.6" y="614.6"/><use href="#p" x="680.3" y="584.9"/><use href="#p" x="664.7" y="617.2"/><use href="#p" x="503.6" y="549.3"/><use href="#p" x="682.8" y="632.9"/><use href="#p" x="653.6" y="651.3"/><use href="#p" x="472.7" y="602.7"/><use href="#p" x="714.9" y="584.0"/><use href="#p" x="686.4" y="514.5"/><use href="#p" x="597.6" y="639.1"/><use href="#p" x="603.9" y="643.4"/><use href="#p" x="556.7" y="614.8"/><use href="#p" x="583.2" y="626.3"/><use href="#p" x="652.8" y="635.5"/><use href="#p" x="693.1" y="647.6"/><use href="#p" x="621.0" y="656.4"/><use href="#p" x="628.1" y="667.4"/><use href="#p" x="734.1" y="613.6"/><use href="#p" x="655.9" y="600.0"/><use href="#p" x="590.7" y="641.7"/><use href="#p" x="635.0" y="667.5"/><use href="#p" x="666.2" y="622.9"/><use href="#p" x="758.5" y="586.2"/><use href="#p" x="602.0" y="620.1"/><use href="#p" x="572.8" y="650.5"/><use href="#p" x="742.3" y="562.6"/><use href="#p" x="441.7" y="503.1"/><use href="#p" x="642.1" y="660.0"/><use href="#p" x="719.6" y="587.7"/><use href="#p" x="496.7" y="559.8"/><use href="#p" x="638.8" y="664.0"/><use href="#p" x="572.8" y="599.8"/><use href="#p" x="727.3" y="586.7"/><use href="#p" x="735.1" y="566.9"/><use href="#p" x="592.9" y="598.3"/><use href="#p" x="582.1" y="618.3"/><use href="#p" x="672.0" y="625.0"/><use href="#p" x="701.6" y="612.4"/><use href="#p" x="671.6" y="626.3"/><use href="#p" x="594.4" y="628.3"/><use href="#p" x="623.4" y="664.9"/><use href="#p" x="637.0" y="650.8"/><use href="#p" x="591.5" y="595.4"/><use href="#p" x="608.2" y="663.0"/><use href="#p" x="564.4" y="645.1"/><use href="#p" x="801.0" y="593.8"/><use href="#p" x="612.2" y="652.8"/><use href="#p" x="569.9" y="638.2"/><use href="#p" x="690.4" y="631.8"/><use href="#p" x="734.4" y="614.4"/><use href="#p" x="696.2" y="609.5"/><use href="#p" x="702.2" y="621.0"/><use href="#p" x="648.9" y="647.7"/><use href="#p" x="655.4" y="639.8"/><use href="#p" x="474.0" y="628.5"/><use href="#p" x="561.8" y="645.3"/><use href="#p" x="693.1" y="604.6"/><use href="#p" x="515.6" y="607.3"/><use href="#p" x="618.7" y="656.6"/><use href="#p" x="615.6" y="645.3"/><use href="#p" x="581.0" y="633.2"/><use href="#p" x="554.6" y="534.2"/><use href="#p" x="549.5" y="634.5"/><use href="#p" x="658.6" y="608.0"/><use href="#p" x="668.2" y="586.2"/><use href="#p" x="607.7" y="658.2"/><use href="#p" x="497.2" y="500.6"/><use href="#p" x="420.8" y="563.0"/><use href="#p" x="620.9" y="656.4"/><use href="#p" x="620.1" y="665.6"/><use href="#p" x="629.3" y="667.2"/><use href="#p" x="627.4" y="654.1"/><use href="#p" x="655.7" y="656.9"/><use href="#p" x="514.9" y="536.0"/><use href="#p" x="553.1" y="595.2"/><use href="#p" x="559.9" y="650.6"/><use href="#p" x="660.4" y="640.6"/><use href="#p" x="699.4" y="614.7"/><use href="#p" x="487.6" y="627.1"/><use href="#p" x="675.3" y="602.1"/><use href="#p" x="571.8" y="619.3"/><use href="#p" x="684.4" y="647.4"/><use href="#p" x="673.5" y="639.1"/><use href="#p" x="552.9" y="624.9"/><use href="#p" x="595.4" y="636.2"/><use href="#p" x="636.4" y="664.9"/><use href="#p" x="557.0" y="615.4"/><use href="#p" x="602.1" y="640.0"/><use href="#p" x="596.7" y="648.6"/><use href="#p" x="693.5" y="609.2"/><use href="#p" x="456.1" y="506.5"/><use href="#p" x="532.7" y="641.2"/><use href="#p" x="500.1" y="576.5"/><use href="#p" x="689.5" y="522.4"/><use href="#p" x="666.5" y="626.7"/><use href="#p" x="532.0" y="646.9"/><use href="#p" x="619.7" y="661.6"/><use href="#p" x="742.5" y="542.6"/><use href="#p" x="678.6" y="625.9"/><use href="#p" x="593.8" y="644.0"/><use href="#p" x="597.6" y="588.4"/><use href="#p" x="496.7" y="534.3"/><use href="#p" x="849.2" y="518.1"/><use href="#p" x="710.1" y="603.7"/><use href="#p" x="598.5" y="657.3"/><use href="#p" x="593.3" y="634.9"/><use href="#p" x="559.7" y="652.1"/><use href="#p" x="622.1" y="662.6"/><use href="#p" x="678.4" y="589.5"/><use href="#p" x="566.4" y="627.4"/><use href="#p" x="685.8" y="647.0"/><use href="#p" x="631.5" y="668.0"/><use href="#p" x="565.3" y="632.0"/><use href="#p" x="752.1" y="638.8"/><use href="#p" x="693.3" y="639.9"/><use href="#p" x="587.7" y="599.7"/><use href="#p" x="475.0" y="617.5"/><use href="#p" x="652.5" y="662.7"/><use href="#p" x="769.8" y="613.1"/><use href="#p" x="538.3" y="628.5"/><use href="#p" x="583.6" y="644.0"/><use href="#p" x="660.5" y="628.4"/><use href="#p" x="606.5" y="616.5"/><use href="#p" x="588.2" y="654.4"/><use href="#p" x="677.0" y="575.2"/><use href="#p" x="483.7" y="576.3"/><use href="#p" x="681.4" y="607.2"/><use href="#p" x="598.4" y="656.9"/><use href="#p" x="775.6" y="604.9"/><use href="#p" x="769.3" y="607.3"/><use href="#p" x="658.1" y="662.6"/><use href="#p" x="612.9" y="662.9"/><use href="#p" x="690.9" y="640.5"/><use href="#p" x="628.5" y="666.8"/><use href="#p" x="614.5" y="658.4"/><use href="#p" x="473.9" y="503.3"/><use href="#p" x="812.6" y="566.6"/><use href="#p" x="737.8" y="526.5"/><use href="#p" x="577.2" y="619.3"/><use href="#p" x="531.3" y="600.0"/><use href="#p" x="554.2" y="605.1"/><use href="#p" x="701.2" y="630.1"/><use href="#p" x="615.7" y="595.6"/><use href="#p" x="533.0" y="640.1"/><use href="#p" x="633.3" y="667.2"/><use href="#p" x="740.1" y="580.9"/><use href="#p" x="653.4" y="651.9"/><use href="#p" x="577.6" y="657.5"/><use href="#p" x="686.9" y="626.5"/><use href="#p" x="674.2" y="532.2"/><use href="#p" x="616.5" y="664.9"/><use href="#p" x="547.6" y="625.1"/><use href="#p" x="422.8" y="525.8"/><use href="#p" x="641.2" y="657.7"/><use href="#p" x="579.3" y="640.8"/><use href="#p" x="636.5" y="653.2"/><use href="#p" x="494.3" y="594.9"/><use href="#p" x="624.5" y="666.1"/><use href="#p" x="567.6" y="621.4"/><use href="#p" x="772.2" y="573.1"/><use href="#p" x="782.4" y="629.0"/><use href="#p" x="506.0" y="638.7"/><use href="#p" x="411.0" y="560.5"/><use href="#p" x="600.2" y="642.1"/><use href="#p" x="724.6" y="622.1"/><use href="#p" x="568.3" y="551.9"/><use href="#p" x="656.9" y="602.0"/><use href="#p" x="730.7" y="605.7"/><use href="#p" x="510.4" y="571.9"/><use href="#p" x="585.9" y="641.2"/><use href="#p" x="629.1" y="667.5"/><use href="#p" x="510.9" y="623.4"/><use href="#p" x="809.0" y="494.7"/><use href="#p" x="420.0" y="597.5"/><use href="#p" x="663.1" y="603.4"/><use href="#p" x="534.2" y="642.6"/><use href="#p" x="543.4" y="646.4"/><use href="#p" x="506.0" y="636.5"/><use href="#p" x="584.6" y="612.5"/><use href="#p" x="673.8" y="626.3"/><use href="#p" x="651.1" y="661.6"/><use href="#p" x="638.9" y="648.2"/><use href="#p" x="724.2" y="530.1"/><use href="#p" x="556.2" y="641.1"/><use href="#p" x="626.5" y="647.6"/><use href="#p" x="622.6" y="661.8"/><use href="#p" x="700.6" y="579.9"/><use href="#p" x="644.9" y="659.1"/><use href="#p" x="678.1" y="634.2"/><use href="#p" x="734.1" y="623.9"/><use href="#p" x="518.4" y="528.9"/><use href="#p" x="685.0" y="619.0"/><use href="#p" x="619.6" y="664.7"/><use href="#p" x="616.1" y="652.6"/><use href="#p" x="566.1" y="653.9"/><use href="#p" x="707.7" y="560.4"/><use href="#p" x="547.6" y="610.8"/><use href="#p" x="506.9" y="510.4"/><use href="#p" x="702.5" y="585.3"/><use href="#p" x="666.1" y="650.2"/><use href="#p" x="541.2" y="634.6"/><use href="#p" x="584.0" y="562.6"/><use href="#p" x="653.1" y="661.4"/><use href="#p" x="738.7" y="498.3"/><use href="#p" x="704.5" y="612.1"/><use href="#p" x="670.0" y="611.4"/><use href="#p" x="642.6" y="665.6"/><use href="#p" x="695.9" y="556.2"/><use href="#p" x="586.6" y="571.1"/><use href="#p" x="743.9" y="582.1"/><use href="#p" x="689.7" y="645.4"/><use href="#p" x="632.6" y="668.0"/><use href="#p" x="714.3" y="602.3"/><use href="#p" x="690.1" y="621.1"/><use href="#p" x="664.8" y="625.9"/><use href="#p" x="683.0" y="619.4"/><use href="#p" x="761.3" y="588.9"/><use href="#p" x="581.6" y="651.6"/><use href="#p" x="680.8" y="640.6"/><use href="#p" x="591.8" y="644.0"/><use href="#p" x="737.1" y="602.4"/><use href="#p" x="606.1" y="652.9"/><use href="#p" x="702.3" y="625.9"/><use href="#p" x="680.2" y="587.5"/><use href="#p" x="524.7" y="630.5"/><use href="#p" x="566.1" y="620.2"/><use href="#p" x="674.3" y="608.7"/><use href="#p" x="660.0" y="662.4"/><use href="#p" x="677.3" y="625.1"/><use href="#p" x="668.5" y="590.6"/><use href="#p" x="612.8" y="648.9"/><use href="#p" x="589.9" y="652.5"/><use href="#p" x="676.6" y="591.1"/><use href="#p" x="713.8" y="610.8"/><use href="#p" x="676.1" y="620.4"/><use href="#p" x="538.4" y="581.4"/><use href="#p" x="611.5" y="641.2"/><use href="#p" x="688.0" y="582.4"/><use href="#p" x="747.3" y="493.7"/><use href="#p" x="708.5" y="594.4"/><use href="#p" x="738.8" y="643.1"/><use href="#p" x="701.7" y="589.9"/><use href="#p" x="564.4" y="631.7"/><use href="#p" x="500.1" y="570.9"/><use href="#p" x="759.5" y="614.8"/><use href="#p" x="600.5" y="643.4"/><use href="#p" x="654.1" y="652.1"/><use href="#p" x="588.5" y="647.8"/><use href="#p" x="539.6" y="604.5"/><use href="#p" x="565.5" y="628.1"/><use href="#p" x="675.9" y="637.1"/><use href="#p" x="573.8" y="655.8"/><use href="#p" x="667.8" y="625.2"/><use href="#p" x="679.2" y="654.6"/><use href="#p" x="740.8" y="553.2"/><use href="#p" x="581.9" y="624.6"/><use href="#p" x="648.0" y="663.7"/><use href="#p" x="651.5" y="663.4"/><use href="#p" x="466.8" y="542.0"/><use href="#p" x="653.6" y="639.5"/><use href="#p" x="635.9" y="666.7"/><use href="#p" x="707.2" y="620.1"/><use href="#p" x="574.1" y="624.2"/><use href="#p" x="563.9" y="555.9"/><use href="#p" x="622.6" y="659.5"/><use href="#p" x="673.6" y="625.9"/><use href="#p" x="546.6" y="623.7"/><use href="#p" x="702.1" y="631.0"/><use href="#p" x="663.2" y="657.9"/><use href="#p" x="698.0" y="567.6"/><use href="#p" x="607.2" y="626.2"/><use href="#p" x="593.5" y="658.8"/><use href="#p" x="525.7" y="632.1"/><use href="#p" x="584.3" y="657.5"/><use href="#p" x="773.6" y="522.1"/><use href="#p" x="588.2" y="616.5"/><use href="#p" x="581.5" y="613.5"/><use href="#p" x="455.8" y="601.9"/><use href="#p" x="635.8" y="654.3"/><use href="#p" x="673.9" y="646.4"/><use href="#p" x="490.0" y="622.2"/><use href="#p" x="595.0" y="648.6"/><use href="#p" x="553.8" y="577.0"/><use href="#p" x="641.8" y="663.4"/><use href="#p" x="600.2" y="611.6"/><use href="#p" x="586.4" y="617.7"/><use href="#p" x="633.9" y="666.7"/><use href="#p" x="646.8" y="662.7"/><use href="#p" x="632.5" y="667.5"/><use href="#p" x="641.9" y="612.4"/><use href="#p" x="776.4" y="508.6"/><use href="#p" x="531.9" y="639.0"/><use href="#p" x="710.6" y="580.5"/><use href="#p" x="646.5" y="655.0"/><use href="#p" x="531.5" y="538.5"/><use href="#p" x="658.7" y="658.7"/><use href="#p" x="635.2" y="666.2"/><use href="#p" x="665.8" y="658.7"/><use href="#p" x="603.9" y="638.4"/><use href="#p" x="661.2" y="657.0"/><use href="#p" x="536.0" y="632.5"/><use href="#p" x="690.8" y="591.1"/><use href="#p" x="592.8" y="619.2"/><use href="#p" x="448.8" y="550.6"/><use href="#p" x="581.0" y="631.1"/><use href="#p" x="631.5" y="667.9"/><use href="#p" x="494.9" y="525.8"/><use href="#p" x="626.4" y="646.2"/><use href="#p" x="525.3" y="599.3"/><use href="#p" x="722.1" y="558.5"/><use href="#p" x="704.8" y="628.6"/><use href="#p" x="596.8" y="638.4"/><use href="#p" x="561.6" y="634.6"/><use href="#p" x="705.4" y="631.3"/><use href="#p" x="666.8" y="660.8"/><use href="#p" x="429.5" y="523.2"/><use href="#p" x="572.4" y="606.6"/><use href="#p" x="444.9" y="534.3"/><use href="#p" x="648.2" y="652.3"/><use href="#p" x="675.9" y="653.7"/><use href="#p" x="621.4" y="657.7"/><use href="#p" x="574.7" y="647.0"/><use href="#p" x="575.4" y="631.6"/><use href="#p" x="693.0" y="597.8"/><use href="#p" x="773.6" y="505.7"/><use href="#p" x="570.0" y="620.7"/><use href="#p" x="605.2" y="638.5"/><use href="#p" x="657.0" y="645.5"/><use href="#p" x="714.9" y="597.3"/><use href="#p" x="700.9" y="625.0"/><use href="#p" x="495.5" y="620.8"/><use href="#p" x="664.6" y="657.1"/><use href="#p" x="686.6" y="613.4"/><use href="#p" x="623.9" y="659.1"/><use href="#p" x="633.3" y="667.7"/><use href="#p" x="589.9" y="633.2"/><use href="#p" x="604.0" y="653.2"/><use href="#p" x="625.1" y="663.6"/><use href="#p" x="730.4" y="615.9"/><use href="#p" x="482.6" y="630.1"/><use href="#p" x="612.9" y="662.2"/><use href="#p" x="688.6" y="614.8"/><use href="#p" x="574.5" y="511.4"/><use href="#p" x="617.2" y="662.4"/><use href="#p" x="689.1" y="630.5"/><use href="#p" x="454.1" y="601.2"/><use href="#p" x="695.8" y="626.8"/><use href="#p" x="694.1" y="585.6"/><use href="#p" x="682.1" y="600.6"/><use href="#p" x="616.2" y="662.5"/><use href="#p" x="601.2" y="597.3"/><use href="#p" x="570.1" y="649.0"/><use href="#p" x="699.5" y="526.8"/><use href="#p" x="589.1" y="602.0"/><use href="#p" x="668.3" y="632.0"/><use href="#p" x="625.9" y="663.9"/><use href="#p" x="653.0" y="663.6"/><use href="#p" x="596.4" y="660.4"/><use href="#p" x="618.9" y="647.0"/><use href="#p" x="629.4" y="667.2"/><use href="#p" x="689.0" y="612.3"/><use href="#p" x="588.2" y="659.1"/><use href="#p" x="728.1" y="587.1"/><use href="#p" x="575.8" y="599.6"/><use href="#p" x="669.3" y="652.4"/><use href="#p" x="656.5" y="648.5"/><use href="#p" x="497.9" y="499.3"/><use href="#p" x="607.5" y="657.7"/><use href="#p" x="518.5" y="623.4"/><use href="#p" x="402.5" y="506.5"/><use href="#p" x="703.3" y="625.3"/><use href="#p" x="547.6" y="605.9"/><use href="#p" x="595.0" y="642.1"/><use href="#p" x="647.7" y="623.3"/><use href="#p" x="567.4" y="639.0"/><use href="#p" x="558.7" y="631.5"/><use href="#p" x="648.9" y="617.5"/><use href="#p" x="679.7" y="578.9"/><use href="#p" x="685.6" y="644.8"/><use href="#p" x="588.0" y="649.3"/><use href="#p" x="543.3" y="597.5"/><use href="#p" x="733.1" y="571.7"/><use href="#p" x="660.2" y="649.5"/><use href="#p" x="646.4" y="595.3"/><use href="#p" x="407.5" y="566.5"/><use href="#p" x="606.1" y="647.3"/><use href="#p" x="658.1" y="654.9"/><use href="#p" x="727.6" y="644.3"/><use href="#p" x="827.5" y="556.4"/><use href="#p" x="560.6" y="605.2"/><use href="#p" x="644.6" y="657.6"/><use href="#p" x="782.3" y="611.8"/><use href="#p" x="646.5" y="663.2"/><use href="#p" x="559.4" y="647.5"/><use href="#p" x="493.7" y="554.5"/><use href="#p" x="626.7" y="655.8"/><use href="#p" x="465.7" y="555.7"/><use href="#p" x="712.3" y="644.5"/><use href="#p" x="539.1" y="601.3"/><use href="#p" x="634.1" y="660.1"/><use href="#p" x="652.1" y="658.4"/><use href="#p" x="550.1" y="564.3"/><use href="#p" x="642.8" y="653.6"/><use href="#p" x="683.1" y="623.2"/><use href="#p" x="591.6" y="651.9"/><use href="#p" x="753.7" y="634.2"/><use href="#p" x="536.6" y="522.5"/><use href="#p" x="610.6" y="656.3"/><use href="#p" x="716.7" y="582.1"/><use href="#p" x="560.6" y="616.1"/><use href="#p" x="626.7" y="666.7"/><use href="#p" x="711.4" y="637.1"/><use href="#p" x="776.9" y="581.5"/><use href="#p" x="695.3" y="652.5"/><use href="#p" x="604.9" y="640.4"/><use href="#p" x="577.8" y="643.4"/><use href="#p" x="643.3" y="659.7"/><use href="#p" x="736.6" y="494.7"/><use href="#p" x="664.4" y="653.4"/><use href="#p" x="660.6" y="648.7"/><use href="#p" x="577.3" y="644.8"/><use href="#p" x="645.0" y="635.4"/><use href="#p" x="570.0" y="648.6"/><use href="#p" x="576.8" y="587.1"/><use href="#p" x="651.8" y="659.9"/><use href="#p" x="681.9" y="647.1"/><use href="#p" x="698.8" y="596.8"/><use href="#p" x="587.4" y="637.6"/><use href="#p" x="599.4" y="655.6"/><use href="#p" x="591.1" y="582.7"/><use href="#p" x="555.8" y="639.0"/><use href="#p" x="708.6" y="635.3"/><use href="#p" x="684.3" y="570.4"/><use href="#p" x="590.9" y="602.8"/><use href="#p" x="606.5" y="658.3"/><use href="#p" x="686.1" y="645.4"/><use href="#p" x="646.2" y="652.4"/><use href="#p" x="670.9" y="646.1"/><use href="#p" x="589.6" y="657.9"/><use href="#p" x="736.0" y="586.6"/><use href="#p" x="597.7" y="640.3"/><use href="#p" x="477.3" y="619.0"/><use href="#p" x="515.7" y="618.2"/><use href="#p" x="691.9" y="651.0"/><use href="#p" x="630.6" y="664.9"/><use href="#p" x="498.6" y="531.7"/><use href="#p" x="866.3" y="575.6"/><use href="#p" x="721.2" y="632.6"/><use href="#p" x="560.5" y="593.8"/><use href="#p" x="646.8" y="659.7"/><use href="#p" x="507.4" y="605.2"/><use href="#p" x="668.0" y="652.7"/><use href="#p" x="641.9" y="665.0"/><use href="#p" x="667.6" y="608.1"/><use href="#p" x="633.9" y="663.1"/><use href="#p" x="724.7" y="574.9"/><use href="#p" x="797.4" y="562.8"/><use href="#p" x="547.3" y="530.3"/><use href="#p" x="611.2" y="649.8"/><use href="#p" x="502.6" y="619.7"/><use href="#p" x="673.6" y="572.3"/><use href="#p" x="600.2" y="643.6"/><use href="#p" x="615.7" y="650.5"/><use href="#p" x="505.1" y="582.8"/><use href="#p" x="476.3" y="560.8"/><use href="#p" x="576.7" y="652.7"/><use href="#p" x="586.8" y="637.9"/><use href="#p" x="659.1" y="647.5"/><use href="#p" x="598.4" y="652.9"/><use href="#p" x="651.3" y="662.4"/><use href="#p" x="647.6" y="658.8"/><use href="#p" x="726.6" y="586.6"/><use href="#p" x="648.4" y="636.0"/><use href="#p" x="727.8" y="639.1"/><use href="#p" x="598.1" y="647.4"/><use href="#p" x="621.7" y="630.0"/><use href="#p" x="536.9" y="591.6"/><use href="#p" x="622.2" y="663.6"/><use href="#p" x="686.5" y="633.7"/><use href="#p" x="619.0" y="652.6"/><use href="#p" x="613.3" y="662.4"/><use href="#p" x="647.1" y="662.5"/><use href="#p" x="492.9" y="624.8"/><use href="#p" x="602.2" y="659.6"/><use href="#p" x="613.7" y="639.7"/><use href="#p" x="630.4" y="667.6"/><use href="#p" x="490.8" y="533.2"/><use href="#p" x="586.8" y="632.0"/><use href="#p" x="619.7" y="662.0"/><use href="#p" x="731.3" y="569.9"/><use href="#p" x="694.2" y="648.0"/><use href="#p" x="738.7" y="544.1"/><use href="#p" x="608.2" y="624.1"/><use href="#p" x="684.7" y="594.4"/><use href="#p" x="549.2" y="515.8"/><use href="#p" x="574.6" y="631.7"/><use href="#p" x="556.4" y="532.7"/><use href="#p" x="483.9" y="631.4"/><use href="#p" x="530.3" y="645.3"/><use href="#p" x="587.9" y="612.6"/><use href="#p" x="668.4" y="643.4"/><use href="#p" x="732.4" y="598.8"/><use href="#p" x="510.1" y="632.1"/><use href="#p" x="601.1" y="645.3"/><use href="#p" x="656.0" y="616.8"/><use href="#p" x="543.0" y="610.7"/><use href="#p" x="592.8" y="633.2"/><use href="#p" x="539.3" y="598.0"/><use href="#p" x="542.7" y="649.0"/><use href="#p" x="640.5" y="647.5"/><use href="#p" x="585.8" y="653.1"/><use href="#p" x="595.1" y="642.1"/><use href="#p" x="781.2" y="523.7"/><use href="#p" x="637.1" y="665.2"/><use href="#p" x="714.0" y="517.7"/><use href="#p" x="540.6" y="614.9"/><use href="#p" x="700.0" y="650.9"/><use href="#p" x="548.8" y="608.5"/><use href="#p" x="625.3" y="661.4"/><use href="#p" x="514.2" y="564.5"/><use href="#p" x="602.0" y="639.2"/><use href="#p" x="673.3" y="652.3"/><use href="#p" x="520.5" y="620.7"/><use href="#p" x="513.3" y="589.9"/><use href="#p" x="504.9" y="558.0"/><use href="#p" x="654.9" y="652.3"/><use href="#p" x="674.9" y="621.6"/><use href="#p" x="514.2" y="606.0"/><use href="#p" x="635.4" y="665.8"/><use href="#p" x="632.6" y="668.0"/><use href="#p" x="668.2" y="647.3"/><use href="#p" x="726.0" y="614.7"/><use href="#p" x="551.8" y="584.9"/><use href="#p" x="571.5" y="633.2"/><use href="#p" x="612.9" y="658.1"/><use href="#p" x="466.3" y="507.5"/><use href="#p" x="675.5" y="616.8"/><use href="#p" x="593.2" y="649.3"/><use href="#p" x="484.3" y="541.2"/><use href="#p" x="655.2" y="622.6"/><use href="#p" x="676.9" y="638.5"/><use href="#p" x="653.0" y="661.5"/><use href="#p" x="621.6" y="656.1"/><use href="#p" x="736.9" y="591.0"/><use href="#p" x="642.1" y="661.7"/><use href="#p" x="606.1" y="655.3"/><use href="#p" x="516.3" y="529.5"/><use href="#p" x="681.4" y="611.8"/><use href="#p" x="599.2" y="617.8"/><use href="#p" x="686.7" y="615.4"/><use href="#p" x="620.0" y="664.2"/><use href="#p" x="525.6" y="547.1"/><use href="#p" x="428.5" y="531.5"/><use href="#p" x="445.1" y="512.0"/><use href="#p" x="759.3" y="579.2"/><use href="#p" x="616.2" y="664.5"/><use href="#p" x="733.5" y="522.6"/><use href="#p" x="724.9" y="617.6"/><use href="#p" x="545.0" y="589.4"/><use href="#p" x="641.5" y="662.9"/><use href="#p" x="663.4" y="593.3"/><use href="#p" x="607.9" y="662.8"/><use href="#p" x="531.0" y="536.7"/><use href="#p" x="609.4" y="663.9"/><use href="#p" x="646.0" y="649.1"/><use href="#p" x="586.3" y="657.6"/><use href="#p" x="574.9" y="620.6"/><use href="#p" x="626.0" y="665.3"/><use href="#p" x="565.5" y="618.4"/><use href="#p" x="524.6" y="570.5"/><use href="#p" x="664.9" y="646.0"/><use href="#p" x="590.7" y="651.6"/><use href="#p" x="653.6" y="629.2"/><use href="#p" x="665.6" y="654.3"/><use href="#p" x="604.6" y="628.0"/><use href="#p" x="551.0" y="638.6"/><use href="#p" x="425.4" y="566.4"/><use href="#p" x="602.8" y="636.7"/><use href="#p" x="580.7" y="620.5"/><use href="#p" x="547.0" y="631.8"/><use href="#p" x="657.6" y="621.0"/><use href="#p" x="739.7" y="605.9"/><use href="#p" x="682.1" y="650.4"/><use href="#p" x="722.7" y="592.2"/><use href="#p" x="674.0" y="599.4"/><use href="#p" x="635.4" y="665.8"/><use href="#p" x="694.4" y="640.6"/><use href="#p" x="660.6" y="658.7"/><use href="#p" x="609.4" y="613.7"/><use href="#p" x="675.9" y="637.6"/><use href="#p" x="687.9" y="608.1"/><use href="#p" x="592.3" y="648.4"/><use href="#p" x="639.1" y="645.4"/><use href="#p" x="701.0" y="596.6"/><use href="#p" x="763.4" y="553.4"/><use href="#p" x="693.5" y="612.4"/><use href="#p" x="649.6" y="648.4"/><use href="#p" x="738.6" y="584.4"/><use href="#p" x="500.7" y="497.8"/><use href="#p" x="669.1" y="609.2"/><use href="#p" x="607.6" y="658.5"/><use href="#p" x="480.0" y="605.6"/><use href="#p" x="429.5" y="535.0"/><use href="#p" x="800.5" y="526.3"/><use href="#p" x="662.4" y="607.6"/><use href="#p" x="703.3" y="651.4"/><use href="#p" x="653.7" y="650.9"/><use href="#p" x="641.9" y="653.0"/><use href="#p" x="527.3" y="586.3"/><use href="#p" x="761.5" y="632.7"/><use href="#p" x="584.8" y="637.3"/><use href="#p" x="497.9" y="556.1"/><use href="#p" x="632.7" y="668.0"/><use href="#p" x="597.8" y="631.9"/><use href="#p" x="594.9" y="659.1"/><use href="#p" x="576.3" y="654.4"/><use href="#p" x="499.0" y="627.0"/><use href="#p" x="678.9" y="645.3"/><use href="#p" x="664.3" y="658.9"/><use href="#p" x="588.6" y="648.8"/><use href="#p" x="710.1" y="577.5"/><use href="#p" x="571.9" y="564.9"/><use href="#p" x="693.1" y="607.1"/><use href="#p" x="615.0" y="611.1"/><use href="#p" x="508.2" y="558.9"/><use href="#p" x="497.2" y="559.6"/><use href="#p" x="820.1" y="576.5"/><use href="#p" x="656.6" y="652.6"/><use href="#p" x="716.7" y="559.7"/><use href="#p" x="677.1" y="609.6"/><use href="#p" x="608.2" y="640.6"/><use href="#p" x="722.1" y="618.4"/><use href="#p" x="569.3" y="647.8"/><use href="#p" x="543.1" y="602.5"/><use href="#p" x="636.1" y="651.6"/><use href="#p" x="537.7" y="616.0"/><use href="#p" x="596.4" y="605.4"/><use href="#p" x="692.8" y="646.4"/><use href="#p" x="639.1" y="658.0"/><use href="#p" x="617.6" y="663.3"/><use href="#p" x="515.7" y="593.0"/><use href="#p" x="637.9" y="664.4"/><use href="#p" x="444.0" y="564.5"/><use href="#p" x="664.0" y="629.3"/><use href="#p" x="520.4" y="585.9"/><use href="#p" x="741.1" y="599.7"/><use href="#p" x="671.7" y="636.6"/><use href="#p" x="778.6" y="484.5"/><use href="#p" x="607.1" y="659.6"/><use href="#p" x="648.6" y="653.6"/><use href="#p" x="578.7" y="625.0"/><use href="#p" x="668.2" y="650.1"/><use href="#p" x="628.4" y="667.0"/><use href="#p" x="680.5" y="603.7"/><use href="#p" x="673.5" y="628.1"/><use href="#p" x="663.6" y="629.0"/><use href="#p" x="682.5" y="589.6"/><use href="#p" x="698.1" y="613.4"/><use href="#p" x="682.4" y="599.7"/><use href="#p" x="699.7" y="640.5"/><use href="#p" x="711.6" y="517.8"/><use href="#p" x="645.2" y="656.3"/><use href="#p" x="582.9" y="610.9"/><use href="#p" x="625.5" y="664.2"/><use href="#p" x="659.9" y="615.7"/><use href="#p" x="718.8" y="575.2"/><use href="#p" x="603.0" y="614.0"/><use href="#p" x="591.4" y="656.0"/><use href="#p" x="657.8" y="645.7"/><use href="#p" x="565.8" y="607.2"/><use href="#p" x="678.3" y="630.5"/><use href="#p" x="599.0" y="657.2"/><use href="#p" x="559.8" y="542.1"/><use href="#p" x="653.6" y="657.9"/><use href="#p" x="672.7" y="600.8"/><use href="#p" x="557.6" y="578.2"/><use href="#p" x="684.7" y="601.5"/><use href="#p" x="655.3" y="647.8"/><use href="#p" x="589.8" y="625.9"/><use href="#p" x="636.5" y="655.9"/><use href="#p" x="533.9" y="638.0"/><use href="#p" x="613.8" y="659.7"/><use href="#p" x="464.7" y="618.7"/><use href="#p" x="435.3" y="514.6"/><use href="#p" x="705.6" y="638.5"/><use href="#p" x="621.4" y="660.0"/><use href="#p" x="649.4" y="665.0"/><use href="#p" x="586.3" y="639.2"/><use href="#p" x="658.3" y="637.3"/><use href="#p" x="507.7" y="587.3"/><use href="#p" x="600.1" y="631.2"/><use href="#p" x="576.4" y="623.4"/><use href="#p" x="681.9" y="593.2"/><use href="#p" x="543.9" y="568.5"/><use href="#p" x="573.3" y="651.7"/><use href="#p" x="627.4" y="663.9"/><use href="#p" x="602.9" y="633.4"/><use href="#p" x="593.5" y="660.2"/><use href="#p" x="639.9" y="664.8"/><use href="#p" x="675.1" y="620.3"/><use href="#p" x="560.1" y="653.5"/><use href="#p" x="601.7" y="660.2"/><use href="#p" x="741.6" y="591.6"/><use href="#p" x="469.5" y="504.4"/><use href="#p" x="625.7" y="662.4"/><use href="#p" x="640.0" y="631.9"/><use href="#p" x="603.7" y="658.6"/><use href="#p" x="730.6" y="598.8"/><use href="#p" x="698.8" y="618.5"/><use href="#p" x="730.8" y="541.9"/><use href="#p" x="547.2" y="557.7"/><use href="#p" x="657.4" y="645.1"/><use href="#p" x="603.6" y="661.7"/><use href="#p" x="629.8" y="666.6"/><use href="#p" x="784.9" y="580.2"/><use href="#p" x="854.9" y="486.2"/><use href="#p" x="636.9" y="658.5"/><use href="#p" x="643.5" y="663.9"/><use href="#p" x="598.1" y="621.7"/><use href="#p" x="637.2" y="661.4"/><use href="#p" x="598.1" y="628.1"/><use href="#p" x="790.0" y="493.6"/><use href="#p" x="572.0" y="655.6"/><use href="#p" x="658.5" y="659.6"/><use href="#p" x="660.6" y="636.5"/><use href="#p" x="677.1" y="600.7"/><use href="#p" x="701.3" y="585.3"/><use href="#p" x="610.7" y="663.6"/><use href="#p" x="775.8" y="594.1"/><use href="#p" x="690.5" y="635.5"/><use href="#p" x="513.3" y="629.2"/><use href="#p" x="543.9" y="523.8"/><use href="#p" x="651.9" y="660.7"/><use href="#p" x="627.0" y="658.1"/><use href="#p" x="778.2" y="618.9"/><use href="#p" x="633.9" y="666.3"/><use href="#p" x="714.7" y="507.5"/><use href="#p" x="671.7" y="659.2"/><use href="#p" x="664.9" y="648.9"/><use href="#p" x="593.5" y="625.1"/><use href="#p" x="626.5" y="666.3"/><use href="#p" x="664.4" y="589.0"/><use href="#p" x="614.0" y="664.3"/><use href="#p" x="605.5" y="644.7"/><use href="#p" x="645.5" y="660.7"/><use href="#p" x="637.0" y="665.6"/><use href="#p" x="664.6" y="658.6"/><use href="#p" x="742.3" y="621.0"/><use href="#p" x="636.3" y="652.8"/><use href="#p" x="662.5" y="632.7"/><use href="#p" x="489.9" y="592.7"/><use href="#p" x="706.0" y="646.9"/><use href="#p" x="665.1" y="636.5"/><use href="#p" x="647.8" y="644.5"/><use href="#p" x="505.0" y="629.6"/><use href="#p" x="536.8" y="624.9"/><use href="#p" x="602.8" y="649.9"/><use href="#p" x="609.0" y="651.4"/><use href="#p" x="505.7" y="528.0"/><use href="#p" x="606.0" y="647.5"/><use href="#p" x="708.9" y="556.2"/><use href="#p" x="551.9" y="603.6"/><use href="#p" x="598.7" y="633.5"/><use href="#p" x="624.6" y="659.3"/><use href="#p" x="497.5" y="601.0"/><use href="#p" x="532.0" y="586.0"/><use href="#p" x="633.3" y="663.5"/><use href="#p" x="793.2" y="608.7"/><use href="#p" x="574.8" y="557.4"/><use href="#p" x="540.0" y="648.4"/><use href="#p" x="647.4" y="656.2"/><use href="#p" x="689.2" y="585.8"/><use href="#p" x="721.9" y="607.8"/><use href="#p" x="653.2" y="650.3"/><use href="#p" x="620.5" y="664.3"/><use href="#p" x="658.5" y="661.9"/><use href="#p" x="629.7" y="666.7"/><use href="#p" x="712.5" y="578.8"/><use href="#p" x="665.8" y="648.8"/><use href="#p" x="669.1" y="593.6"/><use href="#p" x="613.4" y="660.5"/><use href="#p" x="675.9" y="655.6"/><use href="#p" x="460.9" y="595.9"/><use href="#p" x="601.9" y="635.1"/><use href="#p" x="709.5" y="634.6"/><use href="#p" x="720.3" y="538.3"/><use href="#p" x="618.5" y="659.7"/><use href="#p" x="667.2" y="639.3"/><use href="#p" x="659.2" y="633.5"/><use href="#p" x="623.2" y="664.8"/><use href="#p" x="671.9" y="625.2"/><use href="#p" x="566.9" y="628.7"/><use href="#p" x="534.6" y="582.6"/><use href="#p" x="578.1" y="582.8"/><use href="#p" x="599.0" y="657.7"/><use href="#p" x="551.7" y="604.4"/><use href="#p" x="610.3" y="629.4"/><use href="#p" x="635.6" y="666.0"/><use href="#p" x="589.2" y="655.5"/><use href="#p" x="675.3" y="585.7"/><use href="#p" x="516.1" y="616.7"/><use href="#p" x="605.2" y="626.7"/><use href="#p" x="565.4" y="654.9"/><use href="#p" x="564.8" y="649.1"/><use href="#p" x="620.1" y="633.8"/><use href="#p" x="762.8" y="631.5"/><use href="#p" x="566.4" y="564.8"/><use href="#p" x="627.8" y="667.1"/><use href="#p" x="750.0" y="569.3"/><use href="#p" x="661.6" y="661.9"/><use href="#p" x="631.1" y="666.2"/><use href="#p" x="577.1" y="656.1"/><use href="#p" x="604.9" y="650.0"/><use href="#p" x="763.9" y="512.7"/><use href="#p" x="686.8" y="650.1"/><use href="#p" x="655.3" y="649.5"/><use href="#p" x="575.1" y="647.3"/><use href="#p" x="679.1" y="624.3"/><use href="#p" x="421.0" y="560.5"/><use href="#p" x="634.3" y="665.9"/><use href="#p" x="653.5" y="655.6"/><use href="#p" x="633.3" y="667.5"/><use href="#p" x="635.5" y="667.5"/><use href="#p" x="674.7" y="550.4"/><use href="#p" x="558.6" y="576.4"/><use href="#p" x="656.4" y="645.9"/><use href="#p" x="561.9" y="609.7"/><use href="#p" x="710.7" y="567.9"/><use href="#p" x="480.7" y="503.5"/><use href="#p" x="551.8" y="620.6"/><use href="#p" x="770.7" y="634.1"/><use href="#p" x="726.0" y="550.1"/><use href="#p" x="618.4" y="654.6"/><use href="#p" x="455.5" y="558.4"/><use href="#p" x="511.0" y="487.4"/><use href="#p" x="521.7" y="584.0"/><use href="#p" x="629.9" y="663.3"/><use href="#p" x="542.7" y="497.1"/><use href="#p" x="632.2" y="667.1"/><use href="#p" x="638.2" y="664.7"/><use href="#p" x="646.9" y="659.3"/><use href="#p" x="643.4" y="657.9"/><use href="#p" x="571.4" y="555.4"/><use href="#p" x="577.6" y="615.2"/><use href="#p" x="671.4" y="643.4"/><use href="#p" x="544.0" y="550.0"/><use href="#p" x="714.6" y="570.7"/><use href="#p" x="594.6" y="645.9"/><use href="#p" x="699.7" y="605.5"/><use href="#p" x="704.9" y="647.1"/><use href="#p" x="684.5" y="536.5"/><use href="#p" x="549.6" y="648.6"/><use href="#p" x="452.8" y="550.0"/><use href="#p" x="711.1" y="579.7"/><use href="#p" x="614.9" y="657.1"/><use href="#p" x="627.2" y="651.9"/><use href="#p" x="699.1" y="610.7"/><use href="#p" x="679.6" y="630.6"/><use href="#p" x="692.0" y="561.0"/><use href="#p" x="523.5" y="538.5"/><use href="#p" x="616.6" y="659.6"/><use href="#p" x="643.1" y="661.6"/><use href="#p" x="670.1" y="636.2"/><use href="#p" x="515.3" y="547.8"/><use href="#p" x="488.1" y="591.2"/><use href="#p" x="710.0" y="592.7"/><use href="#p" x="778.6" y="535.6"/><use href="#p" x="569.9" y="653.2"/><use href="#p" x="551.9" y="557.1"/><use href="#p" x="492.0" y="611.7"/><use href="#p" x="550.7" y="622.7"/><use href="#p" x="529.1" y="590.2"/><use href="#p" x="689.4" y="522.7"/><use href="#p" x="569.0" y="643.9"/><use href="#p" x="447.2" y="613.4"/><use href="#p" x="582.1" y="633.4"/><use href="#p" x="681.3" y="622.6"/><use href="#p" x="697.4" y="636.4"/><use href="#p" x="699.0" y="574.2"/><use href="#p" x="538.5" y="591.6"/><use href="#p" x="644.0" y="631.9"/><use href="#p" x="616.3" y="660.9"/><use href="#p" x="621.7" y="664.3"/><use href="#p" x="661.7" y="660.0"/><use href="#p" x="740.9" y="581.7"/><use href="#p" x="549.3" y="626.6"/><use href="#p" x="567.0" y="546.2"/><use href="#p" x="646.1" y="653.0"/><use href="#p" x="641.3" y="664.2"/><use href="#p" x="767.5" y="513.1"/><use href="#p" x="569.6" y="627.5"/><use href="#p" x="568.9" y="631.2"/><use href="#p" x="623.0" y="666.2"/><use href="#p" x="805.8" y="575.4"/><use href="#p" x="651.3" y="640.2"/><use href="#p" x="533.1" y="531.2"/><use href="#p" x="666.9" y="632.3"/><use href="#p" x="681.7" y="628.9"/><use href="#p" x="680.4" y="627.7"/><use href="#p" x="504.7" y="618.7"/><use href="#p" x="581.3" y="650.7"/><use href="#p" x="618.2" y="650.9"/><use href="#p" x="707.1" y="584.8"/><use href="#p" x="647.9" y="651.9"/><use href="#p" x="670.5" y="636.7"/><use href="#p" x="698.1" y="629.4"/><use href="#p" x="455.2" y="587.8"/><use href="#p" x="643.4" y="654.2"/><use href="#p" x="555.8" y="573.8"/><use href="#p" x="680.9" y="638.3"/><use href="#p" x="681.4" y="595.4"/><use href="#p" x="706.4" y="615.0"/><use href="#p" x="473.4" y="625.8"/><use href="#p" x="542.7" y="586.1"/><use href="#p" x="664.2" y="639.0"/><use href="#p" x="563.6" y="649.9"/><use href="#p" x="679.3" y="609.0"/><use href="#p" x="615.6" y="657.8"/><use href="#p" x="629.6" y="667.7"/><use href="#p" x="679.6" y="637.5"/><use href="#p" x="580.0" y="638.2"/><use href="#p" x="746.3" y="608.6"/><use href="#p" x="515.7" y="530.1"/><use href="#p" x="673.8" y="640.4"/><use href="#p" x="498.0" y="574.0"/><use href="#p" x="632.5" y="665.8"/><use href="#p" x="599.3" y="660.3"/><use href="#p" x="458.5" y="611.2"/><use href="#p" x="663.5" y="615.8"/><use href="#p" x="623.5" y="662.7"/><use href="#p" x="600.8" y="584.5"/><use href="#p" x="633.5" y="667.6"/><use href="#p" x="683.9" y="603.1"/><use href="#p" x="525.7" y="588.9"/><use href="#p" x="722.6" y="572.6"/><use href="#p" x="518.6" y="556.0"/><use href="#p" x="599.0" y="658.6"/><use href="#p" x="564.2" y="634.9"/><use href="#p" x="713.9" y="614.8"/><use href="#p" x="606.0" y="639.0"/><use href="#p" x="684.3" y="607.2"/><use href="#p" x="602.6" y="606.8"/><use href="#p" x="538.0" y="560.8"/><use href="#p" x="632.0" y="667.9"/><use href="#p" x="627.9" y="664.8"/><use href="#p" x="470.4" y="531.2"/><use href="#p" x="684.0" y="519.6"/><use href="#p" x="762.1" y="622.2"/><use href="#p" x="671.7" y="612.4"/><use href="#p" x="540.0" y="580.7"/><use href="#p" x="522.9" y="603.0"/><use href="#p" x="624.6" y="666.8"/><use href="#p" x="388.8" y="552.5"/><use href="#p" x="528.7" y="630.4"/><use href="#p" x="557.7" y="633.1"/><use href="#p" x="481.9" y="616.3"/><use href="#p" x="710.2" y="584.7"/><use href="#p" x="640.0" y="663.8"/><use href="#p" x="744.0" y="633.3"/><use href="#p" x="529.8" y="594.2"/><use href="#p" x="690.6" y="616.5"/><use href="#p" x="621.9" y="651.7"/><use href="#p" x="732.5" y="538.6"/><use href="#p" x="508.6" y="635.8"/><use href="#p" x="745.5" y="631.2"/><use href="#p" x="514.1" y="635.2"/><use href="#p" x="479.4" y="589.7"/><use href="#p" x="575.4" y="631.9"/><use href="#p" x="623.8" y="664.4"/><use href="#p" x="563.4" y="595.2"/><use href="#p" x="598.8" y="642.4"/><use href="#p" x="649.2" y="645.8"/><use href="#p" x="645.8" y="661.6"/><use href="#p" x="482.1" y="623.4"/><use href="#p" x="495.1" y="582.3"/><use href="#p" x="654.1" y="653.5"/><use href="#p" x="709.3" y="603.3"/><use href="#p" x="606.6" y="632.1"/><use href="#p" x="602.1" y="659.5"/><use href="#p" x="641.7" y="658.9"/><use href="#p" x="475.5" y="614.5"/><use href="#p" x="606.2" y="628.7"/><use href="#p" x="582.4" y="607.7"/><use href="#p" x="585.7" y="601.3"/><use href="#p" x="580.0" y="601.9"/><use href="#p" x="637.0" y="665.5"/><use href="#p" x="683.3" y="621.3"/><use href="#p" x="764.3" y="625.1"/><use href="#p" x="639.7" y="632.6"/><use href="#p" x="578.5" y="581.5"/><use href="#p" x="626.6" y="667.2"/><use href="#p" x="707.0" y="608.1"/><use href="#p" x="812.8" y="485.4"/><use href="#p" x="605.7" y="647.7"/><use href="#p" x="591.5" y="655.0"/><use href="#p" x="680.6" y="632.6"/><use href="#p" x="659.5" y="649.9"/><use href="#p" x="549.1" y="594.5"/><use href="#p" x="734.1" y="614.0"/><use href="#p" x="591.1" y="656.9"/><use href="#p" x="621.9" y="644.3"/><use href="#p" x="572.9" y="654.8"/><use href="#p" x="755.5" y="636.2"/><use href="#p" x="576.3" y="632.9"/><use href="#p" x="697.9" y="605.2"/><use href="#p" x="663.1" y="645.0"/><use href="#p" x="616.0" y="659.1"/><use href="#p" x="630.2" y="667.8"/><use href="#p" x="555.0" y="497.3"/><use href="#p" x="711.7" y="604.3"/><use href="#p" x="513.4" y="623.1"/><use href="#p" x="407.5" y="548.5"/><use href="#p" x="595.1" y="657.9"/><use href="#p" x="492.5" y="499.8"/><use href="#p" x="630.8" y="667.6"/><use href="#p" x="674.4" y="624.2"/><use href="#p" x="758.0" y="557.4"/><use href="#p" x="458.6" y="523.8"/><use href="#p" x="571.1" y="638.0"/><use href="#p" x="682.1" y="624.1"/><use href="#p" x="449.4" y="546.0"/><use href="#p" x="669.0" y="606.9"/><use href="#p" x="715.1" y="643.6"/><use href="#p" x="586.4" y="648.7"/><use href="#p" x="769.1" y="513.5"/><use href="#p" x="598.7" y="654.2"/><use href="#p" x="635.0" y="667.2"/><use href="#p" x="472.5" y="523.9"/><use href="#p" x="683.3" y="623.9"/><use href="#p" x="741.2" y="601.1"/><use href="#p" x="567.6" y="637.7"/><use href="#p" x="686.2" y="639.6"/><use href="#p" x="604.1" y="607.7"/><use href="#p" x="630.1" y="666.3"/><use href="#p" x="565.8" y="544.1"/><use href="#p" x="529.7" y="602.1"/><use href="#p" x="598.3" y="583.1"/><use href="#p" x="670.8" y="591.4"/><use href="#p" x="758.1" y="563.1"/><use href="#p" x="569.9" y="595.1"/><use href="#p" x="562.9" y="630.9"/><use href="#p" x="618.3" y="651.9"/><use href="#p" x="681.0" y="646.9"/><use href="#p" x="609.1" y="652.0"/><use href="#p" x="568.0" y="625.4"/><use href="#p" x="713.3" y="598.0"/><use href="#p" x="728.5" y="604.0"/><use href="#p" x="566.8" y="631.5"/><use href="#p" x="724.0" y="623.8"/><use href="#p" x="679.5" y="525.7"/><use href="#p" x="576.8" y="606.2"/><use href="#p" x="500.0" y="548.2"/><use href="#p" x="577.1" y="610.6"/><use href="#p" x="659.9" y="638.7"/><use href="#p" x="622.4" y="666.2"/><use href="#p" x="595.6" y="652.8"/><use href="#p" x="595.8" y="625.6"/><use href="#p" x="662.6" y="618.7"/><use href="#p" x="683.0" y="645.6"/><use href="#p" x="608.1" y="611.0"/><use href="#p" x="582.7" y="618.1"/><use href="#p" x="559.8" y="609.5"/><use href="#p" x="704.4" y="587.7"/><use href="#p" x="568.8" y="608.4"/><use href="#p" x="590.4" y="591.0"/><use href="#p" x="488.4" y="626.3"/><use href="#p" x="691.3" y="596.5"/><use href="#p" x="757.0" y="496.9"/><use href="#p" x="533.7" y="634.6"/><use href="#p" x="580.4" y="607.8"/><use href="#p" x="585.9" y="530.1"/><use href="#p" x="607.2" y="661.5"/><use href="#p" x="619.2" y="662.2"/><use href="#p" x="727.8" y="642.0"/><use href="#p" x="456.3" y="495.1"/><use href="#p" x="588.3" y="605.4"/><use href="#p" x="770.3" y="610.3"/><use href="#p" x="498.0" y="534.5"/><use href="#p" x="333.5" y="497.0"/><use href="#p" x="577.5" y="642.7"/><use href="#p" x="594.6" y="630.8"/><use href="#p" x="729.0" y="494.7"/><use href="#p" x="697.0" y="580.8"/><use href="#p" x="706.6" y="584.4"/><use href="#p" x="633.9" y="665.7"/><use href="#p" x="521.7" y="591.4"/><use href="#p" x="462.0" y="548.7"/><use href="#p" x="710.5" y="537.2"/><use href="#p" x="641.5" y="658.7"/><use href="#p" x="720.2" y="566.5"/><use href="#p" x="628.9" y="663.6"/><use href="#p" x="710.4" y="619.3"/><use href="#p" x="717.2" y="583.4"/><use href="#p" x="704.7" y="619.1"/><use href="#p" x="455.4" y="615.3"/><use href="#p" x="663.8" y="658.4"/><use href="#p" x="661.8" y="654.8"/><use href="#p" x="518.2" y="628.3"/><use href="#p" x="665.3" y="651.2"/><use href="#p" x="744.4" y="574.7"/><use href="#p" x="753.6" y="614.5"/><use href="#p" x="666.1" y="641.2"/><use href="#p" x="497.1" y="633.4"/><use href="#p" x="642.4" y="663.3"/><use href="#p" x="650.2" y="624.0"/><use href="#p" x="650.4" y="653.9"/><use href="#p" x="680.5" y="497.4"/><use href="#p" x="770.6" y="593.3"/><use href="#p" x="685.6" y="635.1"/><use href="#p" x="623.4" y="646.0"/><use href="#p" x="564.7" y="515.9"/><use href="#p" x="651.5" y="644.1"/><use href="#p" x="699.6" y="633.7"/><use href="#p" x="661.4" y="626.1"/><use href="#p" x="741.1" y="593.5"/><use href="#p" x="594.1" y="624.6"/><use href="#p" x="554.8" y="651.2"/><use href="#p" x="674.5" y="642.0"/><use href="#p" x="764.8" y="579.5"/><use href="#p" x="617.5" y="657.6"/><use href="#p" x="548.5" y="644.7"/><use href="#p" x="611.0" y="648.4"/><use href="#p" x="635.7" y="667.0"/><use href="#p" x="684.5" y="584.0"/><use href="#p" x="630.0" y="667.3"/><use href="#p" x="666.0" y="642.1"/><use href="#p" x="545.6" y="644.1"/><use href="#p" x="687.3" y="577.0"/><use href="#p" x="550.2" y="651.9"/><use href="#p" x="741.8" y="584.9"/><use href="#p" x="650.6" y="657.7"/><use href="#p" x="600.1" y="627.8"/><use href="#p" x="705.4" y="653.2"/><use href="#p" x="479.7" y="613.0"/><use href="#p" x="599.3" y="647.8"/><use href="#p" x="672.5" y="570.0"/><use href="#p" x="596.5" y="646.2"/><use href="#p" x="606.9" y="662.5"/><use href="#p" x="553.8" y="631.5"/><use href="#p" x="609.5" y="661.2"/><use href="#p" x="590.9" y="626.8"/><use href="#p" x="652.3" y="649.4"/><use href="#p" x="570.4" y="633.3"/><use href="#p" x="674.5" y="641.6"/><use href="#p" x="654.1" y="653.3"/><use href="#p" x="682.6" y="640.5"/><use href="#p" x="515.7" y="549.6"/><use href="#p" x="732.9" y="613.0"/><use href="#p" x="753.4" y="599.4"/><use href="#p" x="658.7" y="640.6"/><use href="#p" x="488.0" y="520.2"/><use href="#p" x="666.0" y="592.2"/><use href="#p" x="687.7" y="651.1"/><use href="#p" x="741.8" y="603.4"/><use href="#p" x="643.8" y="661.5"/><use href="#p" x="536.3" y="590.5"/><use href="#p" x="594.0" y="659.2"/><use href="#p" x="685.4" y="545.6"/><use href="#p" x="842.3" y="516.4"/><use href="#p" x="533.3" y="578.0"/><use href="#p" x="445.8" y="560.7"/><use href="#p" x="580.4" y="635.2"/><use href="#p" x="605.7" y="658.5"/><use href="#p" x="641.4" y="656.1"/><use href="#p" x="770.6" y="523.9"/><use href="#p" x="689.9" y="591.8"/><use href="#p" x="538.6" y="633.8"/><use href="#p" x="686.6" y="566.1"/><use href="#p" x="633.4" y="667.1"/><use href="#p" x="574.9" y="617.8"/><use href="#p" x="661.7" y="657.6"/><use href="#p" x="581.4" y="617.7"/><use href="#p" x="616.4" y="656.3"/><use href="#p" x="589.6" y="653.5"/><use href="#p" x="637.0" y="650.5"/><use href="#p" x="584.4" y="626.0"/><use href="#p" x="625.6" y="666.5"/><use href="#p" x="651.7" y="639.9"/><use href="#p" x="716.0" y="628.9"/><use href="#p" x="688.1" y="544.7"/><use href="#p" x="518.2" y="628.0"/><use href="#p" x="479.4" y="515.4"/><use href="#p" x="560.7" y="601.7"/><use href="#p" x="676.6" y="602.7"/><use href="#p" x="699.5" y="548.0"/><use href="#p" x="789.0" y="595.8"/><use href="#p" x="665.2" y="652.6"/><use href="#p" x="534.4" y="522.8"/><use href="#p" x="582.2" y="613.1"/><use href="#p" x="569.1" y="633.1"/><use href="#p" x="649.9" y="650.4"/><use href="#p" x="781.1" y="493.5"/><use href="#p" x="557.4" y="592.6"/><use href="#p" x="587.7" y="637.6"/><use href="#p" x="670.7" y="638.0"/><use href="#p" x="621.5" y="663.2"/><use href="#p" x="552.6" y="577.5"/><use href="#p" x="697.5" y="594.4"/><use href="#p" x="650.6" y="661.4"/><use href="#p" x="729.9" y="617.9"/><use href="#p" x="519.6" y="604.4"/><use href="#p" x="613.0" y="661.3"/><use href="#p" x="648.2" y="645.1"/><use href="#p" x="680.3" y="656.7"/><use href="#p" x="629.0" y="666.0"/><use href="#p" x="546.4" y="596.2"/><use href="#p" x="707.3" y="648.5"/><use href="#p" x="737.9" y="559.0"/><use href="#p" x="558.5" y="610.9"/><use href="#p" x="634.3" y="666.2"/><use href="#p" x="625.9" y="656.6"/><use href="#p" x="734.2" y="496.5"/><use href="#p" x="635.6" y="661.1"/><use href="#p" x="507.0" y="556.5"/><use href="#p" x="598.3" y="613.8"/><use href="#p" x="539.2" y="603.6"/><use href="#p" x="627.7" y="664.0"/><use href="#p" x="660.5" y="644.6"/><use href="#p" x="746.3" y="597.7"/><use href="#p" x="710.5" y="592.0"/><use href="#p" x="634.1" y="659.0"/><use href="#p" x="605.3" y="659.5"/><use href="#p" x="847.8" y="559.8"/><use href="#p" x="602.4" y="661.9"/><use href="#p" x="431.0" y="591.0"/><use href="#p" x="531.2" y="597.6"/><use href="#p" x="627.5" y="652.5"/><use href="#p" x="693.3" y="623.1"/><use href="#p" x="798.0" y="527.3"/><use href="#p" x="738.3" y="547.4"/><use href="#p" x="701.4" y="625.0"/><use href="#p" x="579.5" y="642.4"/><use href="#p" x="762.8" y="636.5"/><use href="#p" x="704.4" y="650.4"/><use href="#p" x="524.6" y="492.8"/><use href="#p" x="556.5" y="607.5"/><use href="#p" x="527.4" y="588.1"/><use href="#p" x="717.1" y="636.9"/><use href="#p" x="618.7" y="637.5"/><use href="#p" x="656.3" y="654.9"/><use href="#p" x="604.5" y="645.9"/><use href="#p" x="704.3" y="633.4"/><use href="#p" x="641.4" y="665.8"/><use href="#p" x="532.8" y="609.5"/><use href="#p" x="569.3" y="629.8"/><use href="#p" x="677.8" y="641.8"/><use href="#p" x="679.9" y="639.1"/><use href="#p" x="627.0" y="664.9"/><use href="#p" x="689.5" y="653.9"/><use href="#p" x="602.6" y="626.8"/><use href="#p" x="723.3" y="615.0"/><use href="#p" x="697.7" y="649.4"/><use href="#p" x="784.7" y="506.2"/><use href="#p" x="647.0" y="646.9"/><use href="#p" x="583.2" y="658.6"/><use href="#p" x="584.6" y="635.4"/><use href="#p" x="621.4" y="658.8"/><use href="#p" x="755.1" y="619.4"/><use href="#p" x="633.4" y="667.1"/><use href="#p" x="788.5" y="622.8"/><use href="#p" x="753.1" y="629.1"/><use href="#p" x="715.2" y="640.0"/><use href="#p" x="618.2" y="655.5"/><use href="#p" x="515.3" y="596.6"/><use href="#p" x="399.2" y="552.5"/><use href="#p" x="656.6" y="624.2"/><use href="#p" x="564.5" y="650.9"/><use href="#p" x="587.6" y="660.0"/><use href="#p" x="636.5" y="665.2"/><use href="#p" x="617.5" y="652.5"/><use href="#p" x="753.3" y="583.6"/><use href="#p" x="537.2" y="637.3"/><use href="#p" x="654.7" y="657.0"/><use href="#p" x="586.1" y="612.2"/><use href="#p" x="569.2" y="634.3"/><use href="#p" x="733.5" y="608.7"/><use href="#p" x="723.8" y="495.5"/><use href="#p" x="681.5" y="624.1"/><use href="#p" x="685.9" y="591.1"/><use href="#p" x="571.7" y="571.5"/><use href="#p" x="594.8" y="635.4"/><use href="#p" x="559.8" y="634.1"/><use href="#p" x="569.7" y="635.2"/><use href="#p" x="565.1" y="618.4"/><use href="#p" x="670.7" y="645.4"/><use href="#p" x="517.5" y="632.2"/><use href="#p" x="610.9" y="664.5"/><use href="#p" x="666.2" y="649.6"/><use href="#p" x="560.5" y="648.7"/><use href="#p" x="654.7" y="663.1"/><use href="#p" x="651.9" y="660.9"/><use href="#p" x="569.0" y="519.2"/><use href="#p" x="623.8" y="662.7"/><use href="#p" x="506.5" y="530.7"/><use href="#p" x="562.5" y="611.3"/><use href="#p" x="565.2" y="599.8"/><use href="#p" x="663.3" y="632.3"/><use href="#p" x="554.9" y="624.8"/><use href="#p" x="663.6" y="650.0"/><use href="#p" x="599.3" y="624.6"/><use href="#p" x="609.9" y="661.3"/><use href="#p" x="622.7" y="625.8"/><use href="#p" x="584.6" y="613.2"/><use href="#p" x="617.4" y="665.0"/><use href="#p" x="589.6" y="587.6"/><use href="#p" x="806.2" y="617.0"/><use href="#p" x="609.3" y="653.9"/><use href="#p" x="311.2" y="487.5"/><use href="#p" x="748.6" y="546.3"/><use href="#p" x="634.4" y="665.5"/><use href="#p" x="604.1" y="663.4"/><use href="#p" x="552.6" y="644.4"/><use href="#p" x="640.1" y="660.4"/><use href="#p" x="608.3" y="621.0"/><use href="#p" x="617.6" y="661.1"/><use href="#p" x="698.1" y="610.8"/><use href="#p" x="543.4" y="542.5"/><use href="#p" x="556.0" y="606.5"/><use href="#p" x="677.1" y="624.0"/><use href="#p" x="696.5" y="514.1"/><use href="#p" x="653.5" y="629.9"/><use href="#p" x="720.8" y="597.4"/><use href="#p" x="678.6" y="590.7"/><use href="#p" x="542.1" y="646.3"/><use href="#p" x="624.9" y="647.9"/><use href="#p" x="691.4" y="649.2"/><use href="#p" x="729.1" y="619.6"/><use href="#p" x="509.5" y="541.2"/><use href="#p" x="501.7" y="594.7"/><use href="#p" x="626.2" y="663.2"/><use href="#p" x="641.8" y="652.8"/><use href="#p" x="686.2" y="628.1"/><use href="#p" x="663.0" y="650.1"/><use href="#p" x="640.8" y="636.8"/><use href="#p" x="579.8" y="626.0"/><use href="#p" x="565.5" y="633.6"/><use href="#p" x="524.2" y="617.9"/><use href="#p" x="598.1" y="653.8"/><use href="#p" x="633.5" y="667.5"/><use href="#p" x="560.3" y="624.8"/><use href="#p" x="654.1" y="650.8"/><use href="#p" x="458.1" y="625.7"/><use href="#p" x="720.3" y="568.9"/><use href="#p" x="708.5" y="604.4"/><use href="#p" x="433.2" y="552.1"/><use href="#p" x="589.5" y="629.7"/><use href="#p" x="733.6" y="640.0"/><use href="#p" x="651.1" y="641.2"/><use href="#p" x="735.4" y="627.2"/><use href="#p" x="557.7" y="628.6"/><use href="#p" x="716.3" y="535.0"/><use href="#p" x="702.9" y="632.1"/><use href="#p" x="644.4" y="652.3"/><use href="#p" x="699.7" y="583.3"/><use href="#p" x="561.0" y="643.1"/><use href="#p" x="531.5" y="551.4"/><use href="#p" x="569.9" y="654.2"/><use href="#p" x="563.1" y="652.4"/><use href="#p" x="622.0" y="660.2"/><use href="#p" x="785.1" y="505.3"/><use href="#p" x="581.8" y="656.9"/><use href="#p" x="496.8" y="558.4"/><use href="#p" x="584.3" y="657.6"/><use href="#p" x="584.8" y="626.3"/><use href="#p" x="658.7" y="628.2"/><use href="#p" x="674.7" y="654.6"/><use href="#p" x="594.6" y="654.5"/><use href="#p" x="749.1" y="582.9"/><use href="#p" x="529.6" y="552.8"/><use href="#p" x="762.2" y="621.7"/><use href="#p" x="692.2" y="583.4"/><use href="#p" x="510.2" y="576.3"/><use href="#p" x="497.7" y="519.6"/><use href="#p" x="679.1" y="582.8"/><use href="#p" x="626.9" y="666.0"/><use href="#p" x="638.2" y="665.1"/><use href="#p" x="554.1" y="637.8"/><use href="#p" x="622.2" y="656.3"/><use href="#p" x="600.8" y="652.3"/><use href="#p" x="695.2" y="650.4"/><use href="#p" x="641.6" y="641.7"/><use href="#p" x="721.0" y="604.3"/><use href="#p" x="587.9" y="655.0"/><use href="#p" x="632.5" y="667.5"/><use href="#p" x="530.8" y="627.3"/><use href="#p" x="572.4" y="649.2"/><use href="#p" x="574.3" y="654.1"/><use href="#p" x="677.8" y="611.9"/><use href="#p" x="498.2" y="534.3"/><use href="#p" x="492.9" y="485.7"/><use href="#p" x="649.3" y="655.9"/><use href="#p" x="599.0" y="617.2"/><use href="#p" x="774.9" y="501.5"/><use href="#p" x="617.7" y="662.8"/><use href="#p" x="733.4" y="639.7"/><use href="#p" x="674.2" y="644.5"/><use href="#p" x="722.5" y="540.0"/><use href="#p" x="651.8" y="637.9"/><use href="#p" x="658.3" y="655.7"/><use href="#p" x="648.9" y="655.2"/><use href="#p" x="636.9" y="653.1"/><use href="#p" x="713.4" y="650.1"/><use href="#p" x="715.4" y="518.0"/><use href="#p" x="678.1" y="640.3"/><use href="#p" x="654.3" y="657.4"/><use href="#p" x="701.5" y="486.2"/><use href="#p" x="697.9" y="642.6"/><use href="#p" x="711.4" y="604.7"/><use href="#p" x="495.1" y="487.2"/><use href="#p" x="700.1" y="545.3"/><use href="#p" x="550.5" y="599.8"/><use href="#p" x="653.7" y="636.9"/><use href="#p" x="718.5" y="517.4"/><use href="#p" x="628.6" y="664.2"/><use href="#p" x="601.0" y="632.7"/><use href="#p" x="568.4" y="627.0"/><use href="#p" x="603.4" y="624.7"/><use href="#p" x="593.2" y="660.7"/><use href="#p" x="739.3" y="512.6"/><use href="#p" x="604.3" y="628.6"/><use href="#p" x="522.6" y="644.4"/><use href="#p" x="739.1" y="561.6"/><use href="#p" x="710.1" y="648.6"/><use href="#p" x="532.4" y="566.2"/><use href="#p" x="681.1" y="639.3"/><use href="#p" x="617.3" y="644.8"/><use href="#p" x="552.3" y="644.4"/><use href="#p" x="611.0" y="663.8"/><use href="#p" x="591.7" y="628.4"/><use href="#p" x="666.3" y="625.4"/><use href="#p" x="630.7" y="667.6"/><use href="#p" x="648.9" y="661.6"/><use href="#p" x="522.7" y="637.4"/><use href="#p" x="704.2" y="637.0"/><use href="#p" x="688.3" y="600.9"/><use href="#p" x="649.4" y="660.6"/><use href="#p" x="684.5" y="598.9"/><use href="#p" x="656.4" y="647.5"/><use href="#p" x="590.3" y="626.1"/><use href="#p" x="694.5" y="601.8"/><use href="#p" x="627.2" y="664.2"/><use href="#p" x="860.6" y="540.4"/><use href="#p" x="604.0" y="636.3"/><use href="#p" x="593.6" y="635.0"/><use href="#p" x="588.0" y="654.0"/><use href="#p" x="658.4" y="660.7"/><use href="#p" x="648.8" y="627.7"/><use href="#p" x="709.2" y="603.6"/><use href="#p" x="614.1" y="658.3"/><use href="#p" x="690.5" y="629.8"/><use href="#p" x="528.9" y="630.5"/><use href="#p" x="781.7" y="533.0"/><use href="#p" x="628.3" y="666.6"/><use href="#p" x="619.1" y="659.4"/><use href="#p" x="565.0" y="626.8"/><use href="#p" x="544.2" y="635.1"/><use href="#p" x="634.4" y="667.4"/><use href="#p" x="633.1" y="667.5"/><use href="#p" x="434.0" y="582.2"/><use href="#p" x="494.6" y="516.8"/><use href="#p" x="648.1" y="645.9"/><use href="#p" x="690.2" y="620.5"/><use href="#p" x="518.7" y="631.0"/><use href="#p" x="759.0" y="484.7"/><use href="#p" x="668.0" y="661.2"/><use href="#p" x="666.0" y="634.5"/><use href="#p" x="704.9" y="604.5"/><use href="#p" x="650.2" y="662.0"/><use href="#p" x="456.1" y="599.5"/><use href="#p" x="562.7" y="638.5"/><use href="#p" x="507.0" y="621.3"/><use href="#p" x="586.5" y="631.3"/><use href="#p" x="637.7" y="659.2"/><use href="#p" x="757.1" y="561.5"/><use href="#p" x="587.7" y="653.0"/><use href="#p" x="632.3" y="667.8"/><use href="#p" x="700.4" y="603.9"/><use href="#p" x="652.3" y="644.3"/><use href="#p" x="676.3" y="650.4"/><use href="#p" x="645.5" y="650.7"/><use href="#p" x="612.6" y="645.3"/><use href="#p" x="550.0" y="594.3"/><use href="#p" x="693.7" y="622.5"/><use href="#p" x="696.8" y="591.9"/><use href="#p" x="490.8" y="518.9"/><use href="#p" x="725.6" y="582.6"/><use href="#p" x="661.1" y="638.7"/><use href="#p" x="537.5" y="641.1"/><use href="#p" x="568.7" y="605.8"/><use href="#p" x="759.4" y="595.9"/><use href="#p" x="619.5" y="632.2"/><use href="#p" x="636.8" y="664.7"/><use href="#p" x="632.9" y="667.8"/><use href="#p" x="704.0" y="596.5"/><use href="#p" x="558.9" y="588.3"/><use href="#p" x="724.7" y="582.4"/><use href="#p" x="596.7" y="660.3"/><use href="#p" x="566.0" y="592.2"/><use href="#p" x="679.2" y="630.1"/><use href="#p" x="635.1" y="665.0"/><use href="#p" x="563.4" y="637.7"/><use href="#p" x="807.9" y="517.4"/><use href="#p" x="718.7" y="625.1"/>
</g><g class="m">
<use href="#p" x="325.6" y="39.6"/><use href="#p" x="475.8" y="105.6"/><use href="#p" x="478.4" y="130.4"/><use href="#p" x="506.4" y="188.6"/><use href="#p" x="789.5" y="36.2"/><use href="#p" x="814.2" y="40.2"/><use href="#p" x="862.8" y="38.8"/><use href="#p" x="854.5" y="146.5"/><use href="#p" x="331.8" y="232.0"/><use href="#p" x="345.0" y="294.0"/><use href="#p" x="252.5" y="362.5"/><use href="#p" x="295.2" y="358.8"/><use href="#p" x="418.2" y="226.8"/><use href="#p" x="461.8" y="242.0"/><use href="#p" x="465.8" y="248.2"/><use href="#p" x="373.8" y="255.2"/><use href="#p" x="531.2" y="267.2"/><use href="#p" x="482.5" y="274.0"/><use href="#p" x="527.0" y="286.2"/><use href="#p" x="443.8" y="289.2"/><use href="#p" x="437.0" y="323.0"/><use href="#p" x="444.2" y="323.0"/><use href="#p" x="450.0" y="326.2"/><use href="#p" x="539.5" y="322.5"/><use href="#p" x="465.5" y="335.0"/><use href="#p" x="466.2" y="335.3"/><use href="#p" x="501.5" y="349.5"/><use href="#p" x="493.2" y="355.0"/><use href="#p" x="523.8" y="357.0"/><use href="#p" x="355.5" y="369.5"/><use href="#p" x="506.2" y="369.2"/><use href="#p" x="511.0" y="367.5"/><use href="#p" x="461.2" y="371.8"/><use href="#p" x="484.8" y="371.8"/><use href="#p" x="533.8" y="373.8"/><use href="#p" x="523.0" y="378.8"/><use href="#p" x="460.0" y="381.2"/><use href="#p" x="435.0" y="386.2"/><use href="#p" x="506.8" y="386.2"/><use href="#p" x="703.2" y="268.8"/><use href="#p" x="741.5" y="295.0"/><use href="#p" x="703.2" y="326.2"/><use href="#p" x="749.2" y="326.2"/><use href="#p" x="760.8" y="340.8"/><use href="#p" x="772.5" y="338.0"/><use href="#p" x="760.8" y="352.0"/><use href="#p" x="705.5" y="376.2"/><use href="#p" x="745.0" y="383.0"/><use href="#p" x="854.8" y="253.8"/><use href="#p" x="830.0" y="350.0"/><use href="#p" x="839.0" y="348.8"/><use href="#p" x="908.0" y="376.2"/><use href="#p" x="818.8" y="385.8"/><use href="#p" x="839.2" y="387.5"/><use href="#p" x="351.6" y="399.2"/><use href="#p" x="308.0" y="403.8"/><use href="#p" x="355.4" y="428.6"/><use href="#p" x="332.4" y="445.0"/><use href="#p" x="357.6" y="455.0"/><use href="#p" x="296.2" y="465.0"/><use href="#p" x="303.0" y="473.6"/><use href="#p" x="346.0" y="473.0"/><use href="#p" x="374.4" y="469.0"/><use href="#p" x="375.4" y="481.0"/><use href="#p" x="398.0" y="443.4"/><use href="#p" x="419.6" y="409.6"/><use href="#p" x="415.2" y="415.6"/><use href="#p" x="420.0" y="431.0"/><use href="#p" x="433.6" y="398.0"/><use href="#p" x="437.0" y="423.6"/><use href="#p" x="431.0" y="444.0"/><use href="#p" x="415.0" y="473.0"/><use href="#p" x="420.0" y="472.0"/><use href="#p" x="425.4" y="469.6"/><use href="#p" x="424.6" y="477.6"/><use href="#p" x="432.0" y="471.4"/><use href="#p" x="437.0" y="467.4"/><use href="#p" x="439.6" y="461.6"/><use href="#p" x="502.4" y="392.4"/><use href="#p" x="535.4" y="389.6"/><use href="#p" x="542.6" y="391.6"/><use href="#p" x="468.0" y="391.6"/><use href="#p" x="481.6" y="394.0"/><use href="#p" x="509.0" y="403.0"/><use href="#p" x="513.0" y="399.6"/><use href="#p" x="566.0" y="400.4"/><use href="#p" x="590.0" y="413.0"/><use href="#p" x="443.6" y="413.0"/><use href="#p" x="480.6" y="414.6"/><use href="#p" x="517.0" y="420.0"/><use href="#p" x="514.6" y="422.4"/><use href="#p" x="524.4" y="418.4"/><use href="#p" x="532.4" y="423.0"/><use href="#p" x="503.4" y="428.0"/><use href="#p" x="464.4" y="436.0"/><use href="#p" x="474.4" y="437.6"/><use href="#p" x="509.6" y="440.0"/><use href="#p" x="501.4" y="446.6"/><use href="#p" x="506.0" y="449.0"/><use href="#p" x="522.6" y="450.6"/><use href="#p" x="537.0" y="449.6"/><use href="#p" x="533.0" y="455.0"/><use href="#p" x="539.0" y="456.6"/><use href="#p" x="537.0" y="461.4"/><use href="#p" x="550.0" y="460.0"/><use href="#p" x="554.0" y="461.0"/><use href="#p" x="446.4" y="455.0"/><use href="#p" x="491.6" y="461.0"/><use href="#p" x="479.0" y="469.0"/><use href="#p" x="461.4" y="474.0"/><use href="#p" x="471.0" y="473.6"/><use href="#p" x="471.4" y="477.6"/><use href="#p" x="483.6" y="478.6"/><use href="#p" x="491.0" y="473.0"/><use href="#p" x="494.4" y="475.6"/><use href="#p" x="490.6" y="480.0"/><use href="#p" x="505.6" y="473.0"/><use href="#p" x="520.4" y="469.6"/><use href="#p" x="523.6" y="471.4"/><use href="#p" x="515.6" y="481.0"/><use href="#p" x="538.0" y="478.0"/><use href="#p" x="546.6" y="470.0"/><use href="#p" x="564.6" y="478.6"/><use href="#p" x="576.0" y="478.0"/><use href="#p" x="576.4" y="465.4"/><use href="#p" x="591.6" y="469.0"/><use href="#p" x="724.4" y="399.0"/><use href="#p" x="743.0" y="400.0"/><use href="#p" x="803.0" y="393.0"/><use href="#p" x="800.0" y="396.0"/><use href="#p" x="810.0" y="400.0"/><use href="#p" x="734.0" y="413.6"/><use href="#p" x="737.0" y="417.0"/><use href="#p" x="777.6" y="413.0"/><use href="#p" x="799.6" y="412.4"/><use href="#p" x="776.0" y="420.4"/><use href="#p" x="783.4" y="419.0"/><use href="#p" x="819.8" y="418.3"/><use href="#p" x="706.0" y="433.6"/><use href="#p" x="758.6" y="432.0"/><use href="#p" x="757.0" y="442.0"/><use href="#p" x="719.0" y="444.0"/><use href="#p" x="710.4" y="448.0"/><use href="#p" x="718.0" y="448.0"/><use href="#p" x="745.6" y="448.6"/><use href="#p" x="761.0" y="449.0"/><use href="#p" x="796.0" y="450.0"/><use href="#p" x="721.4" y="456.0"/><use href="#p" x="760.6" y="456.0"/><use href="#p" x="759.0" y="458.0"/><use href="#p" x="753.0" y="460.4"/><use href="#p" x="757.4" y="460.6"/><use href="#p" x="749.6" y="465.0"/><use href="#p" x="742.4" y="468.6"/><use href="#p" x="776.0" y="465.0"/><use href="#p" x="713.6" y="467.6"/><use href="#p" x="722.6" y="470.0"/><use href="#p" x="733.4" y="472.0"/><use href="#p" x="732.0" y="475.6"/><use href="#p" x="725.4" y="478.6"/><use href="#p" x="671.4" y="473.6"/><use href="#p" x="692.6" y="472.0"/><use href="#p" x="690.2" y="475.6"/><use href="#p" x="691.0" y="475.8"/><use href="#p" x="706.6" y="476.6"/><use href="#p" x="707.0" y="479.4"/><use href="#p" x="753.6" y="476.0"/><use href="#p" x="768.0" y="479.4"/><use href="#p" x="774.4" y="475.0"/><use href="#p" x="780.6" y="473.6"/><use href="#p" x="795.4" y="478.0"/><use href="#p" x="854.6" y="402.0"/><use href="#p" x="830.0" y="416.6"/><use href="#p" x="830.4" y="427.4"/><use href="#p" x="868.6" y="438.4"/><use href="#p" x="836.4" y="452.6"/><use href="#p" x="841.0" y="460.0"/><use href="#p" x="843.0" y="461.6"/><use href="#p" x="878.0" y="471.0"/><use href="#p" x="891.2" y="476.0"/>
</g>
<g class="ar">
<path d="M332.1 27.9L326.4 37.5M326.5 29.5L326.4 37.5L333.4 33.6"/>
<path d="M782.0 28.9L787.8 34.4M780.0 32.5L787.8 34.4L785.5 26.7"/>
<path d="M869.7 45.2L863.6 40.0M871.5 41.5L863.6 40.0L866.3 47.5"/>
<path d="M339.7 225.6L333.4 230.6M336.3 223.2L333.4 230.6L341.3 229.4"/>
<path d="M259.1 355.0L253.6 360.8M255.5 353.0L253.6 360.8L261.3 358.5"/>
<path d="M436.1 283.1L442.4 288.0M434.5 286.9L442.4 288.0L439.4 280.6"/>
<path d="M504.0 325.2L506.5 367.8M502.1 361.1L506.5 367.8L510.1 360.6"/>
<path d="M695.0 262.4L701.5 267.0M693.5 266.3L701.5 267.0L698.2 259.7"/>
<path d="M548.5 300.5L539.5 320.2M538.7 312.2L539.5 320.2L546.0 315.6"/>
<path d="M754.5 310.8L743.0 297.2M750.5 299.9L743.0 297.2L744.4 305.1"/>
<path d="M542.2 369.2L535.0 373.0M539.3 366.2L535.0 373.0L543.0 373.3"/>
<path d="M836.5 228.5L854.0 252.2M846.7 249.0L854.0 252.2L853.1 244.3"/>
<path d="M834.5 359.5L838.5 350.5M839.3 358.5L838.5 350.5L832.0 355.2"/>
<path d="M863.7 396.4L856.5 399.9M861.0 393.3L856.5 399.9L864.5 400.5"/>
<path d="M453.2 378.6L459.6 373.4M456.7 380.9L459.6 373.4L451.7 374.7"/>
<path d="M541.0 391.2L524.8 380.2M532.8 380.8L524.8 380.2L528.3 387.4"/>
<path d="M494.3 433.8L501.7 394.2M504.4 401.7L501.7 394.2L496.5 400.3"/>
<path d="M812.4 425.0L818.7 420.0M815.8 427.4L818.7 420.0L810.8 421.2"/>
</g>
<g class="lb">
<text x="335" y="30.2" text-anchor="start">Tetranectin</text>
<text x="777" y="29.8" text-anchor="end">SVEP1</text>
<text x="819.3" y="66.2" text-anchor="start">R-spondin-4</text>
<text x="287" y="222.3" text-anchor="start">Hemojuvelin</text>
<text x="111.3" y="352.5" text-anchor="start">Putative hydrolase RBBP9</text>
<text x="361.3" y="279.7" text-anchor="start">GDF-11/8</text>
<text x="377.3" y="331.3" text-anchor="start">Kallikrein-7</text>
<text x="485.3" y="258.6" text-anchor="start">Natriuretic peptides B</text>
<text x="503.5" y="298" text-anchor="start">Myocilin</text>
<text x="526.6" y="331.5" text-anchor="start" letter-spacing="0.025">Insulin-like growth factor-binding protein 2</text>
<text x="516.6" y="365.0" text-anchor="start">IGFALS</text>
<text x="675.8" y="225.6" text-anchor="start">Metalloproteinase inhibitor 1</text>
<text x="799.8" y="375.6" text-anchor="start">C7</text>
<text x="855.2" y="392" text-anchor="start">TGFB1</text>
<text x="385.5" y="399.7" text-anchor="start">Kit ligand</text>
<text x="504.8" y="412.6" text-anchor="start" letter-spacing="-0.08">Proactivator polypeptide-like 1</text>
<text x="490.9" y="446.2" text-anchor="end">Insulin-like growth factor I</text>
<text x="526.6" y="445.6" text-anchor="start">Insulin-like growth factor-binding protein 7</text>
</g>
</g>
<rect x="104.4" y="4.9" width="893.2" height="694.4" fill="none" stroke="#3d3d3d" stroke-width="1.35"/>
<g stroke="#222222" stroke-width="2">
<line x1="288.2" x2="288.2" y1="699.3" y2="704.9"/>
<line x1="460.0" x2="460.0" y1="699.3" y2="704.9"/>
<line x1="631.7" x2="631.7" y1="699.3" y2="704.9"/>
<line x1="803.5" x2="803.5" y1="699.3" y2="704.9"/>
<line x1="99.10000000000001" x2="104.4" y1="668.2" y2="668.2"/>
<line x1="99.10000000000001" x2="104.4" y1="504.4" y2="504.4"/>
<line x1="99.10000000000001" x2="104.4" y1="340.6" y2="340.6"/>
<line x1="99.10000000000001" x2="104.4" y1="176.8" y2="176.8"/>
<line x1="99.10000000000001" x2="104.4" y1="13.0" y2="13.0"/>
</g>
<g class="tk">
<text x="288.2" y="728.7" text-anchor="middle">0.25</text>
<text x="460.0" y="728.7" text-anchor="middle">0.50</text>
<text x="631.7" y="728.7" text-anchor="middle">1.00</text>
<text x="803.5" y="728.7" text-anchor="middle">2.00</text>
<text x="94.6" y="678.7" text-anchor="end">0.0</text>
<text x="94.6" y="514.9" text-anchor="end">2.5</text>
<text x="94.6" y="351.1" text-anchor="end">5.0</text>
<text x="94.6" y="187.3" text-anchor="end">7.5</text>
<text x="94.6" y="23.5" text-anchor="end">10.0</text>
</g>
<g class="tt">
<text x="419.2" y="760.6">HR per</text><text x="524" y="760.6">log</text><text x="560.5" y="766.2" font-size="19.6px">2</text><text x="578.5" y="760.6">(protein)</text>
<g transform="translate(23.3,445.5) rotate(-90)"><text x="0" y="-0.5" font-size="22px">−</text><text x="15" y="0">log</text><text x="55.5" y="5.3" font-size="19.6px">10</text><text x="82.7" y="0">(p-value)</text></g>
<text x="399" y="826.6">FDR q&lt;0.05</text><text x="602" y="826.6">FDR q≥0.05</text>
</g>
<g class="m"><use href="#p" x="373" y="817.2"/></g><g class="g"><use href="#p" x="576.2" y="817.2"/></g>
</svg></body></html>
